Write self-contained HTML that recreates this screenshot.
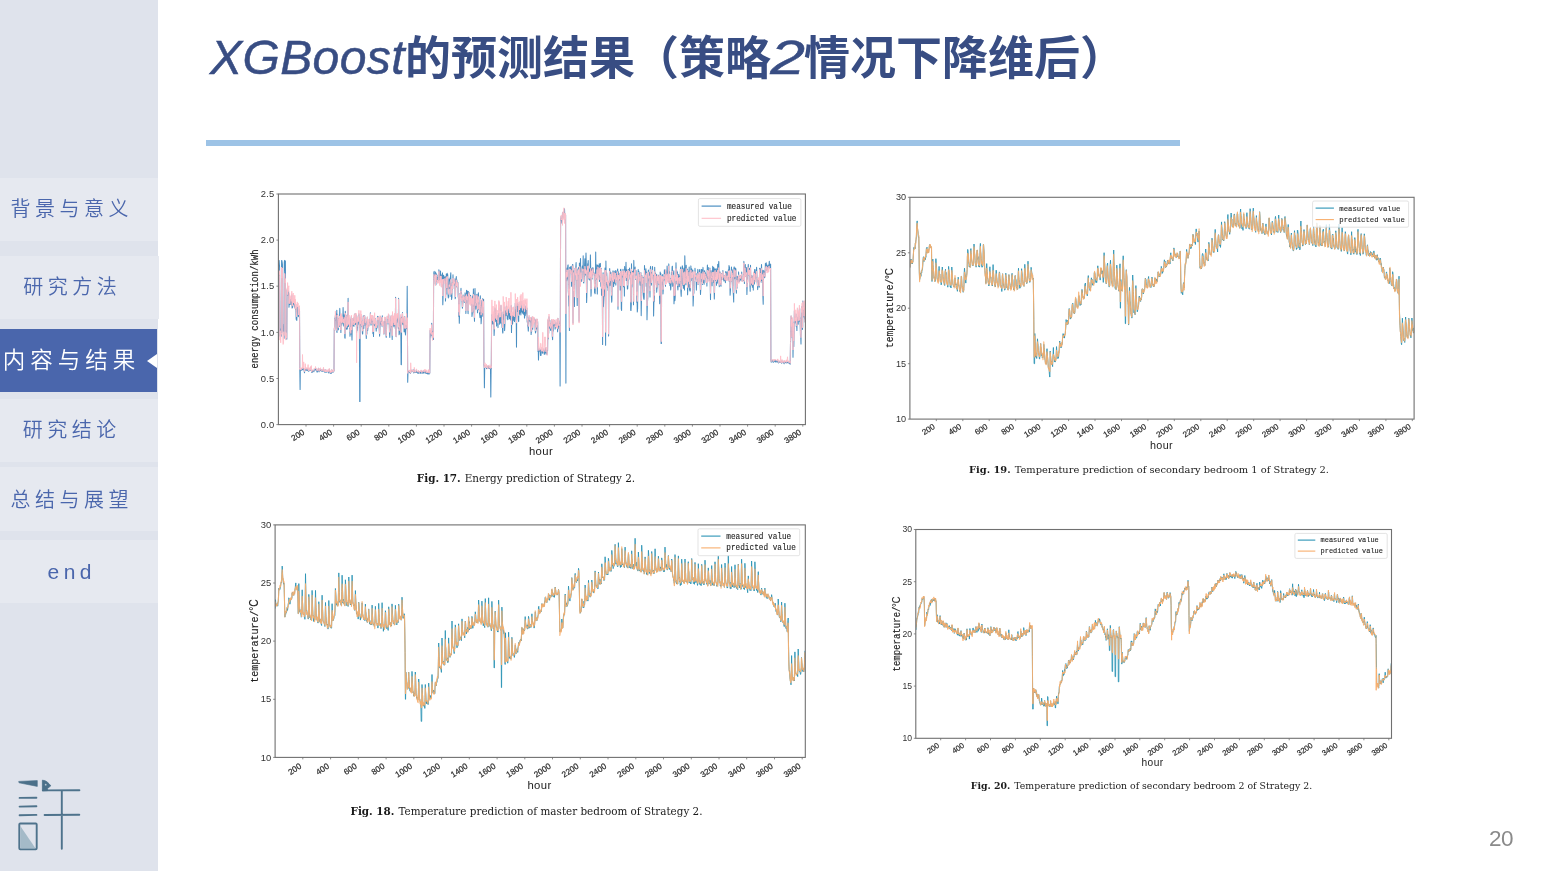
<!DOCTYPE html>
<html lang="zh-CN">
<head>
<meta charset="utf-8">
<title>XGBoost的预测结果（策略2情况下降维后）</title>
<style>
html,body{margin:0;padding:0;}
body{width:1562px;height:882px;background:#fff;position:relative;overflow:hidden;
 font-family:"Liberation Sans","Noto Sans CJK SC",sans-serif;}
#slide{position:absolute;left:0;top:0;width:1562px;height:871px;background:#fff;overflow:hidden;}
#side{position:absolute;left:0;top:0;width:158px;height:871px;background:#dfe3ec;}
.nav{position:absolute;left:0;width:158px;height:63px;background:#e6e9f0;color:#4a66ac;
 font-family:"Liberation Sans","Noto Sans CJK SC",sans-serif;font-weight:350;
 font-size:20px;letter-spacing:4.5px;line-height:63px;text-align:center;white-space:nowrap;}
.nav span{display:inline-block;margin-right:-4.5px;position:relative;left:-9.5px;}
.nav.on{background:#4a66ac;color:#fff;font-size:22.5px;letter-spacing:5px;width:157px;}
.nav.on span{margin-right:-5px;}
.nav.on:after{content:"";position:absolute;right:0;top:50%;margin-top:-7px;border-style:solid;
 border-width:7px 10px 7px 0;border-color:transparent #fff transparent transparent;}
#title{position:absolute;left:210px;top:25px;height:66px;line-height:66px;white-space:nowrap;color:#384d83;
 font-family:"Liberation Sans","Noto Sans CJK SC",sans-serif;font-weight:700;font-size:46px;}
#title .en{font-weight:400;font-style:italic;font-size:48px;letter-spacing:0.4px;-webkit-text-stroke:0.5px #384d83;}
#title .two{display:inline-block;width:33px;text-align:center;transform:scaleX(1.3);letter-spacing:0;}
#rule{position:absolute;left:206px;top:140px;width:974px;height:6px;background:#9dc3e6;}
#pg{position:absolute;right:49px;top:827px;text-align:right;font-size:22.5px;letter-spacing:-0.5px;padding-right:0;line-height:24px;color:#8a8a8a;}
.chart{position:absolute;left:0;top:0;}
</style>
</head>
<body>
<div id="slide">
 <div id="side">
  <div class="nav" style="top:178px"><span>背景与意义</span></div>
  <div class="nav" style="top:256px;width:159px"><span>研究方法</span></div>
  <div class="nav on" style="top:329px"><span>内容与结果</span></div>
  <div class="nav" style="top:399px"><span>研究结论</span></div>
  <div class="nav" style="top:467px;height:64px;line-height:66px"><span>总结与展望</span></div>
  <div class="nav" style="top:540px;font-size:21px"><span>end</span></div>
  <svg id="logo" style="position:absolute;left:0;top:770px" width="100" height="95" viewBox="0 770 100 95">
   <g fill="none" stroke="#4e738c" stroke-width="1.9" stroke-linecap="round" stroke-linejoin="round">
    <path d="M19.6 797.9 L36.4 797.7 M19.6 806.6 L36.4 806.3 M19.6 815.2 L36.4 814.9"/>
    <rect x="19.3" y="823.5" width="17.4" height="25.8" rx="1"/>
    <path d="M43 790.4 L79.4 790.2 M44.6 815 L79.3 814.7 M61.8 790.5 L61.8 848.8"/>
   </g>
   <path d="M18.7 781.4 L37.3 780.6 L37.3 786.4 L19 782.8 Z" fill="#4b7089" stroke="#4b7089" stroke-width="0.6" stroke-linejoin="round"/>
   <path d="M20.3 826 L20.3 848.4 L35.6 848.4 Z" fill="#a4bac8"/>
   <path d="M42.4 780.2 C46 780.2 48.5 783 50.8 785.8 L47.4 788.6 L47.6 790.6 L42.4 790.9 Z" fill="#4b7089" stroke="#4b7089" stroke-width="0.8" stroke-linejoin="round"/>
   <circle cx="45.7" cy="784.7" r="0.9" fill="#b9c9d4"/>
  </svg>
 </div>
 <div id="title"><span class="en">XGBoost</span>的预测结果<span style="margin-left:-2px">（</span>策略<span class="en two">2</span>情况下降维后）</div>
 <div id="rule"></div>
<svg class="chart" width="1562" height="871" viewBox="0 0 1562 871">
<g>
<clipPath id="c1"><rect x="278.4" y="194" width="527" height="230.6"/></clipPath>
<g clip-path="url(#c1)">
<polyline fill="none" stroke="#3c85bd" stroke-width="1.05" stroke-linejoin="round" opacity="0.92" points="278.5,265.9 278.8,260.4 279.1,260.4 279.4,264.7 279.6,267.5 279.9,336 280.2,330.7 280.5,329 280.7,330.8 281,335.1 281.3,336.2 281.6,260.4 281.8,260.4 282.1,262 282.4,264.5 282.7,330.1 283,332.4 283.2,332 283.5,334.7 283.8,324.4 284.1,338.3 284.3,262.3 284.6,260.4 284.9,264 285.2,270.7 285.4,260.9 285.7,331.2 286,330.5 286.3,336.4 286.5,337.1 286.8,339.2 287.1,289.7 287.4,295.2 287.6,290.5 287.9,295.5 288.2,291.9 288.5,291 288.8,295.8 289,307.2 289.3,301.9 289.6,296.2 289.9,304.4 290.1,298.5 290.4,300.5 290.7,301.3 291,302.7 291.2,304.8 291.5,298.7 291.8,294.7 292.1,308 292.3,302.3 292.6,307.5 292.9,304.3 293.2,302.6 293.4,304.5 293.7,300.3 294,299.8 294.3,300.8 294.5,307.1 294.8,304.3 295.1,307.9 295.4,304 295.6,309.2 295.9,308.5 296.2,319.2 296.5,319.2 296.8,320.5 297,308.6 297.3,304.4 297.6,310.5 297.9,307.2 298.1,313.4 298.4,316.8 298.7,310 299,310.9 299.2,310.8 299.5,308.9 299.8,369.1 300.1,389.5 300.3,370.4 300.6,369.2 300.9,370.5 301.2,370.4 301.4,369.4 301.7,368.9 302,369.1 302.3,369.6 302.5,367.9 302.8,369.8 303.1,368.5 303.4,368.1 303.7,368.8 303.9,368.9 304.2,370.9 304.5,372.8 304.8,369.9 305,370.5 305.3,369.9 305.6,369.3 305.9,368.8 306.1,369 306.4,369 306.7,370.5 307,368.2 307.2,370.4 307.5,370.2 307.8,368.6 308.1,370.5 308.3,371.2 308.6,371.2 308.9,369 309.2,370.4 309.4,369.1 309.7,370.8 310,368.7 310.3,368.8 310.6,370 310.8,367.4 311.1,370.3 311.4,370.5 311.7,372.4 311.9,370 312.2,370.9 312.5,372.1 312.8,370.6 313,370.7 313.3,371.3 313.6,371.2 313.9,371.7 314.1,370.4 314.4,369.3 314.7,370 315,369.3 315.2,369.7 315.5,368.7 315.8,368.5 316.1,370.3 316.3,370 316.6,370 316.9,371.7 317.2,372.1 317.5,371 317.7,370.3 318,370.1 318.3,369.1 318.6,368.3 318.8,371.5 319.1,371.8 319.4,369.9 319.7,370.7 319.9,370.2 320.2,370.6 320.5,369.6 320.8,369.8 321,370.3 321.3,370.9 321.6,371.1 321.9,370 322.1,371 322.4,371.3 322.7,371.1 323,370.8 323.2,370.1 323.5,368.7 323.8,371.2 324.1,371.5 324.4,370.2 324.6,371.3 324.9,372.4 325.2,370.3 325.5,372.1 325.7,369.9 326,371.2 326.3,372.2 326.6,372.1 326.8,371.7 327.1,372 327.4,370.9 327.7,371.3 327.9,371.4 328.2,371.8 328.5,372.2 328.8,370.7 329,373.1 329.3,369.3 329.6,371.2 329.9,371.4 330.1,372.6 330.4,372 330.7,373.5 331,372 331.3,371.3 331.5,373.3 331.8,369.9 332.1,370.7 332.4,372 332.6,371.6 332.9,372.1 333.2,372.1 333.5,371 333.7,370.8 334,371 334.3,328.6 334.6,330.8 334.8,318.1 335.1,319.3 335.4,315.5 335.7,320.8 335.9,313.8 336.2,328.8 336.5,331 336.8,310.2 337,332.4 337.3,315.7 337.6,314.4 337.9,320.8 338.2,321.2 338.4,329.7 338.7,318.8 339,320.5 339.3,326.4 339.5,318.6 339.8,308.4 340.1,323.9 340.4,324 340.6,314.5 340.9,332.4 341.2,315.5 341.5,322.9 341.7,325.2 342,322.6 342.3,317.6 342.6,318.7 342.8,322.9 343.1,307.5 343.4,320.1 343.7,325.3 343.9,326.1 344.2,314.7 344.5,322.5 344.8,337.8 345.1,338.1 345.3,311.3 345.6,318.1 345.9,324.9 346.2,325.2 346.4,329.3 346.7,318.4 347,315 347.3,328.9 347.5,319.7 347.8,318.8 348.1,298.2 348.4,320.9 348.6,326.5 348.9,318.6 349.2,318.2 349.5,328.2 349.7,319 350,336.2 350.3,328.8 350.6,328.7 350.8,334 351.1,319 351.4,316.4 351.7,331.9 352,339.9 352.2,327.5 352.5,323.6 352.8,318.5 353.1,325.4 353.3,323.3 353.6,322.7 353.9,326.5 354.2,317 354.4,324.5 354.7,323.3 355,313.9 355.3,313.7 355.5,324.5 355.8,324.6 356.1,314.9 356.4,326.1 356.6,332.4 356.9,327.3 357.2,330.5 357.5,326.5 357.8,319.8 358,324.5 358.3,315.7 358.6,323.1 358.9,313.7 359.1,318.3 359.4,329.5 359.7,401.5 360,401.5 360.2,324.6 360.5,325.5 360.8,317.3 361.1,322.7 361.3,316.2 361.6,320.4 361.9,326.6 362.2,323.8 362.4,333.2 362.7,334.1 363,324.4 363.3,315.7 363.5,323.8 363.8,328.4 364.1,320 364.4,317.6 364.6,315.6 364.9,318.1 365.2,325.2 365.5,320.9 365.8,322.2 366,330.8 366.3,338.5 366.6,326.5 366.9,333.9 367.1,320.3 367.4,317.4 367.7,330.5 368,326.6 368.2,325.2 368.5,325.3 368.8,323.7 369.1,325.4 369.3,320.3 369.6,319.3 369.9,321 370.2,323.2 370.4,312.8 370.7,320.9 371,325.2 371.3,323.3 371.5,318.3 371.8,317.2 372.1,321.7 372.4,321.9 372.7,316.1 372.9,333.6 373.2,324.2 373.5,336.4 373.8,323.8 374,326.3 374.3,323.8 374.6,322.3 374.9,322.3 375.1,325.5 375.4,318.7 375.7,325.9 376,327.6 376.2,331.1 376.5,326.6 376.8,325.3 377.1,327.9 377.3,320.7 377.6,316.3 377.9,317.6 378.2,318.3 378.4,320.5 378.7,316.9 379,325.3 379.3,330.4 379.6,336.2 379.8,331.9 380.1,324.8 380.4,316.6 380.7,324.1 380.9,317.8 381.2,323.9 381.5,324.3 381.8,324.4 382,326.2 382.3,315.8 382.6,323.2 382.9,325 383.1,322 383.4,326.2 383.7,333.8 384,334 384.2,324.4 384.5,319.7 384.8,322 385.1,319.5 385.3,317.8 385.6,322.7 385.9,334.2 386.2,337.4 386.5,330.9 386.7,322.3 387,324.2 387.3,316.6 387.6,317 387.8,318.6 388.1,319 388.4,316.7 388.7,314.7 388.9,324 389.2,321.7 389.5,332.7 389.8,337.5 390,332.2 390.3,329.7 390.6,321.4 390.9,318.1 391.1,316.1 391.4,326.8 391.7,320.2 392,333.2 392.2,339.5 392.5,313.6 392.8,325.8 393.1,320.9 393.4,320.4 393.6,317.2 393.9,326.8 394.2,316.9 394.5,325.2 394.7,315.1 395,315.8 395.3,328.5 395.6,297.3 395.8,333.7 396.1,336.8 396.4,323.1 396.7,322.6 396.9,321.8 397.2,318.6 397.5,315.5 397.8,319.1 398,319.8 398.3,328.3 398.6,298.2 398.9,324.1 399.1,334.7 399.4,333.5 399.7,326.1 400,326 400.3,320.1 400.5,317.2 400.8,321.4 401.1,364.6 401.4,364.6 401.6,317.2 401.9,323.8 402.2,316.5 402.5,312.6 402.7,322.6 403,324.8 403.3,320.9 403.6,318.1 403.8,319 404.1,331.8 404.4,319.3 404.7,316.5 404.9,331.7 405.2,331.6 405.5,334.9 405.8,324.7 406,328.1 406.3,323.5 406.6,316.3 406.9,328.7 407.2,286.2 407.4,322.8 407.7,382.2 408,371.8 408.3,372 408.5,371.6 408.8,371.7 409.1,370.9 409.4,371.2 409.6,372.8 409.9,371.2 410.2,371.9 410.5,373.5 410.7,372 411,370 411.3,370.6 411.6,370.5 411.8,371.8 412.1,371.2 412.4,370.9 412.7,371.2 412.9,371.5 413.2,369.7 413.5,371.6 413.8,372.9 414.1,371.8 414.3,372 414.6,369.8 414.9,372.3 415.2,372.4 415.4,372.5 415.7,371.9 416,371.8 416.3,372.2 416.5,370.8 416.8,371.5 417.1,372.5 417.4,372.9 417.6,372.9 417.9,371.8 418.2,373.4 418.5,371.2 418.7,371.6 419,372.2 419.3,373 419.6,371.7 419.9,371.6 420.1,371.4 420.4,373.3 420.7,372.4 421,371.8 421.2,370.9 421.5,371.8 421.8,373 422.1,373.4 422.3,372.1 422.6,372.1 422.9,371.4 423.2,371.4 423.4,373.1 423.7,371.6 424,370.7 424.3,371 424.5,371.6 424.8,373 425.1,371.8 425.4,373.1 425.6,370.8 425.9,371.5 426.2,373.1 426.5,373.4 426.8,372.3 427,372.3 427.3,372.6 427.6,373.9 427.9,372.9 428.1,372.5 428.4,373.8 428.7,370.6 429,374.2 429.2,372.5 429.5,372.9 429.8,372.9 430.1,330.4 430.3,337.6 430.6,330.5 430.9,335.3 431.2,333.3 431.4,335.1 431.7,323.3 432,335.3 432.3,336.9 432.5,338.5 432.8,333.8 433.1,331.1 433.4,339.4 433.6,279 433.9,272.1 434.2,271.4 434.5,276.9 434.8,275.4 435,277 435.3,284.1 435.6,272.1 435.9,284.7 436.1,274.7 436.4,273.8 436.7,276.7 437,274.9 437.2,281.4 437.5,278 437.8,282.6 438.1,277.3 438.3,279.2 438.6,280.8 438.9,269.7 439.2,272 439.4,277.4 439.7,280.4 440,274.8 440.3,279.1 440.5,271.1 440.8,280 441.1,274.9 441.4,286.6 441.7,276.6 441.9,274.7 442.2,283.5 442.5,272.9 442.8,304.7 443,299.4 443.3,276.1 443.6,275.3 443.9,276.7 444.1,277.4 444.4,278.6 444.7,281.1 445,276.7 445.2,276.8 445.5,301 445.8,291 446.1,294.3 446.3,274 446.6,280.3 446.9,288.6 447.2,273.2 447.4,276.7 447.7,274.6 448,294.6 448.3,298 448.6,292.8 448.8,296.9 449.1,278.9 449.4,284.8 449.7,288.4 449.9,286 450.2,277.8 450.5,276.5 450.8,272.8 451,296.4 451.3,289 451.6,299.4 451.9,297.1 452.1,283.1 452.4,288.4 452.7,288.7 453,274.7 453.2,283.7 453.5,280.6 453.8,279.8 454.1,279.1 454.4,285.3 454.6,282 454.9,282.5 455.2,298.8 455.5,296.6 455.7,278.7 456,280.7 456.3,276.6 456.6,286.8 456.8,279.8 457.1,283.1 457.4,284.3 457.7,283.7 457.9,282.4 458.2,296.5 458.5,298.5 458.8,316.6 459,307.4 459.3,323.3 459.6,310.7 459.9,297 460.1,293.2 460.4,296 460.7,293.3 461,288.3 461.2,297.7 461.5,292.3 461.8,299.7 462.1,302.6 462.4,308.3 462.6,306.8 462.9,301.7 463.2,295 463.5,299.5 463.7,295.6 464,296.8 464.3,302.5 464.6,298.5 464.8,300.5 465.1,292.9 465.4,299.6 465.7,308.9 465.9,313.4 466.2,300.6 466.5,290.3 466.8,297 467,302.8 467.3,295.4 467.6,291 467.9,310 468.1,313.7 468.4,291.5 468.7,293.8 469,292.5 469.3,301.1 469.5,295.1 469.8,296.8 470.1,296.4 470.4,303.1 470.6,295.2 470.9,301.3 471.2,300 471.5,299.7 471.7,305.3 472,316.4 472.3,313.5 472.6,296 472.8,303.1 473.1,306.4 473.4,288.9 473.7,304 473.9,312.6 474.2,313.3 474.5,321.3 474.8,295 475,288.5 475.3,301.3 475.6,303.5 475.9,309.2 476.2,305.2 476.4,295.3 476.7,303.5 477,294.2 477.3,303.9 477.5,312.7 477.8,298.5 478.1,298.3 478.4,292.7 478.6,299.1 478.9,309.8 479.2,305.9 479.5,313.4 479.7,314.6 480,317.7 480.3,295.7 480.6,302.9 480.8,304.1 481.1,323.8 481.4,318.9 481.7,305.8 481.9,300.6 482.2,304.1 482.5,298.7 482.8,316.3 483.1,299.4 483.3,300.6 483.6,299.2 483.9,365 484.2,367.5 484.4,387.7 484.7,368 485,365.4 485.3,366.8 485.5,366.6 485.8,366.8 486.1,366.9 486.4,365.5 486.6,368.7 486.9,366.6 487.2,366.1 487.5,367.7 487.7,368.3 488,368.5 488.3,366.7 488.6,366 488.9,368.2 489.1,368.2 489.4,368 489.7,368.4 490,366.5 490.2,369 490.5,368.3 490.8,396.9 491.1,366.7 491.3,369 491.6,319.7 491.9,314.3 492.2,324.2 492.4,323.6 492.7,320.5 493,316.5 493.3,318 493.5,324 493.8,314.2 494.1,335.4 494.4,329 494.6,311.2 494.9,308 495.2,313.3 495.5,319.7 495.8,321.8 496,320 496.3,310 496.6,326 496.9,316.5 497.1,320.9 497.4,315.4 497.7,319.8 498,327.6 498.2,317.6 498.5,317.1 498.8,313.3 499.1,316.6 499.3,308.3 499.6,324.2 499.9,318.9 500.2,313.4 500.4,313.6 500.7,323.1 501,305.6 501.3,314.6 501.5,316.7 501.8,317.9 502.1,327.6 502.4,323.3 502.6,332 502.9,333.1 503.2,311.9 503.5,313.8 503.8,311.8 504,319.3 504.3,307 504.6,330.6 504.9,325.3 505.1,311.9 505.4,311.1 505.7,312.7 506,315.8 506.2,307.2 506.5,305.9 506.8,314.2 507.1,309.7 507.3,318.9 507.6,308.7 507.9,319.8 508.2,315.3 508.4,312.4 508.7,311.9 509,308.9 509.3,315.3 509.5,318.7 509.8,310.7 510.1,318.9 510.4,307 510.7,320 510.9,308.4 511.2,305.6 511.5,332.4 511.8,314.4 512,320.7 512.3,318 512.6,324.1 512.9,313.1 513.1,316.1 513.4,311.9 513.7,320.3 514,317 514.2,318.9 514.5,321.6 514.8,319.2 515.1,315.8 515.3,303.2 515.6,309.2 515.9,311.1 516.2,312 516.5,347.1 516.7,304.7 517,309 517.3,303.1 517.6,311.5 517.8,306.1 518.1,304.2 518.4,319.9 518.7,321.6 518.9,307.2 519.2,306.9 519.5,314.2 519.8,311.5 520,309.3 520.3,301.4 520.6,311 520.9,314.9 521.1,301.3 521.4,311.9 521.7,309.3 522,310.1 522.2,308.7 522.5,313.1 522.8,307.8 523.1,307.9 523.4,314.2 523.6,307.3 523.9,304.3 524.2,306.7 524.5,318.1 524.7,315.4 525,308.8 525.3,315.6 525.6,307.2 525.8,306.1 526.1,313 526.4,309.6 526.7,314.2 526.9,308 527.2,321.9 527.5,318.9 527.8,325.9 528,326.7 528.3,331.1 528.6,325.4 528.9,318.9 529.1,316.7 529.4,319.7 529.7,318 530,321.5 530.2,318.5 530.5,322.2 530.8,318.1 531.1,334.6 531.4,331.2 531.6,331.9 531.9,319.7 532.2,317 532.5,318.6 532.7,329.3 533,318.5 533.3,317.8 533.6,323.1 533.8,321.9 534.1,318.6 534.4,320.9 534.7,322.1 534.9,320.3 535.2,329.3 535.5,333 535.8,331.7 536,319.4 536.3,321.5 536.6,328.9 536.9,324.3 537.1,324.8 537.4,319.3 537.7,323.3 538,351.6 538.3,350.2 538.5,360 538.8,348.9 539.1,348.8 539.4,351.1 539.6,350.7 539.9,350.3 540.2,349.3 540.5,355.4 540.7,355.4 541,355.4 541.3,350.5 541.6,349.6 541.8,349.8 542.1,350.2 542.4,352.1 542.7,353.3 542.9,351.8 543.2,352.6 543.5,351.1 543.8,350 544,348.9 544.3,354.5 544.6,352.7 544.9,352.7 545.2,352.7 545.4,352.7 545.7,347.8 546,354 546.3,349.5 546.5,350.8 546.8,353 547.1,354.4 547.4,352 547.6,350.1 547.9,320.4 548.2,339.1 548.5,331.6 548.7,333.2 549,316.7 549.3,322.8 549.6,328.1 549.8,320.3 550.1,325.9 550.4,328.6 550.7,330.5 551,323.9 551.2,326 551.5,326.5 551.8,319.9 552.1,325.7 552.3,336.1 552.6,339.7 552.9,321.5 553.2,330.9 553.4,320.6 553.7,320.9 554,325.7 554.3,321.1 554.5,325.9 554.8,320.7 555.1,329.1 555.4,327.1 555.6,326.6 555.9,326.7 556.2,322.5 556.5,325.7 556.7,326.2 557,327.8 557.3,323.4 557.6,331.8 557.9,318.2 558.1,328.9 558.4,327.6 558.7,320.7 559,322.4 559.2,326.5 559.5,323.5 559.8,327.7 560.1,385.9 560.3,328.5 560.6,219.2 560.9,218.5 561.2,216.3 561.4,218.6 561.7,220.4 562,223.3 562.3,220 562.5,212.4 562.8,213.7 563.1,216.9 563.4,215.9 563.6,217.6 563.9,211.8 564.2,218.8 564.5,208.8 564.8,216.2 565,220 565.3,214.1 565.6,214.9 565.9,383.1 566.1,271 566.4,273.8 566.7,280.8 567,268.1 567.2,279.1 567.5,275 567.8,265.6 568.1,264.9 568.3,290.6 568.6,295.5 568.9,305.9 569.2,295.6 569.4,330.5 569.7,267.3 570,270.5 570.3,267.1 570.5,267.6 570.8,273 571.1,266.2 571.4,276.8 571.6,286.3 571.9,272.6 572.2,272.1 572.5,264.7 572.8,264.5 573,323.1 573.3,270.5 573.6,273.7 573.9,301.9 574.1,298.2 574.4,306.5 574.7,291.8 575,268.4 575.2,275.4 575.5,273.3 575.8,267.8 576.1,262.6 576.3,279.9 576.6,274.4 576.9,289.5 577.2,305.4 577.4,281.9 577.7,272.2 578,268.7 578.3,275 578.5,267.6 578.8,274.9 579.1,321.3 579.4,263 579.7,265.7 579.9,265.8 580.2,273.8 580.5,258.6 580.8,281.4 581,273.8 581.3,280.4 581.6,281.2 581.9,278.2 582.1,268 582.4,266.1 582.7,265.7 583,269.8 583.2,255.8 583.5,282.5 583.8,283 584.1,277.2 584.3,277 584.6,264.7 584.9,258.7 585.2,266.4 585.5,274.9 585.7,263.8 586,253 586.3,267.4 586.6,302.5 586.8,297 587.1,279.6 587.4,269.1 587.7,263.6 587.9,271.4 588.2,260.5 588.5,274.1 588.8,271.3 589,279.2 589.3,268.9 589.6,277.9 589.9,280.1 590.1,272.2 590.4,254.9 590.7,270.1 591,296.2 591.2,292.2 591.5,273.5 591.8,268.6 592.1,278.9 592.4,268.1 592.6,275.4 592.9,267.7 593.2,268.6 593.5,271 593.7,273.7 594,272.9 594.3,273.1 594.6,292.8 594.8,286.8 595.1,293.8 595.4,283.5 595.7,252.1 595.9,274 596.2,275.5 596.5,277.9 596.8,279.3 597,264.8 597.3,293.9 597.6,277.7 597.9,265.4 598.1,265.8 598.4,271.6 598.7,275.2 599,277.2 599.2,263.8 599.5,281.4 599.8,274.1 600.1,266.2 600.4,263.4 600.6,276.3 600.9,286.2 601.2,268.4 601.5,295.3 601.7,287.3 602,288.8 602.3,287.6 602.6,344.4 602.8,281.8 603.1,272.7 603.4,306.8 603.7,300.6 603.9,295 604.2,296.3 604.5,283.2 604.8,280.1 605,268 605.3,276.9 605.6,345.3 605.9,261.1 606.1,271.9 606.4,284.7 606.7,272.8 607,278.8 607.3,287 607.5,285.8 607.8,283.6 608.1,290.4 608.4,281.6 608.6,336 608.9,284.2 609.2,284.5 609.5,271.1 609.7,268.6 610,285.6 610.3,278 610.6,272.1 610.8,280.2 611.1,278.4 611.4,296.2 611.7,302.1 611.9,299.9 612.2,272.5 612.5,280.9 612.8,274.1 613,270.7 613.3,277.7 613.6,286.6 613.9,280.6 614.2,271.7 614.4,283.6 614.7,275.6 615,273.2 615.3,270.6 615.5,272.2 615.8,285.1 616.1,275.3 616.4,274.4 616.6,279.9 616.9,271.1 617.2,275.9 617.5,269.8 617.7,269 618,309.3 618.3,271.8 618.6,280.3 618.8,274.9 619.1,275.5 619.4,280.1 619.7,274.3 620,273.2 620.2,289.9 620.5,269.6 620.8,269.2 621.1,273.3 621.3,309 621.6,310.5 621.9,274.9 622.2,272 622.4,274.9 622.7,276.9 623,269.3 623.3,272.3 623.5,286.8 623.8,284.1 624.1,275.1 624.4,296.1 624.6,266.6 624.9,277.8 625.2,272.6 625.5,269.4 625.7,272.4 626,262.3 626.3,280.5 626.6,269.6 626.9,271.8 627.1,274 627.4,289 627.7,288.8 628,282.5 628.2,269.5 628.5,280 628.8,274.7 629.1,269.4 629.3,270.4 629.6,268.1 629.9,271.5 630.2,279.2 630.4,272 630.7,310.3 631,310.5 631.3,304.6 631.5,263.8 631.8,286.9 632.1,277.5 632.4,271.6 632.6,275.4 632.9,274.2 633.2,270.8 633.5,304.7 633.8,260.4 634,270.9 634.3,268.8 634.6,268.6 634.9,271.4 635.1,267.1 635.4,278 635.7,279.3 636,270.5 636.2,279.5 636.5,277.4 636.8,302.6 637.1,301.4 637.3,312 637.6,308.4 637.9,277.2 638.2,269.5 638.4,282.3 638.7,270.9 639,272.3 639.3,274.4 639.5,279.1 639.8,280.7 640.1,285.2 640.4,277.1 640.7,273.6 640.9,272.7 641.2,315.6 641.5,298.8 641.8,291 642,275.7 642.3,281.6 642.6,280.5 642.9,281.9 643.1,277.2 643.4,294.8 643.7,298.6 644,299.4 644.2,297.4 644.5,265.5 644.8,274.3 645.1,271.3 645.3,272.6 645.6,273.9 645.9,268.8 646.2,286.3 646.4,271.8 646.7,274.4 647,319.7 647.3,306.4 647.5,301.5 647.8,297.3 648.1,275.2 648.4,270.1 648.7,279.1 648.9,280.8 649.2,272.4 649.5,287.9 649.8,286.9 650,297 650.3,268.8 650.6,266.4 650.9,277.3 651.1,279.6 651.4,285.1 651.7,272.8 652,275.1 652.2,276.1 652.5,266.6 652.8,278.8 653.1,276.5 653.3,275.3 653.6,316 653.9,301.6 654.2,301.8 654.5,296.4 654.7,267.2 655,282.7 655.3,272.8 655.6,275.4 655.8,274.1 656.1,275.5 656.4,274.4 656.7,292.2 656.9,288.1 657.2,288.1 657.5,276.1 657.8,278.7 658,275 658.3,277.7 658.6,275.4 658.9,284.8 659.1,276.9 659.4,291.5 659.7,303.7 660,300.9 660.2,272.1 660.5,275.2 660.8,273.6 661.1,343.4 661.4,343.4 661.6,276.4 661.9,285 662.2,275.7 662.5,278.3 662.7,274.5 663,294 663.3,288.5 663.6,284.7 663.8,277.8 664.1,280.3 664.4,269.7 664.7,277.1 664.9,278.8 665.2,272.7 665.5,286.3 665.8,270 666,271.5 666.3,279.8 666.6,277.5 666.9,276.9 667.1,266 667.4,274.2 667.7,276.9 668,279.2 668.2,281.7 668.5,272 668.8,263.9 669.1,282.9 669.4,271.4 669.6,272.4 669.9,285.4 670.2,278.3 670.5,287.2 670.7,290 671,285.8 671.3,282.6 671.6,272.2 671.8,280.7 672.1,266.8 672.4,266.3 672.7,286.2 672.9,272.8 673.2,285.4 673.5,276.9 673.8,270.7 674,303.8 674.3,292.5 674.6,286.4 674.9,300.8 675.2,296.9 675.4,278.9 675.7,284.7 676,262.8 676.3,280.2 676.5,282.1 676.8,270.7 677.1,283.6 677.4,271.9 677.6,286.6 677.9,290 678.2,282.2 678.5,277.8 678.7,274.3 679,284 679.3,286.8 679.6,276.1 679.8,280.6 680.1,280.9 680.4,269.4 680.7,267.1 680.9,291.8 681.2,296.4 681.5,285.7 681.8,285.5 682,278.9 682.3,265.8 682.6,267.1 682.9,276.6 683.2,284.7 683.4,288.4 683.7,272.4 684,268.3 684.3,280 684.5,290 684.8,255.8 685.1,268.8 685.4,276.4 685.6,275.8 685.9,284.7 686.2,265.2 686.5,278 686.7,268.8 687,278.5 687.3,269.2 687.6,294.7 687.8,287.7 688.1,271.2 688.4,287 688.7,276 689,271.2 689.2,267.1 689.5,289.9 689.8,288.1 690.1,291.1 690.3,290.1 690.6,283.6 690.9,265.9 691.2,280.4 691.4,271.6 691.7,268.8 692,276 692.3,271.4 692.5,278.7 692.8,270 693.1,305.9 693.4,298.6 693.6,292.3 693.9,293.2 694.2,274.8 694.5,275.9 694.7,279.5 695,268.3 695.3,273.7 695.6,276 695.9,276.3 696.1,279.1 696.4,290.1 696.7,279.4 697,273.3 697.2,276.5 697.5,276.9 697.8,269.4 698.1,284.5 698.3,277 698.6,275.6 698.9,274.3 699.2,281.6 699.4,269.5 699.7,274.2 700,276 700.3,286.7 700.5,294.5 700.8,288.5 701.1,269.5 701.4,277.7 701.6,281.3 701.9,269.6 702.2,271 702.5,284.5 702.8,277.7 703,267.4 703.3,275.1 703.6,282.4 703.9,272.5 704.1,284.3 704.4,270.9 704.7,270.7 705,275.4 705.2,272.3 705.5,277.4 705.8,273.7 706.1,282.1 706.3,282.5 706.6,276 706.9,286.1 707.2,270.6 707.4,265 707.7,270.9 708,278.6 708.3,267.5 708.5,278.2 708.8,278.5 709.1,280.6 709.4,271.7 709.7,272.4 709.9,268 710.2,280.7 710.5,299.6 710.8,278.7 711,270.5 711.3,273.2 711.6,281.1 711.9,277.6 712.1,285.8 712.4,274.3 712.7,266.2 713,271.9 713.2,275.5 713.5,282.6 713.8,267.4 714.1,282.7 714.3,299 714.6,290 714.9,268.8 715.2,268.9 715.4,280.4 715.7,273.1 716,280 716.3,268.8 716.5,285.2 716.8,274 717.1,270.4 717.4,283.1 717.7,264.4 717.9,278.2 718.2,277.6 718.5,264.7 718.8,261.4 719,277.9 719.3,286.8 719.6,274.6 719.9,279.9 720.1,271.9 720.4,284.9 720.7,278.9 721,286.2 721.2,275.9 721.5,273.5 721.8,279.6 722.1,276.7 722.3,274.2 722.6,277.6 722.9,270.6 723.2,279.4 723.5,276.8 723.7,279.8 724,281 724.3,275.3 724.6,278.6 724.8,280.1 725.1,277.5 725.4,282.7 725.7,271.5 725.9,273.4 726.2,277.7 726.5,280.3 726.8,276.8 727,271.8 727.3,275.5 727.6,278.6 727.9,279.7 728.1,273.8 728.4,269.8 728.7,279.7 729,265.5 729.2,281.2 729.5,266.7 729.8,275.3 730.1,295.2 730.4,290.8 730.6,285.4 730.9,277.5 731.2,281.7 731.5,267 731.7,277.5 732,269.4 732.3,270.5 732.6,277.9 732.8,279.4 733.1,290.8 733.4,295.1 733.7,301.9 733.9,268.1 734.2,266.9 734.5,268.6 734.8,278.7 735,274.4 735.3,270.7 735.6,268.1 735.9,269.5 736.1,288.1 736.4,293.3 736.7,282.3 737,288.3 737.2,276.2 737.5,283.8 737.8,280 738.1,278.3 738.4,277.8 738.6,271.9 738.9,282 739.2,279 739.5,279.1 739.7,281.3 740,278.4 740.3,275.5 740.6,280 740.8,276.7 741.1,275.4 741.4,277.9 741.7,272.1 741.9,280.4 742.2,281 742.5,280.4 742.8,278.9 743,280.7 743.3,278.5 743.6,272.7 743.9,261.4 744.2,269.8 744.4,283.5 744.7,270.8 745,266.5 745.3,264.6 745.5,276.5 745.8,273.8 746.1,273.9 746.4,267.5 746.6,275.9 746.9,294.5 747.2,285.7 747.5,277.1 747.7,281.3 748,268 748.3,264.4 748.6,274.9 748.8,273.9 749.1,270.9 749.4,268.3 749.7,276.1 749.9,284.4 750.2,291.2 750.5,265.3 750.8,279.7 751,277.3 751.3,285 751.6,275.7 751.9,276.9 752.2,283.1 752.4,287.2 752.7,284.4 753,275.7 753.3,290.1 753.5,272.9 753.8,278.3 754.1,276 754.4,284 754.6,269.6 754.9,280.3 755.2,281 755.5,274.9 755.7,277.9 756,269.5 756.3,275.3 756.6,267.2 756.8,272.3 757.1,281.8 757.4,284.8 757.7,289.6 758,279.5 758.2,281.7 758.5,279.1 758.8,281.3 759.1,287.2 759.3,286.7 759.6,268.3 759.9,280.2 760.2,268.4 760.4,281.8 760.7,280.2 761,280.7 761.3,273.5 761.5,264.6 761.8,273.7 762.1,282.4 762.4,270.4 762.6,276.7 762.9,296.6 763.2,304.2 763.5,275.7 763.7,270.4 764,271.3 764.3,274.2 764.6,277.8 764.9,276.7 765.1,275.5 765.4,263.6 765.7,265.4 766,266.6 766.2,262.7 766.5,265.2 766.8,270.4 767.1,269.8 767.3,268.8 767.6,266.4 767.9,265 768.2,267.8 768.4,267.5 768.7,266.9 769,265.2 769.3,261.2 769.5,265.3 769.8,268.2 770.1,265 770.4,266.8 770.6,264.1 770.9,359.9 771.2,362.2 771.5,361.8 771.8,361.1 772,360 772.3,360.8 772.6,360.8 772.9,361.2 773.1,362.2 773.4,362.3 773.7,360.9 774,360.2 774.2,361.3 774.5,361.1 774.8,360.6 775.1,362 775.3,361 775.6,360.2 775.9,361.9 776.2,361.9 776.4,361.9 776.7,361.1 777,361.2 777.3,360.2 777.5,362 777.8,360.6 778.1,361.9 778.4,362.9 778.7,362.7 778.9,361.8 779.2,361.8 779.5,362.2 779.8,361.7 780,361.8 780.3,362.2 780.6,362.5 780.9,361.6 781.1,361.3 781.4,362.9 781.7,363.2 782,360.7 782.2,362.1 782.5,362.1 782.8,361.8 783.1,362.4 783.3,362.7 783.6,361.2 783.9,363 784.2,363.7 784.4,361.3 784.7,361.8 785,362.4 785.3,362.1 785.5,362.4 785.8,362.7 786.1,363 786.4,361.1 786.7,362.5 786.9,362.8 787.2,362.7 787.5,362.5 787.8,361.9 788,362.2 788.3,362.2 788.6,362 788.9,362 789.1,363.7 789.4,362.5 789.7,362.4 790,361.7 790.2,364.2 790.5,343.3 790.8,336.1 791.1,316 791.3,329.9 791.6,317.7 791.9,337 792.2,331.4 792.5,330.9 792.7,321.7 793,357.2 793.3,337.5 793.6,327.1 793.8,346.4 794.1,331.1 794.4,310.7 794.7,317.5 794.9,323.1 795.2,321.6 795.5,319.8 795.8,320.9 796,313.9 796.3,326.6 796.6,319.7 796.9,330.5 797.1,317.5 797.4,317.1 797.7,318.4 798,323.1 798.2,324.3 798.5,316 798.8,312.8 799.1,318.1 799.4,308.7 799.6,321.5 799.9,317.7 800.2,324.9 800.5,336.6 800.7,334.8 801,343.9 801.3,309.4 801.6,307.1 801.8,316 802.1,306.6 802.4,329.4 802.7,327 802.9,301.1 803.2,310.1 803.5,312.1 803.8,310.3 804,316.9 804.3,308.7 804.6,319 804.9,312.2 805.1,322 805.4,312.1"/>
<polyline fill="none" stroke="#ffc0c9" stroke-width="0.95" stroke-linejoin="round" opacity="0.95" points="278.5,281.2 278.8,273.4 279.1,274.3 279.4,270.7 279.6,275.7 279.9,340.1 280.2,330.7 280.5,337.2 280.7,342.8 281,333.1 281.3,334.3 281.6,267.1 281.8,278.2 282.1,276.6 282.4,268 282.7,333 283,344.4 283.2,344.3 283.5,343.3 283.8,331.7 284.1,335.6 284.3,279.3 284.6,273.5 284.9,273.5 285.2,283.1 285.4,278.6 285.7,340.1 286,332.7 286.3,337 286.5,338.2 286.8,337.4 287.1,288.4 287.4,294.6 287.6,282.6 287.9,292 288.2,290.9 288.5,287.6 288.8,285.8 289,303.6 289.3,295.4 289.6,293.5 289.9,303.7 290.1,295.6 290.4,298.9 290.7,297.7 291,299.6 291.2,301.4 291.5,296.8 291.8,291.2 292.1,306.1 292.3,298.7 292.6,305.2 292.9,295.2 293.2,293 293.4,303 293.7,295.2 294,296.3 294.3,297.2 294.5,304.2 294.8,295.4 295.1,309.1 295.4,299.2 295.6,307.8 295.9,304.2 296.2,311.4 296.5,316.7 296.8,313.2 297,304.6 297.3,301.9 297.6,306.9 297.9,305.1 298.1,303.2 298.4,315 298.7,306.8 299,306.2 299.2,306.7 299.5,305.7 299.8,369.4 300.1,368 300.3,369.5 300.6,367.7 300.9,370.1 301.2,369.8 301.4,369 301.7,368.5 302,367.5 302.3,368.5 302.5,354.5 302.8,368.6 303.1,367.1 303.4,368.1 303.7,361.9 303.9,367.2 304.2,369.9 304.5,371.6 304.8,368 305,369.6 305.3,363.7 305.6,368.6 305.9,367.6 306.1,368.6 306.4,369.2 306.7,369.1 307,367.5 307.2,369.5 307.5,368.8 307.8,367.9 308.1,364.6 308.3,370.4 308.6,371 308.9,367.6 309.2,369 309.4,368 309.7,370.6 310,367.7 310.3,368.6 310.6,369.6 310.8,366.4 311.1,370.1 311.4,365.6 311.7,372.1 311.9,369.6 312.2,370.4 312.5,370.8 312.8,370.7 313,370.8 313.3,371 313.6,370.9 313.9,370.5 314.1,368.6 314.4,369.1 314.7,369 315,369.2 315.2,369 315.5,366.5 315.8,368.6 316.1,368.5 316.3,368.8 316.6,369.8 316.9,370.8 317.2,370.3 317.5,370.7 317.7,369.1 318,369.4 318.3,368.1 318.6,368.7 318.8,370.8 319.1,371.3 319.4,369.6 319.7,370.3 319.9,368.2 320.2,369.4 320.5,367.7 320.8,369.3 321,370.3 321.3,371.1 321.6,370.5 321.9,369.7 322.1,369.4 322.4,370.6 322.7,369.7 323,370.1 323.2,369.7 323.5,367.2 323.8,371.4 324.1,369.9 324.4,369.8 324.6,369.3 324.9,371.8 325.2,369.7 325.5,371.9 325.7,370.5 326,371.3 326.3,370.9 326.6,371.7 326.8,369.7 327.1,371.3 327.4,369.8 327.7,371.7 327.9,370.4 328.2,371.8 328.5,370.5 328.8,369.3 329,371.2 329.3,368.3 329.6,369.6 329.9,372.1 330.1,373 330.4,370.8 330.7,372.3 331,372 331.3,370.2 331.5,372.4 331.8,369.5 332.1,370.1 332.4,371.6 332.6,371.1 332.9,371.8 333.2,372.1 333.5,369.5 333.7,371.4 334,370.3 334.3,327.6 334.6,329.9 334.8,319 335.1,319.2 335.4,311.2 335.7,317.1 335.9,315.1 336.2,328.9 336.5,330.6 336.8,328.3 337,327.3 337.3,317.3 337.6,314.6 337.9,318.8 338.2,320.5 338.4,327.7 338.7,318.6 339,319 339.3,325.6 339.5,315.9 339.8,322.1 340.1,321.1 340.4,321 340.6,314.3 340.9,330 341.2,313.5 341.5,322.8 341.7,316.6 342,322.5 342.3,316.7 342.6,319.2 342.8,322.4 343.1,322.5 343.4,319.2 343.7,323.2 343.9,322 344.2,317.3 344.5,321.9 344.8,334.1 345.1,332.5 345.3,313.1 345.6,317.6 345.9,322.5 346.2,325 346.4,327.5 346.7,317.7 347,315.5 347.3,325.8 347.5,317.5 347.8,318.6 348.1,301.9 348.4,319.1 348.6,324.5 348.9,318.8 349.2,315.2 349.5,327.5 349.7,317.8 350,331.6 350.3,330 350.6,327.3 350.8,333.5 351.1,318.4 351.4,315.1 351.7,330.1 352,328.4 352.2,324.4 352.5,323.1 352.8,318.1 353.1,325 353.3,321.1 353.6,321.7 353.9,322.5 354.2,314.7 354.4,324.6 354.7,321.5 355,313.5 355.3,313.4 355.5,322.3 355.8,323.1 356.1,313.3 356.4,323.3 356.6,362.8 356.9,325.9 357.2,326.3 357.5,318.3 357.8,317.4 358,322 358.3,316.5 358.6,321 358.9,310.3 359.1,317.5 359.4,327.9 359.7,338.8 360,338.8 360.2,320.4 360.5,323.9 360.8,310.6 361.1,320.9 361.3,314 361.6,318.7 361.9,325.9 362.2,321.2 362.4,328.6 362.7,331.2 363,325.6 363.3,316.6 363.5,322.2 363.8,325.2 364.1,319.7 364.4,315.5 364.6,315.9 364.9,319.3 365.2,322.8 365.5,320.7 365.8,319 366,326.6 366.3,335.3 366.6,325.3 366.9,330.5 367.1,317.6 367.4,316.6 367.7,328.1 368,323.1 368.2,319.2 368.5,324.4 368.8,323 369.1,326.6 369.3,319.6 369.6,318.9 369.9,319.2 370.2,322.6 370.4,313.5 370.7,320.3 371,324.1 371.3,315.2 371.5,318.4 371.8,315 372.1,320.7 372.4,320.1 372.7,315.2 372.9,332 373.2,325.4 373.5,331.7 373.8,322.8 374,317.4 374.3,324.2 374.6,312.7 374.9,321.5 375.1,322.7 375.4,319.2 375.7,328 376,324.8 376.2,327.9 376.5,321.6 376.8,323.4 377.1,325.4 377.3,317.3 377.6,319.7 377.9,319.1 378.2,320.4 378.4,319.1 378.7,316.8 379,322.9 379.3,330.1 379.6,333.9 379.8,329.3 380.1,315.6 380.4,316.7 380.7,321.2 380.9,318.3 381.2,323.2 381.5,323.5 381.8,322.1 382,325.9 382.3,317.1 382.6,323.3 382.9,325.8 383.1,321.3 383.4,325.4 383.7,333.8 384,331.9 384.2,323 384.5,316.9 384.8,321.1 385.1,317 385.3,317.1 385.6,319.7 385.9,333.1 386.2,336 386.5,328.9 386.7,321.7 387,322.8 387.3,315.8 387.6,318.4 387.8,317.8 388.1,319.2 388.4,313.7 388.7,315 388.9,323.3 389.2,318.2 389.5,332.3 389.8,331.9 390,329.1 390.3,328 390.6,320.9 390.9,317.6 391.1,315.5 391.4,326 391.7,316 392,329.4 392.2,335.7 392.5,311.6 392.8,325.4 393.1,319.8 393.4,318.2 393.6,316.2 393.9,322.9 394.2,315.2 394.5,325.1 394.7,313.1 395,316.4 395.3,324.8 395.6,298.2 395.8,329.2 396.1,336.7 396.4,320.8 396.7,313.9 396.9,318.5 397.2,315.7 397.5,313.3 397.8,318.5 398,318.8 398.3,327.3 398.6,299.2 398.9,322.3 399.1,330.8 399.4,328.6 399.7,325.4 400,323.9 400.3,318.3 400.5,316.9 400.8,314.4 401.1,332.4 401.4,332.4 401.6,318.3 401.9,322 402.2,316.6 402.5,313.1 402.7,321.2 403,323.3 403.3,319.2 403.6,316.7 403.8,318 404.1,328.6 404.4,317.5 404.7,316.6 404.9,327.6 405.2,327.2 405.5,328.5 405.8,321.3 406,325.2 406.3,321.4 406.6,313.5 406.9,328.2 407.2,317.6 407.4,322.3 407.7,373.4 408,370.7 408.3,371.1 408.5,371 408.8,371 409.1,370.6 409.4,369.9 409.6,372.1 409.9,370.2 410.2,372 410.5,373.3 410.7,362.8 411,369.4 411.3,370.1 411.6,370 411.8,371.9 412.1,370.9 412.4,369.9 412.7,370.6 412.9,371.5 413.2,370 413.5,372.2 413.8,372.1 414.1,370.5 414.3,367.4 414.6,369.7 414.9,372.3 415.2,372.4 415.4,370.8 415.7,371.8 416,371 416.3,370.6 416.5,368.9 416.8,370.4 417.1,371.7 417.4,371.9 417.6,371.3 417.9,371.1 418.2,372.2 418.5,370.1 418.7,370.8 419,371.1 419.3,372.7 419.6,371.3 419.9,371.2 420.1,371.5 420.4,371.9 420.7,371 421,370.8 421.2,369.9 421.5,370.9 421.8,372.8 422.1,372.2 422.3,370.8 422.6,370.9 422.9,370.9 423.2,370.8 423.4,371.8 423.7,371.3 424,370.2 424.3,369.5 424.5,369.6 424.8,372.3 425.1,369.8 425.4,371.1 425.6,369.6 425.9,371.2 426.2,372.4 426.5,372.8 426.8,369.9 427,371.3 427.3,371.5 427.6,372.6 427.9,372.6 428.1,373 428.4,372.4 428.7,369.5 429,373.2 429.2,370.2 429.5,371.6 429.8,372.7 430.1,328.1 430.3,332.9 430.6,331.4 430.9,329.9 431.2,334.1 431.4,332.5 431.7,324.6 432,335.2 432.3,332.7 432.5,340.4 432.8,335.8 433.1,332.2 433.4,337.6 433.6,279.7 433.9,274.4 434.2,275.3 434.5,276 434.8,280.2 435,279.8 435.3,285.8 435.6,274.5 435.9,281.5 436.1,276.9 436.4,274.8 436.7,276.9 437,279.5 437.2,282.9 437.5,280.1 437.8,283.6 438.1,281.7 438.3,282.7 438.6,278 438.9,271.4 439.2,275.9 439.4,279.2 439.7,285.6 440,280.3 440.3,283 440.5,276.1 440.8,280.9 441.1,275.8 441.4,287.2 441.7,279.6 441.9,280.3 442.2,284.3 442.5,279.4 442.8,296 443,293.7 443.3,279.2 443.6,279.4 443.9,279.1 444.1,280 444.4,282.3 444.7,283.6 445,278.3 445.2,280.4 445.5,298.2 445.8,288 446.1,288.2 446.3,277.2 446.6,283.5 446.9,288.2 447.2,276.2 447.4,278.4 447.7,277.6 448,291.1 448.3,292.7 448.6,289.5 448.8,294.5 449.1,284.8 449.4,284.9 449.7,286.7 449.9,283.6 450.2,281.7 450.5,280.5 450.8,279.4 451,294.5 451.3,286.3 451.6,290.5 451.9,293.1 452.1,283.1 452.4,285.8 452.7,289 453,278 453.2,282.2 453.5,284.9 453.8,280.1 454.1,278.9 454.4,283.3 454.6,281.7 454.9,284.9 455.2,293.2 455.5,297 455.7,283.4 456,282 456.3,279.8 456.6,286.4 456.8,282.1 457.1,283.9 457.4,287.2 457.7,282.5 457.9,284 458.2,294.2 458.5,295.1 458.8,312.2 459,304.4 459.3,315.5 459.6,303.1 459.9,294.2 460.1,296.3 460.4,299.1 460.7,294.1 461,290.8 461.2,296 461.5,294.5 461.8,301.1 462.1,297.6 462.4,306.9 462.6,306 462.9,303.1 463.2,295.3 463.5,299.7 463.7,299.5 464,296.9 464.3,301.4 464.6,301.7 464.8,301.1 465.1,295.7 465.4,299.7 465.7,303.8 465.9,310.9 466.2,303 466.5,294.5 466.8,299.4 467,300.1 467.3,296.4 467.6,298.1 467.9,307 468.1,310.8 468.4,294.2 468.7,295.2 469,292.4 469.3,304.4 469.5,294.9 469.8,301.2 470.1,301.1 470.4,305.5 470.6,296.4 470.9,300.7 471.2,303.7 471.5,298 471.7,306 472,312.3 472.3,309.9 472.6,298.4 472.8,301.7 473.1,304.5 473.4,294.2 473.7,308.7 473.9,310.6 474.2,311.6 474.5,317.6 474.8,296.1 475,295.3 475.3,302.5 475.6,305.6 475.9,306.1 476.2,305.6 476.4,295.5 476.7,303.2 477,295.4 477.3,302 477.5,309.5 477.8,299.6 478.1,302.1 478.4,296.6 478.6,299.6 478.9,308.9 479.2,304.5 479.5,310 479.7,312.3 480,310.5 480.3,298.9 480.6,305.6 480.8,307.5 481.1,315.2 481.4,312.7 481.7,308 481.9,305.1 482.2,299.7 482.5,299.5 482.8,313.3 483.1,302.6 483.3,307.1 483.6,301.3 483.9,364.5 484.2,367.3 484.4,366.9 484.7,367.8 485,362.8 485.3,367 485.5,365.2 485.8,366.3 486.1,365.7 486.4,364.1 486.6,367.9 486.9,365.8 487.2,365.7 487.5,366.6 487.7,369.1 488,368.5 488.3,365.4 488.6,365.6 488.9,366.1 489.1,367.5 489.4,367.3 489.7,367.9 490,364.7 490.2,368.6 490.5,367.8 490.8,365.8 491.1,366.3 491.3,368.1 491.6,315.3 491.9,299.9 492.2,311.3 492.4,320.8 492.7,315 493,306.1 493.3,312.3 493.5,322.2 493.8,311.6 494.1,329.4 494.4,326.5 494.6,306.6 494.9,300.9 495.2,309.7 495.5,313.2 495.8,318.5 496,314.5 496.3,304.6 496.6,319.8 496.9,311.6 497.1,310.3 497.4,310.4 497.7,312.3 498,323.3 498.2,312.7 498.5,312.5 498.8,300.5 499.1,313.2 499.3,301.7 499.6,317.3 499.9,313.5 500.2,310.7 500.4,311.2 500.7,317.1 501,304.8 501.3,310.8 501.5,312.4 501.8,313.1 502.1,322.6 502.4,316.3 502.6,327.9 502.9,323.9 503.2,296.4 503.5,302.8 503.8,309.5 504,314.2 504.3,301.9 504.6,324 504.9,314.2 505.1,308.5 505.4,309 505.7,309.5 506,309.5 506.2,297.1 506.5,299.8 506.8,312.6 507.1,307.3 507.3,315.3 507.6,306.5 507.9,309.2 508.2,301.2 508.4,307.7 508.7,308.1 509,298 509.3,310.4 509.5,313.1 509.8,308.8 510.1,311.1 510.4,306.3 510.7,315.7 510.9,292.3 511.2,303.8 511.5,325 511.8,312.1 512,316.5 512.3,313.4 512.6,315 512.9,307.4 513.1,309.7 513.4,306.8 513.7,316.2 514,311 514.2,312.4 514.5,316.9 514.8,309.5 515.1,309.3 515.3,293.6 515.6,306.8 515.9,307.3 516.2,312 516.5,323.1 516.7,299 517,305.9 517.3,302.3 517.6,297.2 517.8,299.7 518.1,301.5 518.4,315.6 518.7,306.4 518.9,302.1 519.2,304.3 519.5,310 519.8,305.8 520,304.5 520.3,295.7 520.6,308 520.9,307.8 521.1,294.3 521.4,304.6 521.7,305.3 522,304.3 522.2,301 522.5,310.4 522.8,292.6 523.1,304.8 523.4,308.4 523.6,302.9 523.9,300.1 524.2,302 524.5,311.7 524.7,309.9 525,298.6 525.3,303.9 525.6,300.1 525.8,302.2 526.1,308.8 526.4,302.7 526.7,310 526.9,298.7 527.2,320.3 527.5,318.4 527.8,324.4 528,324.2 528.3,326.4 528.6,326.4 528.9,320.4 529.1,315.1 529.4,316.5 529.7,317.4 530,320 530.2,317 530.5,320.3 530.8,318.3 531.1,331.7 531.4,326.7 531.6,329.9 531.9,318.8 532.2,316.5 532.5,316.5 532.7,327.7 533,318.1 533.3,316.8 533.6,324.4 533.8,320.1 534.1,317.2 534.4,322.5 534.7,320.4 534.9,320.6 535.2,327.1 535.5,330.8 535.8,326.3 536,319 536.3,318.7 536.6,327.4 536.9,323.6 537.1,325.1 537.4,319.2 537.7,322.8 538,350.7 538.3,349.2 538.5,337 538.8,346.1 539.1,347 539.4,350.4 539.6,349.9 539.9,349.4 540.2,349.7 540.5,343.4 540.7,343.4 541,343.4 541.3,351.4 541.6,350.2 541.8,347.3 542.1,350.1 542.4,351.2 542.7,332.4 542.9,332.4 543.2,350.9 543.5,352.4 543.8,350.9 544,349 544.3,350.3 544.6,337 544.9,337 545.2,337 545.4,337 545.7,346.7 546,351.9 546.3,347.2 546.5,350.1 546.8,350.8 547.1,355.4 547.4,350.6 547.6,349.1 547.9,318.8 548.2,337.7 548.5,328.9 548.7,329.9 549,314 549.3,321.8 549.6,326.4 549.8,321.5 550.1,325.5 550.4,325.7 550.7,328.4 551,323.6 551.2,326.7 551.5,324.8 551.8,319.1 552.1,323.8 552.3,333.4 552.6,336.6 552.9,319.7 553.2,324.4 553.4,323.7 553.7,319 554,321.1 554.3,321.2 554.5,323.8 554.8,320.5 555.1,327.1 555.4,326.2 555.6,327.1 555.9,324.7 556.2,319.3 556.5,327.9 556.7,326 557,327.1 557.3,324.6 557.6,328.7 557.9,318 558.1,325.5 558.4,324.1 558.7,320.1 559,322 559.2,325.7 559.5,324.4 559.8,324.7 560.1,332.4 560.3,325.7 560.6,220.5 560.9,216.3 561.2,215.1 561.4,215 561.7,220 562,218.9 562.3,221.3 562.5,225.4 562.8,211.9 563.1,219.4 563.4,216.9 563.6,216.8 563.9,207.8 564.2,219.5 564.5,223.5 564.8,213 565,219.4 565.3,213.7 565.6,214.1 565.9,313.9 566.1,273.6 566.4,272.1 566.7,277.5 567,269.9 567.2,276.8 567.5,274.1 567.8,271.5 568.1,269.7 568.3,284.3 568.6,291.7 568.9,295.5 569.2,288.8 569.4,327.7 569.7,268.9 570,270.2 570.3,269.5 570.5,270.3 570.8,273.5 571.1,270.2 571.4,274.7 571.6,281.7 571.9,273.3 572.2,271.8 572.5,270.2 572.8,265.6 573,325 573.3,272.5 573.6,273.6 573.9,291 574.1,289 574.4,297.1 574.7,284.7 575,268.3 575.2,273.9 575.5,275.4 575.8,270.2 576.1,267.6 576.3,279.9 576.6,273.6 576.9,286.1 577.2,298 577.4,280.2 577.7,272.9 578,270.5 578.3,274.6 578.5,269.5 578.8,273.6 579.1,323.1 579.4,266.8 579.7,266.6 579.9,266.6 580.2,273.1 580.5,286.5 580.8,277.4 581,272.6 581.3,277.5 581.6,279.2 581.9,274.9 582.1,268.6 582.4,269.8 582.7,270.9 583,269.6 583.2,269.2 583.5,281.9 583.8,278.8 584.1,276.1 584.3,274.3 584.6,268.8 584.9,266.2 585.2,267.2 585.5,273.3 585.7,269.3 586,274.2 586.3,270.5 586.6,293 586.8,288.1 587.1,276.6 587.4,270.9 587.7,266.3 587.9,271.9 588.2,265.7 588.5,271.4 588.8,272.7 589,278.1 589.3,271.8 589.6,277.1 589.9,278.7 590.1,272.8 590.4,276.7 590.7,268.3 591,289.2 591.2,287.7 591.5,272.9 591.8,270.8 592.1,278 592.4,270.2 592.6,273.5 592.9,268.6 593.2,272.7 593.5,273.2 593.7,274.5 594,273.2 594.3,275.4 594.6,286.5 594.8,284 595.1,288.6 595.4,280.4 595.7,273.9 595.9,274 596.2,273.8 596.5,278.2 596.8,278.5 597,269.5 597.3,287.3 597.6,277.5 597.9,266.8 598.1,268.1 598.4,272.9 598.7,274.1 599,279.8 599.2,268.1 599.5,275.3 599.8,274.8 600.1,270.1 600.4,267 600.6,277.5 600.9,282.3 601.2,269 601.5,288.5 601.7,280.2 602,283.7 602.3,283.8 602.6,337 602.8,282.8 603.1,274.1 603.4,296.1 603.7,285.8 603.9,286.5 604.2,289.4 604.5,283.2 604.8,280.9 605,270.4 605.3,276.5 605.6,332.4 605.9,270.1 606.1,274.6 606.4,282.1 606.7,276.3 607,279.2 607.3,284.4 607.5,283.1 607.8,280.5 608.1,286.6 608.4,282.7 608.6,334.2 608.9,280.8 609.2,282.6 609.5,273.2 609.7,270.9 610,281 610.3,280.9 610.6,274.1 610.8,277.1 611.1,276.2 611.4,291.6 611.7,295.5 611.9,290.5 612.2,273.3 612.5,280.4 612.8,272.1 613,274.2 613.3,276.3 613.6,281.8 613.9,278.8 614.2,272.4 614.4,279.2 614.7,278.4 615,276.2 615.3,273.2 615.5,273.2 615.8,282.6 616.1,277.7 616.4,277.6 616.6,280.2 616.9,275.5 617.2,276.4 617.5,271.6 617.7,274.1 618,306.5 618.3,275 618.6,280.3 618.8,275.3 619.1,276.4 619.4,279 619.7,278.4 620,273.4 620.2,285.8 620.5,272.4 620.8,271 621.1,274.7 621.3,297.7 621.6,301.7 621.9,272 622.2,275.6 622.4,271 622.7,274.3 623,270.7 623.3,272.9 623.5,285.8 623.8,281.8 624.1,274.9 624.4,286.3 624.6,270.7 624.9,279.7 625.2,273.9 625.5,272.6 625.7,276.2 626,275.2 626.3,277.9 626.6,271 626.9,274.4 627.1,275.1 627.4,285.3 627.7,285.2 628,279 628.2,269.8 628.5,279.5 628.8,272.8 629.1,274.5 629.3,271.2 629.6,274.2 629.9,272.8 630.2,277.6 630.4,274.6 630.7,301.6 631,302.4 631.3,296.1 631.5,268.9 631.8,284.4 632.1,280 632.4,272.4 632.6,275.2 632.9,274.8 633.2,272.6 633.5,294.6 633.8,301.6 634,272.9 634.3,273 634.6,270.1 634.9,273.8 635.1,268.9 635.4,277.9 635.7,278.6 636,276.1 636.2,279.1 636.5,275.7 636.8,295.5 637.1,291.7 637.3,301.5 637.6,296.2 637.9,278.2 638.2,272.1 638.4,283.1 638.7,277 639,274.3 639.3,277.9 639.5,277.5 639.8,280.4 640.1,281.4 640.4,276.1 640.7,272.8 640.9,276 641.2,301 641.5,292.6 641.8,285.8 642,275.9 642.3,283.8 642.6,278.5 642.9,279.7 643.1,278.3 643.4,286 643.7,292.5 644,291.5 644.2,292.7 644.5,270.4 644.8,275.7 645.1,275.1 645.3,275.3 645.6,277.3 645.9,275.8 646.2,283 646.4,273.2 646.7,272.9 647,305.9 647.3,298.2 647.5,293.9 647.8,292.1 648.1,273.9 648.4,271.8 648.7,278.3 648.9,277.8 649.2,275.8 649.5,285.7 649.8,283.8 650,291.1 650.3,270.4 650.6,269.4 650.9,276.2 651.1,278.4 651.4,283 651.7,273.6 652,277 652.2,280.5 652.5,269.9 652.8,276.7 653.1,276.3 653.3,277.1 653.6,301.3 653.9,293.6 654.2,295.5 654.5,290.7 654.7,271.4 655,285 655.3,274 655.6,277.1 655.8,278.4 656.1,275.9 656.4,277.7 656.7,286 656.9,287.5 657.2,283.7 657.5,274.9 657.8,281 658,276.3 658.3,279 658.6,276.9 658.9,283.6 659.1,275.2 659.4,284.8 659.7,295.6 660,292.1 660.2,275.1 660.5,276.8 660.8,277 661.1,341.6 661.4,341.6 661.6,276.1 661.9,281.5 662.2,277 662.5,278.5 662.7,276.3 663,289.7 663.3,286.1 663.6,280.7 663.8,277.1 664.1,279.2 664.4,274.4 664.7,275.6 664.9,276.1 665.2,276.6 665.5,284.9 665.8,269.7 666,274.5 666.3,284 666.6,275 666.9,277.4 667.1,273.7 667.4,275.9 667.7,280.5 668,279.4 668.2,283 668.5,270.1 668.8,265.9 669.1,280.5 669.4,274.8 669.6,273.9 669.9,282.9 670.2,279.1 670.5,282.9 670.7,283.4 671,283 671.3,278.6 671.6,275.3 671.8,280.2 672.1,270.9 672.4,271.1 672.7,281.7 672.9,276.4 673.2,283.2 673.5,279.5 673.8,274.8 674,295.9 674.3,287.2 674.6,283.5 674.9,295.6 675.2,289.5 675.4,277.1 675.7,281 676,268.5 676.3,280.7 676.5,278.7 676.8,273.6 677.1,283.2 677.4,275 677.6,284.3 677.9,285.8 678.2,281.2 678.5,279.4 678.7,277.7 679,282.2 679.3,283.6 679.6,278 679.8,277.2 680.1,281 680.4,273.1 680.7,269 680.9,288.6 681.2,289.5 681.5,283.7 681.8,283.1 682,276.8 682.3,269.3 682.6,270.3 682.9,278.4 683.2,282.2 683.4,285 683.7,272.7 684,272.4 684.3,279.7 684.5,284.4 684.8,271.7 685.1,273.2 685.4,277.4 685.6,277.6 685.9,283.3 686.2,268.3 686.5,275.9 686.7,270.7 687,280.5 687.3,270.1 687.6,287.6 687.8,283.2 688.1,275.7 688.4,281.7 688.7,275.5 689,271.7 689.2,272.7 689.5,284 689.8,282.8 690.1,285.3 690.3,288.2 690.6,281.3 690.9,270.1 691.2,278.3 691.4,272.9 691.7,272.9 692,274.3 692.3,274.1 692.5,277.7 692.8,271.7 693.1,295.9 693.4,293.9 693.6,289.4 693.9,285.7 694.2,271.6 694.5,280.8 694.7,278.1 695,271.6 695.3,274.4 695.6,276.8 695.9,276.5 696.1,275.1 696.4,281.8 696.7,279.5 697,276.1 697.2,278.5 697.5,277.7 697.8,273.3 698.1,284.3 698.3,278.4 698.6,274.4 698.9,274.9 699.2,282.1 699.4,272.1 699.7,274.3 700,276.6 700.3,281.8 700.5,289.7 700.8,284.7 701.1,273.4 701.4,278.9 701.6,278.4 701.9,273.7 702.2,277.5 702.5,283.8 702.8,278.6 703,271.6 703.3,276.8 703.6,279.3 703.9,273.7 704.1,280.2 704.4,272.3 704.7,273.2 705,274.7 705.2,274.1 705.5,277.7 705.8,275.9 706.1,277.9 706.3,282.9 706.6,277.8 706.9,282.6 707.2,274.6 707.4,270.2 707.7,271.4 708,276.3 708.3,270.7 708.5,278.3 708.8,280.2 709.1,282.2 709.4,273.4 709.7,272.7 709.9,268.8 710.2,280.9 710.5,293.4 710.8,277.3 711,272.5 711.3,275.1 711.6,277.9 711.9,277 712.1,282.2 712.4,276.3 712.7,272.1 713,276.1 713.2,275.8 713.5,280.1 713.8,271.9 714.1,280 714.3,292.8 714.6,285.8 714.9,271 715.2,270.3 715.4,280.1 715.7,276.8 716,279 716.3,271.9 716.5,281.5 716.8,274.1 717.1,274.2 717.4,279.5 717.7,270.2 717.9,278.5 718.2,275.5 718.5,269.7 718.8,267.6 719,277.6 719.3,285.3 719.6,273.6 719.9,280.5 720.1,272.6 720.4,283.1 720.7,280.6 721,285.1 721.2,275.9 721.5,273.7 721.8,276.6 722.1,276.9 722.3,274.6 722.6,279.7 722.9,271.7 723.2,276.9 723.5,277.3 723.7,277.4 724,277.1 724.3,275.4 724.6,279.5 724.8,279.7 725.1,279.5 725.4,280.3 725.7,273.2 725.9,275 726.2,277 726.5,281 726.8,277.6 727,275.9 727.3,275.8 727.6,277.9 727.9,280.8 728.1,274.1 728.4,271 728.7,277 729,270.7 729.2,280.7 729.5,270.7 729.8,277.1 730.1,288.4 730.4,287 730.6,284 730.9,278.1 731.2,281.4 731.5,270.7 731.7,278.5 732,272.8 732.3,275.4 732.6,276.8 732.8,275.2 733.1,287.1 733.4,286.7 733.7,292.8 733.9,273.2 734.2,269.4 734.5,272 734.8,277 735,276.9 735.3,271 735.6,271.3 735.9,270.3 736.1,280.4 736.4,290.1 736.7,280.2 737,287.3 737.2,282.3 737.5,284.1 737.8,279.8 738.1,277.8 738.4,278.5 738.6,274.8 738.9,283.5 739.2,278.3 739.5,277 739.7,278.3 740,277.4 740.3,275.3 740.6,278.6 740.8,276.1 741.1,276.1 741.4,274.6 741.7,273.8 741.9,278.9 742.2,281.9 742.5,278.8 742.8,279.4 743,276.8 743.3,279.9 743.6,274.6 743.9,262.9 744.2,272.6 744.4,281.5 744.7,274 745,267.8 745.3,270.3 745.5,276.6 745.8,274.3 746.1,274 746.4,272.5 746.6,275.1 746.9,287.2 747.2,283.4 747.5,279.8 747.7,282.8 748,269.8 748.3,267.4 748.6,275 748.8,271.7 749.1,274.5 749.4,269.9 749.7,276.3 749.9,282.2 750.2,285.5 750.5,267.6 750.8,276.8 751,275.5 751.3,283.5 751.6,277.8 751.9,278.3 752.2,283.1 752.4,284.9 752.7,282 753,276.3 753.3,284.6 753.5,271.8 753.8,275 754.1,273.9 754.4,280 754.6,273 754.9,279 755.2,282.2 755.5,279.2 755.7,278.8 756,274.1 756.3,276.6 756.6,271.2 756.8,272.5 757.1,281.7 757.4,282.9 757.7,286.2 758,278.2 758.2,279.6 758.5,280 758.8,277.3 759.1,284.1 759.3,285.9 759.6,269.5 759.9,281.7 760.2,273 760.4,281.8 760.7,278.4 761,279.3 761.3,275.3 761.5,268.4 761.8,273.5 762.1,279.7 762.4,274.5 762.6,277.3 762.9,288 763.2,296.1 763.5,279.6 763.7,274.9 764,272.6 764.3,276 764.6,275.8 764.9,275.4 765.1,276.8 765.4,267.8 765.7,267.8 766,268.3 766.2,266.1 766.5,268 766.8,271.1 767.1,273.1 767.3,271.1 767.6,271.6 767.9,267.1 768.2,272.4 768.4,268.6 768.7,271.7 769,265.9 769.3,267.5 769.5,267.9 769.8,269 770.1,269.1 770.4,269.8 770.6,268.1 770.9,359.3 771.2,361.7 771.5,361.1 771.8,360.2 772,359.2 772.3,359.9 772.6,360.2 772.9,360.6 773.1,360.6 773.4,361.5 773.7,359.8 774,359 774.2,360.4 774.5,360.7 774.8,359.7 775.1,359.1 775.3,360.3 775.6,360.1 775.9,360.4 776.2,360.7 776.4,361.1 776.7,360.9 777,360.4 777.3,359.4 777.5,360.6 777.8,358.9 778.1,361.5 778.4,362.6 778.7,362.2 778.9,361 779.2,360.4 779.5,360.9 779.8,361.3 780,361.6 780.3,362.6 780.6,355.9 780.9,360.5 781.1,360.4 781.4,362.8 781.7,362 782,359.5 782.2,360.9 782.5,362.6 782.8,361.3 783.1,361.5 783.3,361.9 783.6,360.9 783.9,362.2 784.2,363.2 784.4,360.3 784.7,360.9 785,361.8 785.3,360.7 785.5,361.5 785.8,362.2 786.1,362.3 786.4,359.8 786.7,362.3 786.9,362.3 787.2,361.3 787.5,356.8 787.8,361.3 788,361.7 788.3,361.7 788.6,360.7 788.9,361.5 789.1,362.9 789.4,361.7 789.7,361.8 790,361.2 790.2,363.4 790.5,341.4 790.8,331.8 791.1,315.7 791.3,326.6 791.6,319.4 791.9,337.2 792.2,331.3 792.5,317.6 792.7,323.4 793,350 793.3,331.4 793.6,323.2 793.8,340.9 794.1,328.3 794.4,303.4 794.7,316.1 794.9,321.3 795.2,318 795.5,320.7 795.8,309.8 796,312.6 796.3,323.4 796.6,317.3 796.9,326.2 797.1,314.9 797.4,307.8 797.7,317 798,319.8 798.2,320.8 798.5,314 798.8,310.6 799.1,320.5 799.4,305.2 799.6,316.4 799.9,319.5 800.2,318.8 800.5,330.8 800.7,334.1 801,337.6 801.3,309.2 801.6,307.5 801.8,312.5 802.1,303.2 802.4,327.8 802.7,325.9 802.9,301.7 803.2,309.6 803.5,307.3 803.8,310.8 804,316.2 804.3,300.7 804.6,316 804.9,310.4 805.1,321.9 805.4,311.2"/>
</g>
<rect x="278.4" y="194" width="527" height="230.6" fill="none" stroke="#707070" stroke-width="1.1"/>
<line x1="276.4" x2="278.4" y1="424.6" y2="424.6" stroke="#707070" stroke-width="0.8"/>
<text x="274.6" y="427.7" text-anchor="end" font-family="'Liberation Sans','DejaVu Sans',sans-serif" font-size="9.4" letter-spacing="0.25" fill="#333">0.0</text>
<line x1="276.4" x2="278.4" y1="378.5" y2="378.5" stroke="#707070" stroke-width="0.8"/>
<text x="274.6" y="381.6" text-anchor="end" font-family="'Liberation Sans','DejaVu Sans',sans-serif" font-size="9.4" letter-spacing="0.25" fill="#333">0.5</text>
<line x1="276.4" x2="278.4" y1="332.4" y2="332.4" stroke="#707070" stroke-width="0.8"/>
<text x="274.6" y="335.5" text-anchor="end" font-family="'Liberation Sans','DejaVu Sans',sans-serif" font-size="9.4" letter-spacing="0.25" fill="#333">1.0</text>
<line x1="276.4" x2="278.4" y1="286.2" y2="286.2" stroke="#707070" stroke-width="0.8"/>
<text x="274.6" y="289.3" text-anchor="end" font-family="'Liberation Sans','DejaVu Sans',sans-serif" font-size="9.4" letter-spacing="0.25" fill="#333">1.5</text>
<line x1="276.4" x2="278.4" y1="240.1" y2="240.1" stroke="#707070" stroke-width="0.8"/>
<text x="274.6" y="243.2" text-anchor="end" font-family="'Liberation Sans','DejaVu Sans',sans-serif" font-size="9.4" letter-spacing="0.25" fill="#333">2.0</text>
<line x1="276.4" x2="278.4" y1="194" y2="194" stroke="#707070" stroke-width="0.8"/>
<text x="274.6" y="197.1" text-anchor="end" font-family="'Liberation Sans','DejaVu Sans',sans-serif" font-size="9.4" letter-spacing="0.25" fill="#333">2.5</text>
<line x1="306" x2="306" y1="424.6" y2="426.6" stroke="#707070" stroke-width="0.8"/>
<text transform="translate(305.2 433.7) rotate(-33)" text-anchor="end" font-family="'Liberation Sans','DejaVu Sans',sans-serif" font-size="8.3" fill="#2a2a2a" stroke="#2a2a2a" stroke-width="0.2">200</text>
<line x1="333.6" x2="333.6" y1="424.6" y2="426.6" stroke="#707070" stroke-width="0.8"/>
<text transform="translate(332.8 433.7) rotate(-33)" text-anchor="end" font-family="'Liberation Sans','DejaVu Sans',sans-serif" font-size="8.3" fill="#2a2a2a" stroke="#2a2a2a" stroke-width="0.2">400</text>
<line x1="361.2" x2="361.2" y1="424.6" y2="426.6" stroke="#707070" stroke-width="0.8"/>
<text transform="translate(360.4 433.7) rotate(-33)" text-anchor="end" font-family="'Liberation Sans','DejaVu Sans',sans-serif" font-size="8.3" fill="#2a2a2a" stroke="#2a2a2a" stroke-width="0.2">600</text>
<line x1="388.8" x2="388.8" y1="424.6" y2="426.6" stroke="#707070" stroke-width="0.8"/>
<text transform="translate(388 433.7) rotate(-33)" text-anchor="end" font-family="'Liberation Sans','DejaVu Sans',sans-serif" font-size="8.3" fill="#2a2a2a" stroke="#2a2a2a" stroke-width="0.2">800</text>
<line x1="416.4" x2="416.4" y1="424.6" y2="426.6" stroke="#707070" stroke-width="0.8"/>
<text transform="translate(415.6 433.7) rotate(-33)" text-anchor="end" font-family="'Liberation Sans','DejaVu Sans',sans-serif" font-size="8.3" fill="#2a2a2a" stroke="#2a2a2a" stroke-width="0.2">1000</text>
<line x1="444" x2="444" y1="424.6" y2="426.6" stroke="#707070" stroke-width="0.8"/>
<text transform="translate(443.2 433.7) rotate(-33)" text-anchor="end" font-family="'Liberation Sans','DejaVu Sans',sans-serif" font-size="8.3" fill="#2a2a2a" stroke="#2a2a2a" stroke-width="0.2">1200</text>
<line x1="471.6" x2="471.6" y1="424.6" y2="426.6" stroke="#707070" stroke-width="0.8"/>
<text transform="translate(470.8 433.7) rotate(-33)" text-anchor="end" font-family="'Liberation Sans','DejaVu Sans',sans-serif" font-size="8.3" fill="#2a2a2a" stroke="#2a2a2a" stroke-width="0.2">1400</text>
<line x1="499.2" x2="499.2" y1="424.6" y2="426.6" stroke="#707070" stroke-width="0.8"/>
<text transform="translate(498.4 433.7) rotate(-33)" text-anchor="end" font-family="'Liberation Sans','DejaVu Sans',sans-serif" font-size="8.3" fill="#2a2a2a" stroke="#2a2a2a" stroke-width="0.2">1600</text>
<line x1="526.8" x2="526.8" y1="424.6" y2="426.6" stroke="#707070" stroke-width="0.8"/>
<text transform="translate(526 433.7) rotate(-33)" text-anchor="end" font-family="'Liberation Sans','DejaVu Sans',sans-serif" font-size="8.3" fill="#2a2a2a" stroke="#2a2a2a" stroke-width="0.2">1800</text>
<line x1="554.4" x2="554.4" y1="424.6" y2="426.6" stroke="#707070" stroke-width="0.8"/>
<text transform="translate(553.6 433.7) rotate(-33)" text-anchor="end" font-family="'Liberation Sans','DejaVu Sans',sans-serif" font-size="8.3" fill="#2a2a2a" stroke="#2a2a2a" stroke-width="0.2">2000</text>
<line x1="582" x2="582" y1="424.6" y2="426.6" stroke="#707070" stroke-width="0.8"/>
<text transform="translate(581.2 433.7) rotate(-33)" text-anchor="end" font-family="'Liberation Sans','DejaVu Sans',sans-serif" font-size="8.3" fill="#2a2a2a" stroke="#2a2a2a" stroke-width="0.2">2200</text>
<line x1="609.6" x2="609.6" y1="424.6" y2="426.6" stroke="#707070" stroke-width="0.8"/>
<text transform="translate(608.8 433.7) rotate(-33)" text-anchor="end" font-family="'Liberation Sans','DejaVu Sans',sans-serif" font-size="8.3" fill="#2a2a2a" stroke="#2a2a2a" stroke-width="0.2">2400</text>
<line x1="637.2" x2="637.2" y1="424.6" y2="426.6" stroke="#707070" stroke-width="0.8"/>
<text transform="translate(636.4 433.7) rotate(-33)" text-anchor="end" font-family="'Liberation Sans','DejaVu Sans',sans-serif" font-size="8.3" fill="#2a2a2a" stroke="#2a2a2a" stroke-width="0.2">2600</text>
<line x1="664.8" x2="664.8" y1="424.6" y2="426.6" stroke="#707070" stroke-width="0.8"/>
<text transform="translate(664 433.7) rotate(-33)" text-anchor="end" font-family="'Liberation Sans','DejaVu Sans',sans-serif" font-size="8.3" fill="#2a2a2a" stroke="#2a2a2a" stroke-width="0.2">2800</text>
<line x1="692.4" x2="692.4" y1="424.6" y2="426.6" stroke="#707070" stroke-width="0.8"/>
<text transform="translate(691.6 433.7) rotate(-33)" text-anchor="end" font-family="'Liberation Sans','DejaVu Sans',sans-serif" font-size="8.3" fill="#2a2a2a" stroke="#2a2a2a" stroke-width="0.2">3000</text>
<line x1="720" x2="720" y1="424.6" y2="426.6" stroke="#707070" stroke-width="0.8"/>
<text transform="translate(719.2 433.7) rotate(-33)" text-anchor="end" font-family="'Liberation Sans','DejaVu Sans',sans-serif" font-size="8.3" fill="#2a2a2a" stroke="#2a2a2a" stroke-width="0.2">3200</text>
<line x1="747.6" x2="747.6" y1="424.6" y2="426.6" stroke="#707070" stroke-width="0.8"/>
<text transform="translate(746.8 433.7) rotate(-33)" text-anchor="end" font-family="'Liberation Sans','DejaVu Sans',sans-serif" font-size="8.3" fill="#2a2a2a" stroke="#2a2a2a" stroke-width="0.2">3400</text>
<line x1="775.2" x2="775.2" y1="424.6" y2="426.6" stroke="#707070" stroke-width="0.8"/>
<text transform="translate(774.4 433.7) rotate(-33)" text-anchor="end" font-family="'Liberation Sans','DejaVu Sans',sans-serif" font-size="8.3" fill="#2a2a2a" stroke="#2a2a2a" stroke-width="0.2">3600</text>
<line x1="802.8" x2="802.8" y1="424.6" y2="426.6" stroke="#707070" stroke-width="0.8"/>
<text transform="translate(802 433.7) rotate(-33)" text-anchor="end" font-family="'Liberation Sans','DejaVu Sans',sans-serif" font-size="8.3" fill="#2a2a2a" stroke="#2a2a2a" stroke-width="0.2">3800</text>
<text x="541" y="455.2" text-anchor="middle" font-family="'Liberation Sans','DejaVu Sans',sans-serif" font-size="11.3" letter-spacing="0.4" fill="#222">hour</text>
<text transform="translate(257.5 309) rotate(-90) scale(0.86,1)" text-anchor="middle" font-family="'Liberation Mono','DejaVu Sans Mono',monospace" font-size="10.5" letter-spacing="0" fill="#1e1e1e" stroke="#1e1e1e" stroke-width="0.15">energy consumption/kWh</text>
<rect x="698.4" y="198.6" width="102.5" height="27.7" rx="1.5" fill="#fff" fill-opacity="0.8" stroke="#dcdcdc" stroke-width="0.8"/>
<line x1="701.6" x2="721.1" y1="206.1" y2="206.1" stroke="#3c85bd" stroke-width="1.1"/>
<text transform="translate(726.9 208.6) scale(0.9,1)" font-family="'Liberation Mono','DejaVu Sans Mono',monospace" font-size="8.6" letter-spacing="0" fill="#1e1e1e" stroke="#1e1e1e" stroke-width="0.12">measured value</text>
<line x1="701.6" x2="721.1" y1="218.3" y2="218.3" stroke="#ffc0c9" stroke-width="1.1"/>
<text transform="translate(726.9 220.8) scale(0.9,1)" font-family="'Liberation Mono','DejaVu Sans Mono',monospace" font-size="8.6" letter-spacing="0" fill="#1e1e1e" stroke="#1e1e1e" stroke-width="0.12">predicted value</text>
<text x="526" y="482.3" text-anchor="middle" font-family="'DejaVu Serif','Liberation Serif',serif" font-size="10.4px" fill="#1a1a1a" letter-spacing="0"><tspan font-weight="bold">Fig. 17.</tspan><tspan dx="4">Energy prediction of Strategy 2.</tspan></text>
</g>
<g>
<clipPath id="c2"><rect x="909.9" y="197.3" width="504.2" height="221.8"/></clipPath>
<g clip-path="url(#c2)">
<polyline fill="none" stroke="#2a93b5" stroke-width="0.95" stroke-linejoin="round" opacity="0.92" points="910,267.5 910.3,261.9 910.6,260.6 910.8,259.6 911.1,259 911.4,260.3 911.6,261.2 911.9,263.8 912.1,262.3 912.4,263.8 912.7,261.3 912.9,261.7 913.2,258.3 913.5,252.7 913.7,247.5 914,247.7 914.3,247.6 914.5,249.1 914.8,247.2 915.1,248.7 915.3,243.1 915.6,243.3 915.8,241 916.1,239.4 916.4,236.9 916.6,229.5 916.9,223.5 917.2,220.9 917.4,227.6 917.7,230 918,231.8 918.2,236 918.5,237.3 918.8,236.9 919,248.5 919.3,271.8 919.6,279.5 919.8,279.4 920.1,276.9 920.3,274.2 920.6,273.1 920.9,276.4 921.1,273.9 921.4,270.7 921.7,272.8 921.9,270.9 922.2,270.2 922.5,269 922.7,266.2 923,260.6 923.3,257 923.5,256.7 923.8,258.8 924,261.6 924.3,259.2 924.6,259.4 924.8,257.9 925.1,258 925.4,259.7 925.6,256.2 925.9,257.3 926.2,251.7 926.4,248.3 926.7,248.5 927,247.2 927.2,253 927.5,250.3 927.7,250.3 928,251.7 928.3,250.4 928.5,252.7 928.8,250.3 929.1,248.6 929.3,246.8 929.6,244.6 929.9,245 930.1,246.6 930.4,245.3 930.7,247.6 930.9,246.7 931.2,246.8 931.5,248.3 931.7,269.5 932,281.5 932.2,276 932.5,264.7 932.8,259 933,264.7 933.3,267.4 933.6,271.2 933.8,276.1 934.1,278.3 934.4,276.9 934.6,277.5 934.9,281.4 935.2,281.4 935.4,276.5 935.7,265.3 935.9,258.7 936.2,263.8 936.5,267 936.7,270.2 937,277.1 937.3,279.3 937.5,279.8 937.8,279.3 938.1,281.5 938.3,281.3 938.6,276.8 938.9,268.5 939.1,266.4 939.4,271 939.6,275 939.9,274.4 940.2,278.3 940.4,282.1 940.7,282.1 941,282.6 941.2,284.9 941.5,282.9 941.8,280.4 942,271.4 942.3,267 942.6,271.1 942.8,273.2 943.1,276.4 943.4,279.8 943.6,281.8 943.9,280 944.1,283.3 944.4,281.5 944.7,285.5 944.9,279.2 945.2,271.3 945.5,269.3 945.7,275 946,272.4 946.3,279.2 946.5,282 946.8,282.6 947.1,283.3 947.3,283.6 947.6,284.9 947.8,287.2 948.1,279.3 948.4,271.6 948.6,266.4 948.9,269.6 949.2,272.3 949.4,277.8 949.7,281.4 950,283.7 950.2,286.7 950.5,286 950.8,287 951,288 951.3,281.9 951.5,273.1 951.8,267 952.1,270.7 952.3,278.6 952.6,279.3 952.9,284.2 953.1,284.4 953.4,285.7 953.7,285.4 953.9,286.9 954.2,287 954.5,285.5 954.7,281.9 955,277.8 955.3,279.8 955.5,281.8 955.8,284.9 956,283.8 956.3,287.8 956.6,286.4 956.8,289.1 957.1,287 957.4,291.3 957.6,285.9 957.9,282 958.2,277.2 958.4,278.2 958.7,284.9 959,286.3 959.2,287.2 959.5,289.4 959.7,291.5 960,288.7 960.3,290.7 960.5,289.6 960.8,286.9 961.1,280.3 961.3,276.3 961.6,276.9 961.9,283.8 962.1,285.7 962.4,287.4 962.7,288.9 962.9,289.4 963.2,292.3 963.4,287.4 963.7,290.3 964,284.4 964.2,273 964.5,268.2 964.8,272 965,274 965.3,274.8 965.6,281 965.8,283.1 966.1,278 966.4,277.1 966.6,275.4 966.9,273 967.2,269.6 967.4,256 967.7,249.4 967.9,250 968.2,252.9 968.5,259.1 968.7,263.5 969,264.5 969.3,267 969.5,264 969.8,266.7 970.1,267.3 970.3,263.5 970.6,250.6 970.9,248.6 971.1,252.8 971.4,254.8 971.6,259.1 971.9,261.5 972.2,262.7 972.4,265.4 972.7,265 973,265.6 973.2,265.4 973.5,260 973.8,248 974,244 974.3,247.1 974.6,253.3 974.8,255.4 975.1,260.6 975.3,262.9 975.6,265.1 975.9,266.2 976.1,267.2 976.4,265.3 976.7,262.3 976.9,252 977.2,250.1 977.5,251.4 977.7,259.4 978,256.6 978.3,262.3 978.5,264.2 978.8,266.8 979.1,267 979.3,265.4 979.6,267.1 979.8,260.5 980.1,247.3 980.4,243.4 980.6,251 980.9,254 981.2,258.4 981.4,262.2 981.7,266.5 982,267.3 982.2,266.3 982.5,266.8 982.8,266.1 983,260.8 983.3,244.9 983.5,244.1 983.8,248.2 984.1,251.9 984.3,259.7 984.6,267.5 984.9,270.4 985.1,273 985.4,275.7 985.7,281 985.9,283.5 986.2,278.5 986.5,268.6 986.7,263.6 987,269.2 987.2,271.6 987.5,278.6 987.8,278.3 988,279.5 988.3,282.4 988.6,281.7 988.8,286 989.1,285 989.4,282.3 989.6,270.6 989.9,266.8 990.2,272.7 990.4,275.3 990.7,278.2 991,277.5 991.2,283.1 991.5,283.5 991.7,283.8 992,284.6 992.3,286 992.5,282.6 992.8,271.5 993.1,264.6 993.3,270.1 993.6,274.5 993.9,279.5 994.1,281.4 994.4,283.7 994.7,285.4 994.9,284 995.2,286.7 995.4,286.9 995.7,281.8 996,274.4 996.2,270.2 996.5,274.9 996.8,278.1 997,279.9 997.3,283.1 997.6,283.8 997.8,285.5 998.1,286.6 998.4,286.6 998.6,286.9 998.9,285.2 999.1,275 999.4,271.9 999.7,273 999.9,278.4 1000.2,279.5 1000.5,285.8 1000.7,286.3 1001,285.5 1001.3,287.9 1001.5,286.7 1001.8,291.5 1002.1,285 1002.3,276.5 1002.6,273.7 1002.9,278.5 1003.1,278.5 1003.4,285.4 1003.6,283.9 1003.9,286.7 1004.2,286.4 1004.4,288.5 1004.7,290.2 1005,290 1005.2,285.7 1005.5,275.4 1005.8,273.2 1006,275.3 1006.3,278.4 1006.6,280.2 1006.8,287.8 1007.1,287.8 1007.3,286.9 1007.6,287.5 1007.9,289.7 1008.1,289.9 1008.4,285.7 1008.7,276.9 1008.9,274.6 1009.2,277.6 1009.5,281.2 1009.7,283.2 1010,283.8 1010.3,288.9 1010.5,286.9 1010.8,286.1 1011,289 1011.3,286.7 1011.6,285.8 1011.8,274.4 1012.1,273.3 1012.4,278 1012.6,279 1012.9,280.1 1013.2,286.5 1013.4,287.1 1013.7,289.6 1014,290 1014.2,288.8 1014.5,290.3 1014.8,285.2 1015,275.6 1015.3,275.6 1015.5,278 1015.8,279.9 1016.1,279.7 1016.3,286.1 1016.6,288.1 1016.9,287.2 1017.1,285.4 1017.4,289.3 1017.7,289.4 1017.9,284.3 1018.2,273.8 1018.5,268.2 1018.7,275.8 1019,279.5 1019.2,280.1 1019.5,282.7 1019.8,288.3 1020,286.6 1020.3,284.9 1020.6,287.3 1020.8,286.4 1021.1,282.3 1021.4,272.2 1021.6,268.7 1021.9,272 1022.2,273.8 1022.4,279.2 1022.7,281.4 1022.9,282 1023.2,284.7 1023.5,284.8 1023.7,285.8 1024,286.4 1024.3,277.8 1024.5,270 1024.8,264.3 1025.1,269 1025.3,273.1 1025.6,276.7 1025.9,279.2 1026.1,281.6 1026.4,280.8 1026.7,283.6 1026.9,282.7 1027.2,282.7 1027.4,278.1 1027.7,266.7 1028,261.2 1028.2,264.9 1028.5,269.5 1028.8,273.1 1029,277.6 1029.3,278.5 1029.6,280 1029.8,282.4 1030.1,281.3 1030.4,280.6 1030.6,277.8 1030.9,272.3 1031.1,267.3 1031.4,269.7 1031.7,271.9 1031.9,273 1032.2,277.7 1032.5,277.9 1032.7,279.3 1033,278 1033.3,278.2 1033.5,294.8 1033.8,319.3 1034.1,363.7 1034.3,363.7 1034.6,363.7 1034.8,333.5 1035.1,341.5 1035.4,351.7 1035.6,357.2 1035.9,352.7 1036.2,356.4 1036.4,355.3 1036.7,358.5 1037,352.4 1037.2,344 1037.5,338.8 1037.8,343.3 1038,344.2 1038.3,350.4 1038.6,351 1038.8,354.9 1039.1,354.8 1039.3,358.3 1039.6,359.1 1039.9,356 1040.1,355.5 1040.4,346.5 1040.7,343.5 1040.9,347 1041.2,348.3 1041.5,353.2 1041.7,355.6 1042,354.6 1042.3,357.7 1042.5,356.6 1042.8,357.7 1043,357.6 1043.3,355 1043.6,349 1043.8,344.3 1044.1,347.8 1044.4,349.4 1044.6,354.3 1044.9,359.2 1045.2,360.6 1045.4,362.7 1045.7,362.6 1046,364.2 1046.2,364.1 1046.5,360.9 1046.7,350.6 1047,348.7 1047.3,351.6 1047.5,356.7 1047.8,359.5 1048.1,363.9 1048.3,367 1048.6,368.5 1048.9,369.3 1049.1,369.4 1049.4,374.2 1049.7,377 1049.9,377 1050.2,351 1050.4,354.6 1050.7,356.4 1051,360.1 1051.2,363.4 1051.5,364.7 1051.8,363.4 1052,361.3 1052.3,363.6 1052.6,366.6 1052.8,361 1053.1,353.6 1053.4,347.5 1053.6,355 1053.9,356.3 1054.2,356.9 1054.4,358.8 1054.7,361.9 1054.9,359 1055.2,362.1 1055.5,360.7 1055.7,358.6 1056,359.1 1056.3,351.8 1056.5,346.6 1056.8,350.9 1057.1,353.6 1057.3,354.7 1057.6,354.5 1057.9,358.7 1058.1,357.3 1058.4,357.9 1058.6,357 1058.9,353.3 1059.2,351.5 1059.4,345.3 1059.7,341 1060,343.7 1060.2,345.5 1060.5,343.6 1060.8,345.2 1061,348 1061.3,345.5 1061.6,344 1061.8,344.8 1062.1,344.4 1062.3,343.8 1062.6,337.1 1062.9,336.9 1063.1,333.6 1063.4,335.9 1063.7,334.4 1063.9,337.7 1064.2,335.5 1064.5,338.1 1064.7,335.8 1065,333.8 1065.3,333.4 1065.5,330.5 1065.8,326.5 1066.1,319.6 1066.3,321.2 1066.6,321.3 1066.8,322.1 1067.1,324.9 1067.4,324 1067.6,320.3 1067.9,324.3 1068.2,322 1068.4,322.6 1068.7,315.4 1069,310 1069.2,308.5 1069.5,310 1069.8,313.1 1070,316.4 1070.3,319.1 1070.5,317.7 1070.8,318.3 1071.1,316.6 1071.3,318 1071.6,316.7 1071.9,310.8 1072.1,307 1072.4,303.9 1072.7,303.1 1072.9,303.4 1073.2,309.9 1073.5,313.1 1073.7,312.5 1074,312.7 1074.2,311.3 1074.5,313.8 1074.8,312.8 1075,308.8 1075.3,302.3 1075.6,299 1075.8,298.6 1076.1,300.7 1076.4,304.8 1076.6,304 1076.9,306.2 1077.2,306.9 1077.4,306.8 1077.7,307.3 1078,306.9 1078.2,303 1078.5,296.4 1078.7,296.1 1079,295.7 1079.3,298.7 1079.5,301.3 1079.8,301 1080.1,305.5 1080.3,302 1080.6,304.1 1080.9,305 1081.1,304.6 1081.4,296.5 1081.7,290.1 1081.9,289.4 1082.2,289.6 1082.4,290.7 1082.7,296.4 1083,297.6 1083.2,297.2 1083.5,298 1083.8,299.1 1084,296.4 1084.3,298 1084.6,293.9 1084.8,284.4 1085.1,284 1085.4,283 1085.6,288.2 1085.9,290.8 1086.1,292.4 1086.4,292.5 1086.7,292.9 1086.9,293.3 1087.2,295.9 1087.5,295.3 1087.7,290 1088,280.1 1088.3,275.6 1088.5,283.2 1088.8,282.5 1089.1,285.4 1089.3,287.3 1089.6,288.3 1089.9,289.9 1090.1,290.6 1090.4,287.6 1090.6,288 1090.9,286.5 1091.2,279.7 1091.4,277.8 1091.7,280.4 1092,279.3 1092.2,282.7 1092.5,285 1092.8,285.3 1093,282.2 1093.3,283.8 1093.6,284 1093.8,284.2 1094.1,279.6 1094.3,272.5 1094.6,272.3 1094.9,272.8 1095.1,275.4 1095.4,276.2 1095.7,278.7 1095.9,282.5 1096.2,278.4 1096.5,279.8 1096.7,282.6 1097,278.8 1097.3,276.5 1097.5,268.3 1097.8,265.8 1098,267.8 1098.3,271 1098.6,274.9 1098.8,275.7 1099.1,276 1099.4,276.4 1099.6,275.8 1099.9,277 1100.2,280.1 1100.4,273.3 1100.7,269.9 1101,268.3 1101.2,268.5 1101.5,271.4 1101.8,270.6 1102,273.9 1102.3,270.9 1102.5,275.2 1102.8,277.1 1103.1,278.8 1103.3,282.4 1103.6,275 1103.9,260.1 1104.1,252.7 1104.4,260.7 1104.7,263.6 1104.9,267.9 1105.2,276.3 1105.5,279.8 1105.7,280.4 1106,283.2 1106.2,284 1106.5,283.3 1106.8,278.8 1107,268.2 1107.3,264.3 1107.6,263.2 1107.8,270.2 1108.1,277.4 1108.4,279.5 1108.6,281.8 1108.9,283.5 1109.2,287.1 1109.4,283.1 1109.7,285.7 1109.9,280 1110.2,264.4 1110.5,260.2 1110.7,265.5 1111,268.9 1111.3,278 1111.5,279.1 1111.8,283.4 1112.1,283.9 1112.3,284.8 1112.6,285 1112.9,286.2 1113.1,277.5 1113.4,259.1 1113.7,250 1113.9,258.7 1114.2,266.4 1114.4,271.6 1114.7,278.8 1115,282.4 1115.2,288.4 1115.5,286.1 1115.8,287.4 1116,289.6 1116.3,281.8 1116.6,271.8 1116.8,265.1 1117.1,270.7 1117.4,274.9 1117.6,280.8 1117.9,284.4 1118.1,286.4 1118.4,288 1118.7,288.6 1118.9,291.1 1119.2,288.8 1119.5,285.2 1119.7,270 1120,263.8 1120.3,308.2 1120.5,308.2 1120.8,279.4 1121.1,282.3 1121.3,287.2 1121.6,288.4 1121.8,291 1122.1,290.3 1122.4,290.5 1122.6,281.9 1122.9,263.9 1123.2,255.8 1123.4,262.3 1123.7,268.9 1124,277.7 1124.2,280.3 1124.5,287.5 1124.8,288.6 1125,290.7 1125.3,323.7 1125.6,323.7 1125.8,288 1126.1,274.1 1126.3,269.7 1126.6,273.7 1126.9,276.8 1127.1,286.8 1127.4,293.7 1127.7,301.2 1127.9,302.6 1128.2,305.3 1128.5,324.8 1128.7,324.8 1129,306.1 1129.3,292.1 1129.5,287.4 1129.8,293.7 1130,300.2 1130.3,301.6 1130.6,311.7 1130.8,312.5 1131.1,314.5 1131.4,316.2 1131.6,315 1131.9,318.1 1132.2,305 1132.4,285.9 1132.7,275 1133,281.1 1133.2,291.3 1133.5,294.6 1133.7,303.8 1134,312.9 1134.3,309.3 1134.5,309.8 1134.8,313.9 1135.1,314.7 1135.3,304.8 1135.6,291.6 1135.9,285.6 1136.1,292 1136.4,300.2 1136.7,302.7 1136.9,304.7 1137.2,311.9 1137.5,311.5 1137.7,309.6 1138,307.3 1138.2,307.2 1138.5,306.2 1138.8,301.4 1139,298.5 1139.3,296 1139.6,300.2 1139.8,300.5 1140.1,299.1 1140.4,301 1140.6,301.5 1140.9,297.8 1141.2,298.8 1141.4,299.7 1141.7,296.5 1141.9,289.7 1142.2,289 1142.5,288.9 1142.7,288.8 1143,289.4 1143.3,294 1143.5,292.4 1143.8,291.7 1144.1,290.7 1144.3,289.3 1144.6,288.3 1144.9,287.3 1145.1,282.2 1145.4,278 1145.6,280.8 1145.9,279.4 1146.2,283 1146.4,285.1 1146.7,285 1147,287.5 1147.2,287.3 1147.5,287.4 1147.8,286.5 1148,283.2 1148.3,278.5 1148.6,276.5 1148.8,279.5 1149.1,280.4 1149.4,283 1149.6,282.9 1149.9,286.4 1150.1,285.9 1150.4,285.8 1150.7,285.3 1150.9,287.6 1151.2,284.5 1151.5,280 1151.7,278.7 1152,277.1 1152.3,279.7 1152.5,284 1152.8,285 1153.1,284.1 1153.3,285.9 1153.6,286.8 1153.8,283.9 1154.1,286.5 1154.4,284.3 1154.6,278.4 1154.9,278 1155.2,278.1 1155.4,279 1155.7,279.2 1156,282.2 1156.2,280.2 1156.5,281 1156.8,278.9 1157,280.8 1157.3,281.6 1157.5,279.2 1157.8,275.4 1158.1,271.9 1158.3,272.9 1158.6,272.6 1158.9,274.6 1159.1,276.8 1159.4,274.7 1159.7,276.4 1159.9,275.3 1160.2,273.5 1160.5,273.5 1160.7,274.3 1161,270 1161.3,266.4 1161.5,267.5 1161.8,268.6 1162,268.7 1162.3,273.4 1162.6,271.1 1162.8,272.3 1163.1,271 1163.4,270.3 1163.6,268.9 1163.9,265.4 1164.2,261.1 1164.4,259.8 1164.7,261.9 1165,261 1165.2,263.6 1165.5,267.6 1165.7,266 1166,265.2 1166.3,267.1 1166.5,265.5 1166.8,263.8 1167.1,264.6 1167.3,261.3 1167.6,260 1167.9,261.9 1168.1,261.9 1168.4,263.2 1168.7,262.9 1168.9,263.9 1169.2,261.4 1169.4,262.7 1169.7,261.2 1170,263.9 1170.2,260 1170.5,254.8 1170.8,252.8 1171,255.7 1171.3,256.2 1171.6,257 1171.8,258.6 1172.1,259.3 1172.4,258 1172.6,260.3 1172.9,261 1173.2,259.2 1173.4,255.8 1173.7,254.7 1173.9,247.9 1174.2,250.8 1174.5,251.5 1174.7,254.8 1175,255.3 1175.3,253.8 1175.5,254 1175.8,256 1176.1,257.5 1176.3,257.6 1176.6,254.5 1176.9,254.3 1177.1,253.5 1177.4,253.5 1177.6,253.1 1177.9,256.8 1178.2,256 1178.4,256.7 1178.7,257.2 1179,257.9 1179.2,256.7 1179.5,257.4 1179.8,258.6 1180,251.1 1180.3,251.3 1180.6,266 1180.8,281.3 1181.1,289.1 1181.3,293.3 1181.6,291 1181.9,290.1 1182.1,290.3 1182.4,292.3 1182.7,294.8 1182.9,291.3 1183.2,286.4 1183.5,282.7 1183.7,287.9 1184,287 1184.3,287.6 1184.5,278.7 1184.8,270.3 1185,268.7 1185.3,263.6 1185.6,263.8 1185.8,262.7 1186.1,261.5 1186.4,254.9 1186.6,249.4 1186.9,252.6 1187.2,253.4 1187.4,255.4 1187.7,253.8 1188,258.2 1188.2,256.3 1188.5,254.6 1188.8,254.8 1189,253.1 1189.3,251 1189.5,244.5 1189.8,244.2 1190.1,244.8 1190.3,245 1190.6,248.5 1190.9,245 1191.1,248.4 1191.4,245.1 1191.7,244.4 1191.9,244.9 1192.2,246 1192.5,244.2 1192.7,240.4 1193,234.3 1193.2,236.8 1193.5,235.7 1193.8,239.9 1194,240.2 1194.3,242.5 1194.6,241.3 1194.8,242.4 1195.1,242.1 1195.4,244.5 1195.6,240 1195.9,233.3 1196.2,228.9 1196.4,231.7 1196.7,235.3 1196.9,233 1197.2,236.3 1197.5,236.1 1197.7,238.9 1198,242.1 1198.3,238.9 1198.5,239.6 1198.8,234.9 1199.1,231.1 1199.3,236.8 1199.6,257.4 1199.9,265.6 1200.1,268.2 1200.4,266.3 1200.7,267.8 1200.9,267.6 1201.2,269 1201.4,268.3 1201.7,267.4 1202,265.9 1202.2,255.2 1202.5,253.5 1202.8,253.6 1203,254.4 1203.3,257.5 1203.6,263.4 1203.8,261.7 1204.1,263.9 1204.4,264.1 1204.6,264 1204.9,265.5 1205.1,260.2 1205.4,254.6 1205.7,249 1205.9,251.8 1206.2,257.6 1206.5,257.2 1206.7,259.3 1207,260 1207.3,260 1207.5,259 1207.8,259.6 1208.1,261 1208.3,254.5 1208.6,244.7 1208.8,242.3 1209.1,243.4 1209.4,247.1 1209.6,251.2 1209.9,253.7 1210.2,254.8 1210.4,254.3 1210.7,255 1211,254.2 1211.2,254.2 1211.5,252.5 1211.8,243.4 1212,238.2 1212.3,240.2 1212.6,242.4 1212.8,245.6 1213.1,248.4 1213.3,252.3 1213.6,250.7 1213.9,252.4 1214.1,251.2 1214.4,250.8 1214.7,247.9 1214.9,237.2 1215.2,229.4 1215.5,236.9 1215.7,239.6 1216,243.5 1216.3,247.1 1216.5,245.7 1216.8,248.3 1217,248.5 1217.3,249 1217.6,252 1217.8,243.8 1218.1,238.3 1218.4,234.7 1218.6,234.8 1218.9,238.9 1219.2,240.6 1219.4,242.7 1219.7,242.4 1220,246.1 1220.2,245.1 1220.5,247.4 1220.7,244.6 1221,238.5 1221.3,229.4 1221.5,221.9 1221.8,226.5 1222.1,228.4 1222.3,234 1222.6,235 1222.9,240.1 1223.1,239.2 1223.4,239.9 1223.7,241 1223.9,238.5 1224.2,234.3 1224.5,227.4 1224.7,221.7 1225,225.4 1225.2,228.2 1225.5,230.4 1225.8,234.8 1226,235.7 1226.3,235.8 1226.6,237.3 1226.8,237.4 1227.1,235.8 1227.4,231.9 1227.6,218.4 1227.9,214.5 1228.2,221.3 1228.4,222.9 1228.7,229 1228.9,230.2 1229.2,232.3 1229.5,232.3 1229.7,234.3 1230,231.3 1230.3,231.6 1230.5,228.4 1230.8,218.1 1231.1,213 1231.3,214.4 1231.6,220.6 1231.9,219.2 1232.1,226.3 1232.4,226.8 1232.6,226.6 1232.9,224.5 1233.2,226.4 1233.4,227 1233.7,222.1 1234,216.2 1234.2,214.1 1234.5,214.1 1234.8,218.9 1235,222.9 1235.3,226.1 1235.6,225.2 1235.8,223.3 1236.1,225.2 1236.4,226.5 1236.6,225.4 1236.9,225 1237.1,214.4 1237.4,213.4 1237.7,214.2 1237.9,220.1 1238.2,220.4 1238.5,223.8 1238.7,225.8 1239,225.4 1239.3,227.1 1239.5,225.5 1239.8,228.2 1240.1,226.5 1240.3,212.4 1240.6,209 1240.8,213.4 1241.1,215.4 1241.4,219.6 1241.6,224.9 1241.9,228.7 1242.2,228 1242.4,227.6 1242.7,227.2 1243,230.4 1243.2,225.8 1243.5,214.2 1243.8,214 1244,217 1244.3,220.2 1244.5,219.7 1244.8,223.8 1245.1,225.6 1245.3,225.1 1245.6,226.6 1245.9,226.7 1246.1,228.6 1246.4,224 1246.7,216 1246.9,212.7 1247.2,218.1 1247.5,219.8 1247.7,222.9 1248,226.2 1248.3,227.4 1248.5,225.4 1248.8,227.2 1249,228.9 1249.3,229.1 1249.6,222.5 1249.8,215 1250.1,208.7 1250.4,210.8 1250.6,214.5 1250.9,219.5 1251.2,223.8 1251.4,229.5 1251.7,228.8 1252,228.6 1252.2,228.8 1252.5,229.5 1252.7,227.7 1253,213.6 1253.3,208.1 1253.5,213.5 1253.8,216.9 1254.1,220.1 1254.3,224.5 1254.6,227.4 1254.9,227.5 1255.1,227.8 1255.4,230.5 1255.7,232.3 1255.9,228 1256.2,219.3 1256.4,215.6 1256.7,220.6 1257,222.6 1257.2,224.9 1257.5,225.8 1257.8,228.9 1258,230.4 1258.3,229.7 1258.6,231.2 1258.8,231.7 1259.1,225.5 1259.4,215.5 1259.6,211.7 1259.9,214.8 1260.2,220.4 1260.4,223.5 1260.7,230.2 1260.9,230.5 1261.2,228.7 1261.5,232 1261.7,232.3 1262,233.6 1262.3,232 1262.5,224.5 1262.8,223.1 1263.1,223.7 1263.3,228.3 1263.6,229.1 1263.9,231.6 1264.1,233.3 1264.4,231.5 1264.6,234.4 1264.9,234.8 1265.2,230.9 1265.4,231.9 1265.7,226.7 1266,223.9 1266.2,227.8 1266.5,228 1266.8,231.9 1267,232.9 1267.3,234.2 1267.6,231.9 1267.8,233.1 1268.1,231.8 1268.3,232.3 1268.6,231 1268.9,220.3 1269.1,218.1 1269.4,221.4 1269.7,222 1269.9,224.8 1270.2,229.5 1270.5,231.2 1270.7,231.8 1271,232.2 1271.3,232.7 1271.5,235 1271.8,229.3 1272.1,223.5 1272.3,221.3 1272.6,222.4 1272.8,224.4 1273.1,226.1 1273.4,229.2 1273.6,230.9 1273.9,232.6 1274.2,231.6 1274.4,232.2 1274.7,232.5 1275,229.9 1275.2,218.3 1275.5,216.4 1275.8,219.3 1276,222.8 1276.3,226.1 1276.5,227.3 1276.8,232.1 1277.1,231.4 1277.3,231.6 1277.6,230.9 1277.9,232.5 1278.1,226.4 1278.4,222.5 1278.7,215 1278.9,219.4 1279.2,221.3 1279.5,225.9 1279.7,226.5 1280,230.1 1280.2,229.7 1280.5,232.5 1280.8,230.2 1281,231.2 1281.3,230.5 1281.6,220.9 1281.8,218.4 1282.1,219.3 1282.4,223.7 1282.6,225 1282.9,225.9 1283.2,230.3 1283.4,227 1283.7,229.6 1284,230.6 1284.2,232.5 1284.5,229.2 1284.7,217.7 1285,216.5 1285.3,219.4 1285.5,220.2 1285.8,224.4 1286.1,229 1286.3,234 1286.6,236.3 1286.9,234 1287.1,237 1287.4,239 1287.7,233 1287.9,228.2 1288.2,224.5 1288.4,226 1288.7,232.2 1289,238 1289.2,242.8 1289.5,242.9 1289.8,247 1290,245.1 1290.3,244.9 1290.6,248 1290.8,243.6 1291.1,237.4 1291.4,233 1291.6,237.3 1291.9,241.4 1292.1,242.7 1292.4,245.8 1292.7,248.7 1292.9,248.9 1293.2,250.9 1293.5,250.9 1293.7,249.2 1294,247.6 1294.3,234.4 1294.5,230.7 1294.8,234.9 1295.1,235.6 1295.3,239.9 1295.6,245 1295.9,246.1 1296.1,245.7 1296.4,249.5 1296.6,247.6 1296.9,248.7 1297.2,243 1297.4,230.4 1297.7,230 1298,233 1298.2,237.5 1298.5,239 1298.8,241.8 1299,248.1 1299.3,243.3 1299.6,243.7 1299.8,249.9 1300.1,248.8 1300.3,239.9 1300.6,227.5 1300.9,221 1301.1,227.2 1301.4,229.4 1301.7,237.2 1301.9,239.1 1302.2,243 1302.5,243.7 1302.7,246.1 1303,245 1303.3,243.3 1303.5,242.2 1303.8,233.3 1304,229.6 1304.3,233.7 1304.6,234.7 1304.8,237 1305.1,240.7 1305.4,244.6 1305.6,240.5 1305.9,242.8 1306.2,243.3 1306.4,243.9 1306.7,239.6 1307,231.1 1307.2,225.1 1307.5,228.3 1307.7,230.7 1308,233.3 1308.3,240 1308.5,239.2 1308.8,241.9 1309.1,241.9 1309.3,244.7 1309.6,243.5 1309.9,240.9 1310.1,229.5 1310.4,228.5 1310.7,230 1310.9,233.9 1311.2,236.1 1311.5,239.5 1311.7,241.8 1312,243.3 1312.2,242.1 1312.5,243.2 1312.8,245.6 1313,238.9 1313.3,231 1313.6,226.3 1313.8,230 1314.1,233.4 1314.4,235.6 1314.6,242.6 1314.9,240.7 1315.2,245.4 1315.4,242.1 1315.7,243.6 1315.9,247 1316.2,238.5 1316.5,226.6 1316.7,222.9 1317,224.2 1317.3,228.7 1317.5,234.2 1317.8,236.9 1318.1,241.9 1318.3,243.3 1318.6,242 1318.9,245.6 1319.1,244.4 1319.4,239 1319.6,229.5 1319.9,225.5 1320.2,228.8 1320.4,232.8 1320.7,237.9 1321,245.5 1321.2,243.8 1321.5,245.8 1321.8,243.3 1322,245.9 1322.3,245.7 1322.6,240.7 1322.8,230.9 1323.1,230 1323.4,229.1 1323.6,234 1323.9,237.7 1324.1,243.1 1324.4,241.3 1324.7,243.8 1324.9,243.8 1325.2,246.3 1325.5,244 1325.7,239.7 1326,231.4 1326.3,224.6 1326.5,232.3 1326.8,233.4 1327.1,237.3 1327.3,241 1327.6,245.3 1327.8,245.5 1328.1,244.4 1328.4,245 1328.6,247.2 1328.9,242.1 1329.2,230.9 1329.4,224.1 1329.7,230.1 1330,234.7 1330.2,240.5 1330.5,244.4 1330.8,246.2 1331,248.2 1331.3,246.7 1331.5,247.4 1331.8,249.1 1332.1,244.4 1332.3,235.3 1332.6,234.3 1332.9,234 1333.1,241.7 1333.4,238.4 1333.7,246.1 1333.9,246.1 1334.2,247.3 1334.5,246.9 1334.7,249.1 1335,248 1335.3,246.2 1335.5,233.1 1335.8,230.8 1336,233.4 1336.3,236.1 1336.6,242.6 1336.8,245.3 1337.1,247.9 1337.4,247.7 1337.6,248.1 1337.9,248 1338.2,249.4 1338.4,243.7 1338.7,229.7 1339,224 1339.2,228.7 1339.5,231.8 1339.7,240.1 1340,243.6 1340.3,248.8 1340.5,248.9 1340.8,248 1341.1,248.1 1341.3,251.4 1341.6,244.5 1341.9,232.8 1342.1,227.6 1342.4,232.3 1342.7,237.5 1342.9,244.2 1343.2,247.5 1343.4,247.8 1343.7,249.3 1344,247.3 1344.2,250.9 1344.5,250.6 1344.8,248.4 1345,238 1345.3,231.7 1345.6,233.6 1345.8,239.1 1346.1,243.9 1346.4,246.7 1346.6,248.9 1346.9,249.8 1347.2,251.1 1347.4,253.3 1347.7,254.1 1347.9,248.5 1348.2,237.8 1348.5,235.5 1348.7,235.1 1349,240 1349.3,245.1 1349.5,246.9 1349.8,247 1350.1,250.6 1350.3,251.3 1350.6,250.9 1350.9,254.8 1351.1,248.6 1351.4,237.9 1351.6,231.7 1351.9,238.7 1352.2,239.8 1352.4,244.7 1352.7,248.3 1353,251.2 1353.2,249.2 1353.5,253 1353.8,254.2 1354,252.9 1354.3,250.1 1354.6,240.1 1354.8,237.6 1355.1,240.5 1355.3,243.4 1355.6,248.8 1355.9,252.2 1356.1,248.8 1356.4,253.6 1356.7,251.9 1356.9,254.6 1357.2,253.8 1357.5,247.7 1357.7,232.2 1358,229.3 1358.3,235.7 1358.5,240.1 1358.8,242.4 1359.1,246.3 1359.3,247.8 1359.6,248.5 1359.8,254.1 1360.1,253.2 1360.4,255.5 1360.6,247.8 1360.9,234.8 1361.2,233.6 1361.4,234.3 1361.7,238.7 1362,244.3 1362.2,249.1 1362.5,248.9 1362.8,252.1 1363,254.2 1363.3,253.3 1363.5,252.9 1363.8,247.7 1364.1,239.2 1364.3,233.8 1364.6,236.7 1364.9,240.1 1365.1,244.3 1365.4,250.4 1365.7,250.3 1365.9,251.7 1366.2,255.3 1366.5,255.3 1366.7,255 1367,253.8 1367.2,245.9 1367.5,244.8 1367.8,248.7 1368,249.9 1368.3,250.3 1368.6,255.2 1368.8,254.4 1369.1,255.8 1369.4,253.4 1369.6,254 1369.9,255.8 1370.2,255.6 1370.4,251.5 1370.7,251.8 1371,254.2 1371.2,254.8 1371.5,254.5 1371.7,252.3 1372,254.3 1372.3,254.1 1372.5,254.9 1372.8,254.5 1373.1,254.6 1373.3,256.8 1373.6,251.9 1373.9,250.9 1374.1,252.1 1374.4,253.2 1374.7,258.1 1374.9,255.5 1375.2,258.2 1375.4,255.5 1375.7,258 1376,258.1 1376.2,258.3 1376.5,260.2 1376.8,255.6 1377,256.5 1377.3,254.7 1377.6,257.9 1377.8,259.8 1378.1,257.8 1378.4,260.8 1378.6,262.1 1378.9,261.5 1379.1,262.1 1379.4,262 1379.7,263 1379.9,258.5 1380.2,259.1 1380.5,258.4 1380.7,261.1 1381,264.7 1381.3,263.6 1381.5,266.7 1381.8,267.2 1382.1,271.6 1382.3,271.1 1382.6,268.6 1382.9,268.5 1383.1,270.2 1383.4,267.1 1383.6,268.9 1383.9,269.6 1384.2,274.6 1384.4,277.4 1384.7,276 1385,277.8 1385.2,278.3 1385.5,279.3 1385.8,277 1386,278.4 1386.3,272.5 1386.6,271.9 1386.8,275.3 1387.1,274.7 1387.3,276 1387.6,278.8 1387.9,280.8 1388.1,280.1 1388.4,282.7 1388.7,281.6 1388.9,280.8 1389.2,283.7 1389.5,278 1389.7,268.2 1390,269.6 1390.3,271.5 1390.5,275 1390.8,280.4 1391,282.4 1391.3,284.9 1391.6,285.4 1391.8,285.8 1392.1,286 1392.4,282 1392.6,271.7 1392.9,273.2 1393.2,280.9 1393.4,285.3 1393.7,284.8 1394,288.9 1394.2,287.5 1394.5,288.1 1394.8,288.7 1395,291.1 1395.3,289.6 1395.5,289.3 1395.8,288.9 1396.1,282.1 1396.3,281.5 1396.6,279.2 1396.9,280.7 1397.1,285.9 1397.4,291.5 1397.7,292.6 1397.9,292.6 1398.2,293.6 1398.5,293.5 1398.7,289.5 1399,276.2 1399.2,292.1 1399.5,311.9 1399.8,321 1400,325.4 1400.3,330.3 1400.6,333.5 1400.8,336.4 1401.1,340.8 1401.4,343.9 1401.6,344.7 1401.9,338.6 1402.2,324.3 1402.4,318.2 1402.7,324.6 1402.9,326.9 1403.2,330.8 1403.5,337.8 1403.7,340.6 1404,338.4 1404.3,339.2 1404.5,342.2 1404.8,342.5 1405.1,337.6 1405.3,321.7 1405.6,317 1405.9,321.4 1406.1,322.5 1406.4,329.8 1406.7,333.7 1406.9,335.6 1407.2,336.7 1407.4,335.5 1407.7,337.8 1408,337.9 1408.2,329.5 1408.5,321.8 1408.8,318.2 1409,320.2 1409.3,324.9 1409.6,328.6 1409.8,331.1 1410.1,332.5 1410.4,336.1 1410.6,334.8 1410.9,337.8 1411.1,334.2 1411.4,332.9 1411.7,322.6 1411.9,318 1412.2,321.1 1412.5,324.9 1412.7,330.6 1413,327.9 1413.3,332.5 1413.5,331.1 1413.8,333.1 1414.1,333 1414.3,330.8 1414.6,331.5 1414.8,323.4"/>
<polyline fill="none" stroke="#f8ae6d" stroke-width="1.1" stroke-linejoin="round" opacity="0.93" points="910,267.4 910.3,261.6 910.6,263.5 910.8,259.9 911.1,262.4 911.4,261.9 911.6,260.5 911.9,263.2 912.1,262.2 912.4,261.6 912.7,262.6 912.9,260.7 913.2,257.8 913.5,252.2 913.7,249.7 914,249.4 914.3,248.9 914.5,247 914.8,248.9 915.1,246.4 915.3,243.3 915.6,244.4 915.8,242.8 916.1,238.1 916.4,235.7 916.6,229.2 916.9,223.8 917.2,223.3 917.4,227.3 917.7,229.6 918,233.3 918.2,234.2 918.5,235 918.8,235.5 919,247.6 919.3,269.2 919.6,281.6 919.8,278.2 920.1,277.3 920.3,277.5 920.6,275 920.9,273.9 921.1,272.5 921.4,271.6 921.7,270.7 921.9,270.5 922.2,268.6 922.5,266.7 922.7,263.9 923,260.3 923.3,258.9 923.5,258.5 923.8,257.5 924,258.9 924.3,259.7 924.6,260.4 924.8,258.2 925.1,257 925.4,257.5 925.6,254.8 925.9,255.5 926.2,251.7 926.4,249.5 926.7,250.9 927,248.5 927.2,250.9 927.5,252 927.7,253.2 928,250 928.3,249.6 928.5,252.1 928.8,252.5 929.1,249.8 929.3,246 929.6,245.2 929.9,244.8 930.1,247.3 930.4,244.6 930.7,247.4 930.9,247.2 931.2,248.5 931.5,246.9 931.7,266.8 932,280.2 932.2,274.8 932.5,264.4 932.8,261.5 933,266.3 933.3,269.3 933.6,271.5 933.8,275.1 934.1,278.4 934.4,278 934.6,281.5 934.9,279.6 935.2,279.3 935.4,275 935.7,267.2 935.9,263 936.2,266.4 936.5,270.1 936.7,274.2 937,278.2 937.3,279.5 937.5,280.8 937.8,282.5 938.1,279.5 938.3,283.2 938.6,279.1 938.9,272.2 939.1,270.8 939.4,271.1 939.6,275.9 939.9,274.6 940.2,280.6 940.4,281.6 940.7,281.4 941,281.9 941.2,282.3 941.5,281.5 941.8,278 942,269.8 942.3,271.1 942.6,271 942.8,274 943.1,277.6 943.4,281.2 943.6,278.7 943.9,280.5 944.1,284.4 944.4,281.2 944.7,282.9 944.9,279.8 945.2,271.9 945.5,270.8 945.7,272.9 946,274.3 946.3,279.3 946.5,282.1 946.8,284.2 947.1,282 947.3,284.6 947.6,284.3 947.8,285 948.1,279.8 948.4,271.7 948.6,269.9 948.9,270.4 949.2,274.6 949.4,277.7 949.7,281.6 950,283.5 950.2,284.1 950.5,284.4 950.8,284.6 951,285.3 951.3,282.4 951.5,274.3 951.8,270.5 952.1,272.9 952.3,275.8 952.6,280.1 952.9,284.4 953.1,284.7 953.4,285.3 953.7,286 953.9,286.2 954.2,287.9 954.5,284.8 954.7,282.1 955,275.5 955.3,279.5 955.5,282 955.8,283.1 956,286.1 956.3,288 956.6,286.7 956.8,288.1 957.1,289.4 957.4,288.3 957.6,286.1 957.9,280.7 958.2,279.5 958.4,280 958.7,284.3 959,284.4 959.2,285.7 959.5,289.8 959.7,289 960,291.8 960.3,290.2 960.5,292.6 960.8,288.9 961.1,280 961.3,276.4 961.6,279.7 961.9,283.2 962.1,286.5 962.4,288.2 962.7,287.3 962.9,288.6 963.2,291.4 963.4,290.5 963.7,291 964,284 964.2,275.2 964.5,272.2 964.8,272.9 965,275.5 965.3,278.6 965.6,279.8 965.8,278.7 966.1,279.4 966.4,277.4 966.6,277.3 966.9,275 967.2,267.1 967.4,257.3 967.7,253.2 967.9,254 968.2,254 968.5,258.7 968.7,262.3 969,262.4 969.3,264.7 969.5,265.7 969.8,264.9 970.1,267.4 970.3,262.7 970.6,254.9 970.9,250.8 971.1,253.8 971.4,254.5 971.6,258.5 971.9,262.1 972.2,263.3 972.4,264.7 972.7,264.6 973,264.8 973.2,265.4 973.5,259.2 973.8,249.5 974,246.8 974.3,249.4 974.6,254.6 974.8,254.8 975.1,262.8 975.3,263.3 975.6,263.3 975.9,265.6 976.1,265.7 976.4,264.7 976.7,263.2 976.9,252.2 977.2,250.1 977.5,253.3 977.7,253.6 978,258 978.3,261.4 978.5,264.1 978.8,264.1 979.1,265 979.3,263.4 979.6,265.7 979.8,261.9 980.1,251.5 980.4,246.6 980.6,251.8 980.9,254.9 981.2,259.3 981.4,263.6 981.7,260.8 982,264.2 982.2,262.6 982.5,264.6 982.8,265.5 983,261.7 983.3,249.1 983.5,244.5 983.8,249.7 984.1,253 984.3,258.8 984.6,265.8 984.9,270.8 985.1,275.9 985.4,273.8 985.7,278.9 985.9,284 986.2,280 986.5,271.1 986.7,268.2 987,270.1 987.2,274.2 987.5,276.1 987.8,279.8 988,281.6 988.3,283.2 988.6,282.3 988.8,282.8 989.1,284.7 989.4,282 989.6,272.4 989.9,271.5 990.2,273.2 990.4,274.6 990.7,276.5 991,281 991.2,282.2 991.5,281.7 991.7,284.9 992,284.8 992.3,284.5 992.5,279.4 992.8,273.6 993.1,270.4 993.3,271.1 993.6,273.9 993.9,279 994.1,281.3 994.4,282.3 994.7,284.3 994.9,286.8 995.2,285.1 995.4,284.9 995.7,284.2 996,274.5 996.2,273.7 996.5,277.9 996.8,278.1 997,282.5 997.3,281.8 997.6,284.4 997.8,283.5 998.1,287.9 998.4,286.4 998.6,285.4 998.9,282.3 999.1,275.4 999.4,272.9 999.7,275.3 999.9,277.6 1000.2,279.4 1000.5,286.1 1000.7,287 1001,287.1 1001.3,286.8 1001.5,287.1 1001.8,288.5 1002.1,285 1002.3,277.1 1002.6,274 1002.9,278.7 1003.1,280.5 1003.4,282.6 1003.6,282.3 1003.9,287.5 1004.2,286.8 1004.4,287.6 1004.7,288.6 1005,287.5 1005.2,285.2 1005.5,278.1 1005.8,274.7 1006,277 1006.3,280.7 1006.6,283.4 1006.8,283.9 1007.1,287.5 1007.3,286.4 1007.6,288.1 1007.9,289.3 1008.1,290.1 1008.4,287.5 1008.7,277.7 1008.9,275 1009.2,278.7 1009.5,281.9 1009.7,283.8 1010,285.5 1010.3,285.9 1010.5,288.5 1010.8,290.2 1011,288.5 1011.3,289.6 1011.6,286.6 1011.8,280.3 1012.1,274.7 1012.4,276.4 1012.6,281.7 1012.9,284.9 1013.2,286.4 1013.4,287.9 1013.7,287.5 1014,288.4 1014.2,291 1014.5,289.2 1014.8,285.8 1015,279.5 1015.3,275.8 1015.5,280.2 1015.8,281.5 1016.1,285 1016.3,285.8 1016.6,286.5 1016.9,289.8 1017.1,287.9 1017.4,287.4 1017.7,288.2 1017.9,282.8 1018.2,276.7 1018.5,271 1018.7,275.9 1019,279.9 1019.2,281.3 1019.5,284.4 1019.8,283.9 1020,283.8 1020.3,284 1020.6,285.4 1020.8,286.7 1021.1,283.4 1021.4,276 1021.6,270.8 1021.9,275.5 1022.2,277 1022.4,279 1022.7,281.3 1022.9,284.9 1023.2,285.1 1023.5,285.4 1023.7,283.4 1024,286 1024.3,281.8 1024.5,271.8 1024.8,268.2 1025.1,269.7 1025.3,274.5 1025.6,276.1 1025.9,281.7 1026.1,280.7 1026.4,280.8 1026.7,281 1026.9,283 1027.2,281.2 1027.4,276.3 1027.7,268.5 1028,264.6 1028.2,268.2 1028.5,271.3 1028.8,274 1029,278.6 1029.3,280.7 1029.6,279.9 1029.8,280.6 1030.1,279.4 1030.4,281.2 1030.6,279.2 1030.9,274.1 1031.1,270.1 1031.4,272.8 1031.7,275.5 1031.9,273.2 1032.2,279.3 1032.5,276.5 1032.7,275.1 1033,278.7 1033.3,279.6 1033.5,294 1033.8,321.5 1034.1,357 1034.3,357 1034.6,357 1034.8,336.1 1035.1,343.8 1035.4,349.5 1035.6,351.9 1035.9,355.7 1036.2,356.2 1036.4,355.1 1036.7,355.6 1037,352.7 1037.2,344.7 1037.5,341.9 1037.8,345.5 1038,348.6 1038.3,350.8 1038.6,352.6 1038.8,354 1039.1,356.5 1039.3,353.7 1039.6,353.5 1039.9,356.5 1040.1,354.6 1040.4,347.3 1040.7,343.8 1040.9,347.1 1041.2,347.2 1041.5,351.9 1041.7,352.8 1042,354.9 1042.3,353.6 1042.5,356.6 1042.8,357.4 1043,359.8 1043.3,355.8 1043.6,349.5 1043.8,341.9 1044.1,348.7 1044.4,352.2 1044.6,355.2 1044.9,358 1045.2,360.2 1045.4,363.8 1045.7,361.4 1046,363.7 1046.2,364.8 1046.5,359.3 1046.7,353.2 1047,351.7 1047.3,355.2 1047.5,356.7 1047.8,360.8 1048.1,364 1048.3,367.9 1048.6,367.3 1048.9,369.2 1049.1,370.3 1049.4,368.9 1049.7,371.4 1049.9,371.4 1050.2,352.2 1050.4,354 1050.7,360.4 1051,360.1 1051.2,363.1 1051.5,364.6 1051.8,362.7 1052,363 1052.3,364.1 1052.6,361.8 1052.8,360.5 1053.1,355 1053.4,354.6 1053.6,354.7 1053.9,355.6 1054.2,358.1 1054.4,359.1 1054.7,358.5 1054.9,360.1 1055.2,360.7 1055.5,358 1055.7,360.7 1056,360 1056.3,353.7 1056.5,350.4 1056.8,352.8 1057.1,354.1 1057.3,354.8 1057.6,355.8 1057.9,356.7 1058.1,356.2 1058.4,354.4 1058.6,351.4 1058.9,353.2 1059.2,350.7 1059.4,346.4 1059.7,342.8 1060,344.9 1060.2,344.6 1060.5,346.7 1060.8,345.1 1061,344.3 1061.3,345 1061.6,342.6 1061.8,346.3 1062.1,343.6 1062.3,342.1 1062.6,337.3 1062.9,336.4 1063.1,335.7 1063.4,336.1 1063.7,337 1063.9,335.3 1064.2,335.5 1064.5,334.3 1064.7,335.4 1065,334.8 1065.3,334.6 1065.5,329.4 1065.8,323.9 1066.1,322.4 1066.3,323.6 1066.6,323.2 1066.8,323.2 1067.1,323.7 1067.4,324.5 1067.6,322.2 1067.9,321.3 1068.2,323 1068.4,321 1068.7,317.7 1069,312.8 1069.2,309.3 1069.5,310.1 1069.8,310.7 1070,314.5 1070.3,315.9 1070.5,316.7 1070.8,316.9 1071.1,318 1071.3,315.5 1071.6,316.7 1071.9,312.7 1072.1,305.9 1072.4,304.4 1072.7,306.7 1072.9,308.2 1073.2,309.7 1073.5,311.8 1073.7,312.2 1074,313.5 1074.2,312.4 1074.5,312.6 1074.8,311.6 1075,307.9 1075.3,299.5 1075.6,297.3 1075.8,299.7 1076.1,302.3 1076.4,304.1 1076.6,305.7 1076.9,307.4 1077.2,307.2 1077.4,308.2 1077.7,306.9 1078,308.3 1078.2,304.6 1078.5,298.2 1078.7,292.1 1079,296.5 1079.3,297.2 1079.5,301.4 1079.8,301.1 1080.1,303.1 1080.3,301.7 1080.6,303.2 1080.9,304.1 1081.1,301.9 1081.4,299.5 1081.7,294.7 1081.9,290.6 1082.2,293.2 1082.4,293.1 1082.7,295.4 1083,296.8 1083.2,299.2 1083.5,296.6 1083.8,298.7 1084,297.7 1084.3,298.3 1084.6,294.8 1084.8,290.1 1085.1,286 1085.4,287.2 1085.6,290.7 1085.9,289.7 1086.1,293.6 1086.4,294 1086.7,294.1 1086.9,292 1087.2,293.9 1087.5,293.7 1087.7,289.2 1088,282.2 1088.3,278 1088.5,281.8 1088.8,283.9 1089.1,286.1 1089.3,288 1089.6,287.5 1089.9,287.8 1090.1,288.8 1090.4,288.6 1090.6,290.9 1090.9,284.8 1091.2,279.8 1091.4,280.4 1091.7,280 1092,280.8 1092.2,280.4 1092.5,283 1092.8,282.7 1093,282.2 1093.3,283.1 1093.6,284.8 1093.8,285.2 1094.1,280.9 1094.3,273.6 1094.6,271.4 1094.9,274.9 1095.1,274.3 1095.4,277.8 1095.7,278.9 1095.9,278.3 1096.2,279.4 1096.5,280.2 1096.7,280.5 1097,279.7 1097.3,276.2 1097.5,270.2 1097.8,268.2 1098,268.7 1098.3,270.1 1098.6,274.2 1098.8,274.1 1099.1,276.6 1099.4,276.3 1099.6,275 1099.9,277.6 1100.2,276.5 1100.4,272.1 1100.7,267.7 1101,268 1101.2,269.8 1101.5,268.4 1101.8,270.8 1102,272 1102.3,274.7 1102.5,274.2 1102.8,277.3 1103.1,277.3 1103.3,276.4 1103.6,272.4 1103.9,259.7 1104.1,255.8 1104.4,260.1 1104.7,266 1104.9,268.4 1105.2,276.3 1105.5,280.7 1105.7,280.7 1106,280.1 1106.2,282.9 1106.5,283.1 1106.8,280.3 1107,269 1107.3,265.8 1107.6,269.4 1107.8,272.2 1108.1,275 1108.4,277.3 1108.6,281.4 1108.9,284 1109.2,284.9 1109.4,286.1 1109.7,285.4 1109.9,280.7 1110.2,267.8 1110.5,264.3 1110.7,265.6 1111,272 1111.3,275.2 1111.5,280.7 1111.8,280.8 1112.1,285.8 1112.3,284.5 1112.6,284.5 1112.9,286.9 1113.1,277.9 1113.4,262.2 1113.7,254.4 1113.9,261.7 1114.2,265.6 1114.4,275.3 1114.7,278.7 1115,284.1 1115.2,285.3 1115.5,285.4 1115.8,287.9 1116,289.2 1116.3,282.9 1116.6,273.7 1116.8,268.5 1117.1,270.9 1117.4,276.9 1117.6,278.6 1117.9,285.1 1118.1,286.2 1118.4,287.2 1118.7,289.7 1118.9,288 1119.2,291.3 1119.5,282.5 1119.7,270.4 1120,268.3 1120.3,301.5 1120.5,301.5 1120.8,281.9 1121.1,285.4 1121.3,287.4 1121.6,288.1 1121.8,287.6 1122.1,290.3 1122.4,291.3 1122.6,282 1122.9,265.2 1123.2,260 1123.4,265.3 1123.7,272 1124,277.4 1124.2,285.4 1124.5,288.9 1124.8,287.1 1125,289.9 1125.3,316 1125.6,316 1125.8,284.1 1126.1,274 1126.3,270.5 1126.6,274.9 1126.9,277.9 1127.1,284.4 1127.4,292.5 1127.7,298.3 1127.9,301 1128.2,303.8 1128.5,323.7 1128.7,323.7 1129,307.5 1129.3,296.9 1129.5,291.1 1129.8,295 1130,301.4 1130.3,305.6 1130.6,308.3 1130.8,313.5 1131.1,312.8 1131.4,315.2 1131.6,317 1131.9,315.1 1132.2,306.1 1132.4,287.9 1132.7,280.7 1133,285 1133.2,293 1133.5,299.7 1133.7,304.8 1134,308 1134.3,309.8 1134.5,310.1 1134.8,310.5 1135.1,313.9 1135.3,305.5 1135.6,292.1 1135.9,288.5 1136.1,297.3 1136.4,299.6 1136.7,306.3 1136.9,307.3 1137.2,309.5 1137.5,309.5 1137.7,307.9 1138,309.3 1138.2,306.8 1138.5,305.4 1138.8,302.2 1139,297.4 1139.3,300.4 1139.6,298.8 1139.8,300.4 1140.1,300.9 1140.4,299.1 1140.6,299.7 1140.9,299.8 1141.2,298.1 1141.4,299 1141.7,294.3 1141.9,292.4 1142.2,288.9 1142.5,290.7 1142.7,289.8 1143,292 1143.3,291.7 1143.5,290.9 1143.8,292.6 1144.1,290.9 1144.3,289.7 1144.6,290.2 1144.9,287.2 1145.1,281 1145.4,278.7 1145.6,282.8 1145.9,283.5 1146.2,286.8 1146.4,285.5 1146.7,285.7 1147,287.5 1147.2,288.1 1147.5,286.5 1147.8,287.8 1148,282.9 1148.3,279 1148.6,280.9 1148.8,279.6 1149.1,281 1149.4,282.4 1149.6,284.7 1149.9,287.2 1150.1,285.7 1150.4,286.6 1150.7,284.3 1150.9,285.8 1151.2,283 1151.5,281.2 1151.7,278.3 1152,279.9 1152.3,282.1 1152.5,283 1152.8,285.7 1153.1,284.8 1153.3,286.1 1153.6,285.2 1153.8,285.1 1154.1,286.1 1154.4,284.8 1154.6,279.2 1154.9,277.4 1155.2,279.6 1155.4,278.7 1155.7,283.6 1156,281.2 1156.2,281.2 1156.5,281.5 1156.8,283.1 1157,281 1157.3,279.7 1157.5,278.3 1157.8,276.2 1158.1,272.9 1158.3,271.7 1158.6,273 1158.9,273.4 1159.1,275.8 1159.4,275.2 1159.7,275.8 1159.9,275.6 1160.2,276.4 1160.5,274.9 1160.7,272.2 1161,270.1 1161.3,270.9 1161.5,268.6 1161.8,270.9 1162,269.5 1162.3,271.3 1162.6,268.8 1162.8,270.5 1163.1,268.8 1163.4,271.2 1163.6,269.5 1163.9,266.9 1164.2,264.5 1164.4,261.8 1164.7,262.8 1165,263.2 1165.2,264.2 1165.5,267.1 1165.7,264.5 1166,265 1166.3,266.3 1166.5,264.5 1166.8,265.8 1167.1,264.8 1167.3,263.1 1167.6,263.4 1167.9,260.6 1168.1,260.2 1168.4,261.2 1168.7,261.7 1168.9,260.4 1169.2,264 1169.4,261.4 1169.7,259.8 1170,262 1170.2,257.8 1170.5,256.5 1170.8,255.2 1171,257.6 1171.3,255.7 1171.6,256.3 1171.8,257.4 1172.1,258.3 1172.4,257.6 1172.6,258.5 1172.9,260.1 1173.2,257.8 1173.4,255.5 1173.7,249.2 1173.9,251.1 1174.2,251.4 1174.5,254.6 1174.7,255.9 1175,256.4 1175.3,254.4 1175.5,256.1 1175.8,256.5 1176.1,257.4 1176.3,256.9 1176.6,255.1 1176.9,253 1177.1,252.8 1177.4,253.4 1177.6,254 1177.9,254.6 1178.2,255.9 1178.4,257.2 1178.7,258.7 1179,257.2 1179.2,257.5 1179.5,257.9 1179.8,256.9 1180,254.9 1180.3,251.4 1180.6,267.5 1180.8,281.2 1181.1,289.3 1181.3,291.2 1181.6,289.7 1181.9,292.3 1182.1,290.8 1182.4,291.5 1182.7,291.2 1182.9,290.8 1183.2,285.3 1183.5,283.7 1183.7,285.5 1184,287.9 1184.3,289.9 1184.5,277.1 1184.8,272.1 1185,266 1185.3,263.7 1185.6,263 1185.8,264.3 1186.1,259.7 1186.4,256.6 1186.6,251.8 1186.9,252.8 1187.2,254 1187.4,253.5 1187.7,255.1 1188,258.3 1188.2,254.4 1188.5,254.5 1188.8,253.2 1189,254.1 1189.3,250.5 1189.5,247.3 1189.8,244.3 1190.1,244.2 1190.3,246.3 1190.6,246.9 1190.9,246.7 1191.1,245.9 1191.4,245.9 1191.7,245.8 1191.9,245.1 1192.2,245.3 1192.5,244.3 1192.7,236.8 1193,234.7 1193.2,236.1 1193.5,240.4 1193.8,238.3 1194,242.1 1194.3,241.6 1194.6,241.8 1194.8,239.7 1195.1,240.4 1195.4,241.4 1195.6,238.3 1195.9,234.5 1196.2,232.9 1196.4,232.2 1196.7,233.2 1196.9,235.3 1197.2,234.9 1197.5,235.3 1197.7,237.7 1198,236.9 1198.3,236.7 1198.5,239.7 1198.8,233.8 1199.1,228.7 1199.3,236.3 1199.6,256.2 1199.9,266.5 1200.1,265.5 1200.4,268.7 1200.7,268 1200.9,268.4 1201.2,266.8 1201.4,266.5 1201.7,267.8 1202,264.7 1202.2,259.3 1202.5,256.2 1202.8,256.2 1203,257.8 1203.3,260 1203.6,263.3 1203.8,264.1 1204.1,266.3 1204.4,263.3 1204.6,266 1204.9,265.5 1205.1,261.6 1205.4,253.5 1205.7,253.3 1205.9,252.7 1206.2,252.7 1206.5,255.6 1206.7,257.3 1207,260.2 1207.3,259.2 1207.5,260.7 1207.8,258.2 1208.1,258.4 1208.3,253.6 1208.6,247.4 1208.8,244 1209.1,247.5 1209.4,248.3 1209.6,249.7 1209.9,252.7 1210.2,253.7 1210.4,254.6 1210.7,254.3 1211,254.9 1211.2,256.1 1211.5,251.3 1211.8,242.5 1212,239.7 1212.3,242.5 1212.6,245.6 1212.8,246.4 1213.1,249.9 1213.3,250.9 1213.6,250.2 1213.9,249.9 1214.1,251.8 1214.4,251.8 1214.7,246.3 1214.9,238.8 1215.2,233.1 1215.5,236.5 1215.7,240 1216,243.9 1216.3,244.3 1216.5,246.6 1216.8,248.7 1217,248.2 1217.3,247.6 1217.6,246.9 1217.8,246.9 1218.1,238.7 1218.4,235.9 1218.6,235.3 1218.9,239.1 1219.2,240.9 1219.4,242.8 1219.7,243.4 1220,243.2 1220.2,244.2 1220.5,243.4 1220.7,242 1221,239.9 1221.3,230 1221.5,225 1221.8,230.5 1222.1,232.4 1222.3,235.7 1222.6,236.7 1222.9,238.1 1223.1,239 1223.4,239.8 1223.7,240 1223.9,240 1224.2,235 1224.5,227.7 1224.7,223.1 1225,225 1225.2,229.9 1225.5,230.1 1225.8,232.8 1226,235.8 1226.3,238.5 1226.6,237.2 1226.8,235.4 1227.1,238.5 1227.4,230.7 1227.6,224.3 1227.9,219.5 1228.2,222.9 1228.4,225.1 1228.7,226.8 1228.9,230.8 1229.2,231.2 1229.5,231.6 1229.7,230.3 1230,232.3 1230.3,228.9 1230.5,225.4 1230.8,220.9 1231.1,217.6 1231.3,218.7 1231.6,219.5 1231.9,221.2 1232.1,223.3 1232.4,224.5 1232.6,225.7 1232.9,227.4 1233.2,227.6 1233.4,227.5 1233.7,224.9 1234,214.9 1234.2,215.5 1234.5,215.8 1234.8,218.4 1235,222.3 1235.3,225 1235.6,225.3 1235.8,224.9 1236.1,225.9 1236.4,224.7 1236.6,227 1236.9,223.7 1237.1,216 1237.4,212.1 1237.7,216.3 1237.9,217.6 1238.2,222.3 1238.5,222.8 1238.7,224.9 1239,223.2 1239.3,226.8 1239.5,226.5 1239.8,228.2 1240.1,224.8 1240.3,215 1240.6,212.3 1240.8,216.6 1241.1,217.2 1241.4,221.1 1241.6,223.7 1241.9,223.5 1242.2,225.2 1242.4,225.3 1242.7,225.4 1243,227.2 1243.2,224.7 1243.5,215.7 1243.8,212.8 1244,218.8 1244.3,220.6 1244.5,223 1244.8,225.5 1245.1,224.8 1245.3,227 1245.6,227.4 1245.9,227.4 1246.1,227.4 1246.4,224.9 1246.7,217.4 1246.9,216.7 1247.2,217.5 1247.5,221 1247.7,222.6 1248,223.6 1248.3,226.3 1248.5,227.3 1248.8,226.3 1249,226.2 1249.3,228 1249.6,225.1 1249.8,213.5 1250.1,211.5 1250.4,215.8 1250.6,217.5 1250.9,222.1 1251.2,225.3 1251.4,228.1 1251.7,228.6 1252,227.4 1252.2,231.5 1252.5,228.7 1252.7,223.9 1253,214.2 1253.3,211.3 1253.5,216 1253.8,218.2 1254.1,221 1254.3,223.7 1254.6,227.4 1254.9,230.3 1255.1,229.7 1255.4,230.8 1255.7,229.6 1255.9,226.7 1256.2,220 1256.4,217.7 1256.7,222.1 1257,222.9 1257.2,224 1257.5,228.9 1257.8,230.4 1258,231.5 1258.3,231 1258.6,230.7 1258.8,233.6 1259.1,226.8 1259.4,219.2 1259.6,212.2 1259.9,218.4 1260.2,220.8 1260.4,226.4 1260.7,226.7 1260.9,229.8 1261.2,231 1261.5,229.6 1261.7,232 1262,233 1262.3,228.9 1262.5,226.4 1262.8,223.5 1263.1,226.6 1263.3,228.8 1263.6,227.6 1263.9,230.6 1264.1,231 1264.4,231.5 1264.6,232.8 1264.9,232.8 1265.2,234.2 1265.4,232.2 1265.7,226.7 1266,227.8 1266.2,227.3 1266.5,230 1266.8,230.5 1267,233.3 1267.3,231.6 1267.6,232.6 1267.8,234.2 1268.1,233 1268.3,236.1 1268.6,231.8 1268.9,221.9 1269.1,217.8 1269.4,222.3 1269.7,223.9 1269.9,227 1270.2,228 1270.5,232 1270.7,233.6 1271,233.1 1271.3,232.6 1271.5,232.4 1271.8,230.8 1272.1,222.6 1272.3,223.1 1272.6,223.2 1272.8,226.7 1273.1,228.1 1273.4,230.4 1273.6,229.9 1273.9,229.6 1274.2,234.2 1274.4,232.4 1274.7,232 1275,230 1275.2,222.1 1275.5,219.4 1275.8,220.8 1276,224.8 1276.3,225.4 1276.5,228.8 1276.8,230 1277.1,231.2 1277.3,231 1277.6,231.1 1277.9,228.8 1278.1,227.2 1278.4,221.1 1278.7,218.7 1278.9,222 1279.2,222.2 1279.5,227 1279.7,228.7 1280,228.4 1280.2,230.4 1280.5,231.1 1280.8,227.4 1281,231.9 1281.3,228.3 1281.6,223.3 1281.8,219.3 1282.1,220.4 1282.4,220.7 1282.6,224.1 1282.9,226.9 1283.2,228.8 1283.4,227.8 1283.7,229.5 1284,229 1284.2,231.6 1284.5,226.2 1284.7,221.6 1285,218 1285.3,221.8 1285.5,223.9 1285.8,224.1 1286.1,228.8 1286.3,232.8 1286.6,231.9 1286.9,237.1 1287.1,236.4 1287.4,239.3 1287.7,234.9 1287.9,228 1288.2,227.3 1288.4,230.9 1288.7,234.8 1289,236.6 1289.2,241.3 1289.5,241.9 1289.8,244.5 1290,245.4 1290.3,247.5 1290.6,248.2 1290.8,243.7 1291.1,238.8 1291.4,235.1 1291.6,238 1291.9,241.7 1292.1,243.8 1292.4,244.5 1292.7,246.3 1292.9,247 1293.2,249.5 1293.5,248.8 1293.7,250.1 1294,242.5 1294.3,236.7 1294.5,232.9 1294.8,236 1295.1,239.5 1295.3,240.7 1295.6,244.8 1295.9,245.9 1296.1,245.8 1296.4,246.7 1296.6,247.6 1296.9,246.8 1297.2,243.4 1297.4,236.1 1297.7,233.9 1298,235.6 1298.2,237 1298.5,238.5 1298.8,243.4 1299,244.4 1299.3,246.1 1299.6,244.4 1299.8,243.8 1300.1,247.1 1300.3,240.8 1300.6,227.6 1300.9,226.2 1301.1,230.2 1301.4,232.8 1301.7,236 1301.9,240.2 1302.2,242.3 1302.5,241.5 1302.7,244.3 1303,242.6 1303.3,245.1 1303.5,240.1 1303.8,232.8 1304,231.3 1304.3,234.2 1304.6,237.1 1304.8,239.6 1305.1,239.6 1305.4,243.7 1305.6,242.1 1305.9,242.8 1306.2,241.6 1306.4,243.5 1306.7,237.4 1307,230.7 1307.2,225 1307.5,230.7 1307.7,233.7 1308,237.3 1308.3,237.8 1308.5,241.5 1308.8,240.5 1309.1,242.6 1309.3,244.3 1309.6,241.8 1309.9,238.4 1310.1,232.3 1310.4,227.9 1310.7,233.8 1310.9,233.6 1311.2,237.5 1311.5,239.6 1311.7,242 1312,242.1 1312.2,243.1 1312.5,243.9 1312.8,244 1313,239.8 1313.3,230.8 1313.6,228.4 1313.8,232.2 1314.1,234.6 1314.4,237.7 1314.6,238.2 1314.9,243.5 1315.2,242.5 1315.4,244.5 1315.7,243.2 1315.9,245 1316.2,239.3 1316.5,229.2 1316.7,223.6 1317,226.9 1317.3,231.3 1317.5,234.8 1317.8,239.1 1318.1,245.3 1318.3,243.9 1318.6,243.1 1318.9,244.6 1319.1,246.5 1319.4,242.9 1319.6,232.5 1319.9,226.5 1320.2,232.4 1320.4,233.3 1320.7,238.6 1321,240 1321.2,242.5 1321.5,244.6 1321.8,245.1 1322,245.6 1322.3,244.8 1322.6,243.5 1322.8,234 1323.1,231.7 1323.4,231.8 1323.6,237.9 1323.9,238.9 1324.1,241.8 1324.4,242.3 1324.7,243.3 1324.9,246.7 1325.2,243.6 1325.5,246.5 1325.7,241.4 1326,235.8 1326.3,228.2 1326.5,232.8 1326.8,235.8 1327.1,239.5 1327.3,240.8 1327.6,247.3 1327.8,245 1328.1,246.4 1328.4,246.1 1328.6,244.9 1328.9,243.1 1329.2,232.6 1329.4,230.1 1329.7,231.3 1330,235.6 1330.2,237.6 1330.5,240.2 1330.8,247 1331,247.2 1331.3,246.5 1331.5,246.3 1331.8,248 1332.1,243.1 1332.3,236.6 1332.6,235.3 1332.9,236.4 1333.1,240 1333.4,242.9 1333.7,244.3 1333.9,246.2 1334.2,245.6 1334.5,248.6 1334.7,249.3 1335,247.3 1335.3,244.4 1335.5,235.9 1335.8,232.9 1336,237.4 1336.3,240 1336.6,241.2 1336.8,244.4 1337.1,246.8 1337.4,246.2 1337.6,246.1 1337.9,248.5 1338.2,248.2 1338.4,242.6 1338.7,232.8 1339,228.7 1339.2,233.7 1339.5,235.1 1339.7,239.8 1340,244 1340.3,247.5 1340.5,246.4 1340.8,250.1 1341.1,248.4 1341.3,248.7 1341.6,245.3 1341.9,236.2 1342.1,232.3 1342.4,233.9 1342.7,238.6 1342.9,241.2 1343.2,246.5 1343.4,249.4 1343.7,245.7 1344,250.6 1344.2,249.4 1344.5,249.7 1344.8,246.8 1345,237.5 1345.3,233.9 1345.6,235.6 1345.8,240.8 1346.1,243.3 1346.4,245.2 1346.6,250.3 1346.9,251.1 1347.2,250.2 1347.4,251.2 1347.7,250.5 1347.9,246.6 1348.2,239 1348.5,234.9 1348.7,238.9 1349,238.8 1349.3,243.3 1349.5,247.7 1349.8,246.7 1350.1,249.9 1350.3,249.7 1350.6,252.2 1350.9,253 1351.1,245.6 1351.4,238.8 1351.6,235.9 1351.9,238.8 1352.2,240.3 1352.4,244.9 1352.7,248.7 1353,252.6 1353.2,251.3 1353.5,250.7 1353.8,252.2 1354,252.9 1354.3,246.6 1354.6,241.1 1354.8,239.6 1355.1,240.9 1355.3,245.1 1355.6,245.8 1355.9,247.3 1356.1,250.9 1356.4,249.7 1356.7,252.1 1356.9,253.6 1357.2,253 1357.5,247.6 1357.7,235.2 1358,231.8 1358.3,236.6 1358.5,240.1 1358.8,243.6 1359.1,246.9 1359.3,251.2 1359.6,251.5 1359.8,251.6 1360.1,253.3 1360.4,251.7 1360.6,248.1 1360.9,239 1361.2,234.8 1361.4,236.2 1361.7,241.6 1362,245.7 1362.2,247.5 1362.5,249.4 1362.8,253.1 1363,251.8 1363.3,250.7 1363.5,250.9 1363.8,247.4 1364.1,237.7 1364.3,235.9 1364.6,237.3 1364.9,242.2 1365.1,245.5 1365.4,247.9 1365.7,251.8 1365.9,252.2 1366.2,250.4 1366.5,252.5 1366.7,255.9 1367,252.4 1367.2,248.1 1367.5,245.8 1367.8,250 1368,251.2 1368.3,252.8 1368.6,253.7 1368.8,254.8 1369.1,254.8 1369.4,255.3 1369.6,256.4 1369.9,254.6 1370.2,254.7 1370.4,253.7 1370.7,253.6 1371,252.8 1371.2,252.6 1371.5,254.2 1371.7,256.6 1372,256.2 1372.3,257 1372.5,256.4 1372.8,255.4 1373.1,256.3 1373.3,255.5 1373.6,253.8 1373.9,252.9 1374.1,253.2 1374.4,256.3 1374.7,255.5 1374.9,258 1375.2,255.3 1375.4,258 1375.7,256.3 1376,259.4 1376.2,256.4 1376.5,256.7 1376.8,255.6 1377,255.7 1377.3,256.8 1377.6,257.9 1377.8,257.5 1378.1,258.9 1378.4,259.3 1378.6,261.3 1378.9,261.6 1379.1,263.5 1379.4,264.3 1379.7,261.5 1379.9,261.1 1380.2,259.9 1380.5,261.2 1380.7,262.5 1381,263.7 1381.3,267.3 1381.5,266.7 1381.8,267.1 1382.1,268.4 1382.3,269 1382.6,272.7 1382.9,269.3 1383.1,267.9 1383.4,267.8 1383.6,269.8 1383.9,271.2 1384.2,272.4 1384.4,275.7 1384.7,276.5 1385,276.4 1385.2,278.9 1385.5,277.3 1385.8,279.3 1386,277.9 1386.3,275.3 1386.6,273.5 1386.8,276.5 1387.1,275.2 1387.3,278.7 1387.6,280.3 1387.9,278.9 1388.1,281.1 1388.4,283.4 1388.7,282.1 1388.9,281.8 1389.2,280.4 1389.5,275.4 1389.7,271 1390,267.4 1390.3,272.2 1390.5,277.6 1390.8,277.4 1391,280.6 1391.3,282 1391.6,281.3 1391.8,283.8 1392.1,285.7 1392.4,280.9 1392.6,274.5 1392.9,275.1 1393.2,283.1 1393.4,286.4 1393.7,288.3 1394,287.9 1394.2,288.1 1394.5,289.8 1394.8,291.6 1395,291.3 1395.3,290.9 1395.5,290.3 1395.8,288.5 1396.1,284.2 1396.3,279.3 1396.6,280.7 1396.9,282.8 1397.1,286.9 1397.4,290.9 1397.7,289.2 1397.9,292.2 1398.2,292.8 1398.5,294.2 1398.7,290.3 1399,279.3 1399.2,294.8 1399.5,315.1 1399.8,319.8 1400,323.4 1400.3,331.8 1400.6,332.5 1400.8,334.7 1401.1,339.4 1401.4,341.1 1401.6,342.5 1401.9,339.7 1402.2,324.5 1402.4,323.1 1402.7,324.8 1402.9,329.2 1403.2,334.1 1403.5,337.7 1403.7,339.2 1404,340 1404.3,340.3 1404.5,340.9 1404.8,340 1405.1,335.2 1405.3,324.3 1405.6,319.9 1405.9,323.3 1406.1,325.6 1406.4,330.3 1406.7,333.4 1406.9,336.3 1407.2,337.5 1407.4,337.3 1407.7,337.1 1408,338.7 1408.2,331.4 1408.5,324 1408.8,319.1 1409,323.1 1409.3,325.2 1409.6,327.7 1409.8,330 1410.1,334.7 1410.4,332.6 1410.6,334.8 1410.9,332.9 1411.1,336.3 1411.4,332.2 1411.7,324.7 1411.9,320.7 1412.2,324.1 1412.5,325.1 1412.7,327.9 1413,329.5 1413.3,331.7 1413.5,332.1 1413.8,331.9 1414.1,332.1 1414.3,332.7 1414.6,329.6 1414.8,324.9"/>
</g>
<rect x="909.9" y="197.3" width="504.2" height="221.8" fill="none" stroke="#707070" stroke-width="1.1"/>
<line x1="907.9" x2="909.9" y1="419.1" y2="419.1" stroke="#707070" stroke-width="0.8"/>
<text x="906.1" y="422.1" text-anchor="end" font-family="'Liberation Sans','DejaVu Sans',sans-serif" font-size="9.1" letter-spacing="0" fill="#333">10</text>
<line x1="907.9" x2="909.9" y1="363.7" y2="363.7" stroke="#707070" stroke-width="0.8"/>
<text x="906.1" y="366.7" text-anchor="end" font-family="'Liberation Sans','DejaVu Sans',sans-serif" font-size="9.1" letter-spacing="0" fill="#333">15</text>
<line x1="907.9" x2="909.9" y1="308.2" y2="308.2" stroke="#707070" stroke-width="0.8"/>
<text x="906.1" y="311.2" text-anchor="end" font-family="'Liberation Sans','DejaVu Sans',sans-serif" font-size="9.1" letter-spacing="0" fill="#333">20</text>
<line x1="907.9" x2="909.9" y1="252.8" y2="252.8" stroke="#707070" stroke-width="0.8"/>
<text x="906.1" y="255.8" text-anchor="end" font-family="'Liberation Sans','DejaVu Sans',sans-serif" font-size="9.1" letter-spacing="0" fill="#333">25</text>
<line x1="907.9" x2="909.9" y1="197.3" y2="197.3" stroke="#707070" stroke-width="0.8"/>
<text x="906.1" y="200.3" text-anchor="end" font-family="'Liberation Sans','DejaVu Sans',sans-serif" font-size="9.1" letter-spacing="0" fill="#333">30</text>
<line x1="936.3" x2="936.3" y1="419.1" y2="421.1" stroke="#707070" stroke-width="0.8"/>
<text transform="translate(935.5 428) rotate(-33)" text-anchor="end" font-family="'Liberation Sans','DejaVu Sans',sans-serif" font-size="8.1" fill="#2a2a2a" stroke="#2a2a2a" stroke-width="0.2">200</text>
<line x1="962.8" x2="962.8" y1="419.1" y2="421.1" stroke="#707070" stroke-width="0.8"/>
<text transform="translate(962 428) rotate(-33)" text-anchor="end" font-family="'Liberation Sans','DejaVu Sans',sans-serif" font-size="8.1" fill="#2a2a2a" stroke="#2a2a2a" stroke-width="0.2">400</text>
<line x1="989.2" x2="989.2" y1="419.1" y2="421.1" stroke="#707070" stroke-width="0.8"/>
<text transform="translate(988.4 428) rotate(-33)" text-anchor="end" font-family="'Liberation Sans','DejaVu Sans',sans-serif" font-size="8.1" fill="#2a2a2a" stroke="#2a2a2a" stroke-width="0.2">600</text>
<line x1="1015.7" x2="1015.7" y1="419.1" y2="421.1" stroke="#707070" stroke-width="0.8"/>
<text transform="translate(1014.9 428) rotate(-33)" text-anchor="end" font-family="'Liberation Sans','DejaVu Sans',sans-serif" font-size="8.1" fill="#2a2a2a" stroke="#2a2a2a" stroke-width="0.2">800</text>
<line x1="1042.1" x2="1042.1" y1="419.1" y2="421.1" stroke="#707070" stroke-width="0.8"/>
<text transform="translate(1041.3 428) rotate(-33)" text-anchor="end" font-family="'Liberation Sans','DejaVu Sans',sans-serif" font-size="8.1" fill="#2a2a2a" stroke="#2a2a2a" stroke-width="0.2">1000</text>
<line x1="1068.6" x2="1068.6" y1="419.1" y2="421.1" stroke="#707070" stroke-width="0.8"/>
<text transform="translate(1067.8 428) rotate(-33)" text-anchor="end" font-family="'Liberation Sans','DejaVu Sans',sans-serif" font-size="8.1" fill="#2a2a2a" stroke="#2a2a2a" stroke-width="0.2">1200</text>
<line x1="1095" x2="1095" y1="419.1" y2="421.1" stroke="#707070" stroke-width="0.8"/>
<text transform="translate(1094.2 428) rotate(-33)" text-anchor="end" font-family="'Liberation Sans','DejaVu Sans',sans-serif" font-size="8.1" fill="#2a2a2a" stroke="#2a2a2a" stroke-width="0.2">1400</text>
<line x1="1121.5" x2="1121.5" y1="419.1" y2="421.1" stroke="#707070" stroke-width="0.8"/>
<text transform="translate(1120.7 428) rotate(-33)" text-anchor="end" font-family="'Liberation Sans','DejaVu Sans',sans-serif" font-size="8.1" fill="#2a2a2a" stroke="#2a2a2a" stroke-width="0.2">1600</text>
<line x1="1147.9" x2="1147.9" y1="419.1" y2="421.1" stroke="#707070" stroke-width="0.8"/>
<text transform="translate(1147.1 428) rotate(-33)" text-anchor="end" font-family="'Liberation Sans','DejaVu Sans',sans-serif" font-size="8.1" fill="#2a2a2a" stroke="#2a2a2a" stroke-width="0.2">1800</text>
<line x1="1174.3" x2="1174.3" y1="419.1" y2="421.1" stroke="#707070" stroke-width="0.8"/>
<text transform="translate(1173.5 428) rotate(-33)" text-anchor="end" font-family="'Liberation Sans','DejaVu Sans',sans-serif" font-size="8.1" fill="#2a2a2a" stroke="#2a2a2a" stroke-width="0.2">2000</text>
<line x1="1200.8" x2="1200.8" y1="419.1" y2="421.1" stroke="#707070" stroke-width="0.8"/>
<text transform="translate(1200 428) rotate(-33)" text-anchor="end" font-family="'Liberation Sans','DejaVu Sans',sans-serif" font-size="8.1" fill="#2a2a2a" stroke="#2a2a2a" stroke-width="0.2">2200</text>
<line x1="1227.2" x2="1227.2" y1="419.1" y2="421.1" stroke="#707070" stroke-width="0.8"/>
<text transform="translate(1226.4 428) rotate(-33)" text-anchor="end" font-family="'Liberation Sans','DejaVu Sans',sans-serif" font-size="8.1" fill="#2a2a2a" stroke="#2a2a2a" stroke-width="0.2">2400</text>
<line x1="1253.7" x2="1253.7" y1="419.1" y2="421.1" stroke="#707070" stroke-width="0.8"/>
<text transform="translate(1252.9 428) rotate(-33)" text-anchor="end" font-family="'Liberation Sans','DejaVu Sans',sans-serif" font-size="8.1" fill="#2a2a2a" stroke="#2a2a2a" stroke-width="0.2">2600</text>
<line x1="1280.1" x2="1280.1" y1="419.1" y2="421.1" stroke="#707070" stroke-width="0.8"/>
<text transform="translate(1279.3 428) rotate(-33)" text-anchor="end" font-family="'Liberation Sans','DejaVu Sans',sans-serif" font-size="8.1" fill="#2a2a2a" stroke="#2a2a2a" stroke-width="0.2">2800</text>
<line x1="1306.6" x2="1306.6" y1="419.1" y2="421.1" stroke="#707070" stroke-width="0.8"/>
<text transform="translate(1305.8 428) rotate(-33)" text-anchor="end" font-family="'Liberation Sans','DejaVu Sans',sans-serif" font-size="8.1" fill="#2a2a2a" stroke="#2a2a2a" stroke-width="0.2">3000</text>
<line x1="1333" x2="1333" y1="419.1" y2="421.1" stroke="#707070" stroke-width="0.8"/>
<text transform="translate(1332.2 428) rotate(-33)" text-anchor="end" font-family="'Liberation Sans','DejaVu Sans',sans-serif" font-size="8.1" fill="#2a2a2a" stroke="#2a2a2a" stroke-width="0.2">3200</text>
<line x1="1359.4" x2="1359.4" y1="419.1" y2="421.1" stroke="#707070" stroke-width="0.8"/>
<text transform="translate(1358.6 428) rotate(-33)" text-anchor="end" font-family="'Liberation Sans','DejaVu Sans',sans-serif" font-size="8.1" fill="#2a2a2a" stroke="#2a2a2a" stroke-width="0.2">3400</text>
<line x1="1385.9" x2="1385.9" y1="419.1" y2="421.1" stroke="#707070" stroke-width="0.8"/>
<text transform="translate(1385.1 428) rotate(-33)" text-anchor="end" font-family="'Liberation Sans','DejaVu Sans',sans-serif" font-size="8.1" fill="#2a2a2a" stroke="#2a2a2a" stroke-width="0.2">3600</text>
<line x1="1412.3" x2="1412.3" y1="419.1" y2="421.1" stroke="#707070" stroke-width="0.8"/>
<text transform="translate(1411.5 428) rotate(-33)" text-anchor="end" font-family="'Liberation Sans','DejaVu Sans',sans-serif" font-size="8.1" fill="#2a2a2a" stroke="#2a2a2a" stroke-width="0.2">3800</text>
<text x="1161.5" y="448.5" text-anchor="middle" font-family="'Liberation Sans','DejaVu Sans',sans-serif" font-size="10.8" letter-spacing="0.4" fill="#222">hour</text>
<text transform="translate(893 308) rotate(-90) scale(0.86,1)" text-anchor="middle" font-family="'Liberation Mono','DejaVu Sans Mono',monospace" font-size="11.2" letter-spacing="0" fill="#1e1e1e" stroke="#1e1e1e" stroke-width="0.15">temperature/<tspan font-family="'Liberation Sans','DejaVu Sans',sans-serif" font-size="11.5" dx="-0.5">°C</tspan></text>
<rect x="1312.6" y="201" width="96" height="26.2" rx="1.5" fill="#fff" fill-opacity="0.8" stroke="#dcdcdc" stroke-width="0.8"/>
<line x1="1315.6" x2="1333.9" y1="208.1" y2="208.1" stroke="#2a93b5" stroke-width="1.1"/>
<text transform="translate(1339.3 210.5) scale(0.9,1)" font-family="'Liberation Mono','DejaVu Sans Mono',monospace" font-size="8.1" letter-spacing="0" fill="#1e1e1e" stroke="#1e1e1e" stroke-width="0.12">measured value</text>
<line x1="1315.6" x2="1333.9" y1="219.6" y2="219.6" stroke="#f8ae6d" stroke-width="1.1"/>
<text transform="translate(1339.3 222) scale(0.9,1)" font-family="'Liberation Mono','DejaVu Sans Mono',monospace" font-size="8.1" letter-spacing="0" fill="#1e1e1e" stroke="#1e1e1e" stroke-width="0.12">predicted value</text>
<text x="1149" y="472.7" text-anchor="middle" font-family="'DejaVu Serif','Liberation Serif',serif" font-size="9.87px" fill="#1a1a1a" letter-spacing="0"><tspan font-weight="bold">Fig. 19.</tspan><tspan dx="4">Temperature prediction of secondary bedroom 1 of Strategy 2.</tspan></text>
</g>
<g>
<clipPath id="c3"><rect x="275.1" y="524.9" width="530.2" height="232.5"/></clipPath>
<g clip-path="url(#c3)">
<polyline fill="none" stroke="#2a93b5" stroke-width="0.95" stroke-linejoin="round" opacity="0.92" points="275.2,608.6 275.5,599.7 275.8,604.8 276.1,605.2 276.3,603.7 276.6,604 276.9,605.4 277.2,605.5 277.5,603.5 277.7,606.2 278,602.1 278.3,601.2 278.6,594 278.8,588.3 279.1,589.9 279.4,588.6 279.7,589.8 280,589.5 280.2,588 280.5,586.8 280.8,584.3 281.1,582.2 281.3,582.3 281.6,583 281.9,574.7 282.2,566.1 282.5,570.3 282.7,577.3 283,579.2 283.3,580.9 283.6,584.2 283.8,583.7 284.1,583.4 284.4,597 284.7,610.4 284.9,617.1 285.2,613.9 285.5,613.5 285.8,614.2 286.1,611.1 286.3,612.5 286.6,609.7 286.9,611.2 287.2,607.4 287.4,610.2 287.7,609.3 288,605.9 288.3,603.6 288.6,604.4 288.8,597.8 289.1,598.4 289.4,600 289.7,602 289.9,604.2 290.2,602.8 290.5,601.2 290.8,598.9 291.1,599.3 291.3,599.4 291.6,597.9 291.9,598.2 292.2,592.9 292.4,595.1 292.7,592.3 293,594.2 293.3,595 293.5,594.3 293.8,595.4 294.1,592.5 294.4,593.8 294.7,592.1 294.9,590 295.2,588.4 295.5,585 295.8,582.9 296,586.6 296.3,586.9 296.6,588.5 296.9,589.4 297.2,587.1 297.4,588.6 297.7,590.9 298,603.8 298.3,613.7 298.5,602.8 298.8,583.6 299.1,594.1 299.4,603.1 299.7,611.7 299.9,609.5 300.2,612.5 300.5,613.3 300.8,614.1 301,615.2 301.3,617.2 301.6,616.7 301.9,605.8 302.2,589.8 302.4,600 302.7,604.6 303,613.2 303.3,614.3 303.5,614 303.8,614.4 304.1,615 304.4,615 304.6,616.2 304.9,619.3 305.2,599.6 305.5,573.7 305.8,588.2 306,603.3 306.3,611.1 306.6,610 306.9,611.7 307.1,614.3 307.4,615.1 307.7,615.5 308,617.6 308.3,619.1 308.5,605.3 308.8,594.4 309.1,599.8 309.4,610.7 309.6,616.5 309.9,617.7 310.2,616.2 310.5,618.3 310.8,619 311,620 311.3,619.2 311.6,618.7 311.9,608 312.1,590.4 312.4,599.8 312.7,609.1 313,615.7 313.2,615.1 313.5,621.4 313.8,617.5 314.1,616.8 314.4,620.2 314.6,619.6 314.9,620.1 315.2,607 315.5,590.4 315.7,598 316,607.3 316.3,617.1 316.6,617.2 316.9,620.2 317.1,620 317.4,620.4 317.7,621.4 318,623.1 318.2,621.2 318.5,613.5 318.8,601.7 319.1,610.7 319.4,615.6 319.6,621.6 319.9,621.5 320.2,619.5 320.5,618.9 320.7,622.7 321,623.1 321.3,624.5 321.6,625.5 321.8,610 322.1,595.2 322.4,605 322.7,611.5 323,621 323.2,621.1 323.5,621.9 323.8,621.8 324.1,623.1 324.3,623.5 324.6,625.7 324.9,626.5 325.2,615.3 325.5,602.5 325.7,609.2 326,616.3 326.3,620.4 326.6,624.4 326.8,624.1 327.1,625.2 327.4,624.2 327.7,627.8 328,629.1 328.2,626.4 328.5,614.8 328.8,600.5 329.1,609.9 329.3,615.2 329.6,623.9 329.9,626.1 330.2,626.7 330.4,627.7 330.7,625.1 331,627.2 331.3,628.3 331.6,627.6 331.8,615.4 332.1,603.7 332.4,610.7 332.7,616.7 332.9,620.9 333.2,619.4 333.5,619.7 333.8,618.8 334.1,616.8 334.3,616.4 334.6,616 334.9,615.3 335.2,603 335.4,588.5 335.7,591.9 336,597 336.3,603.7 336.6,601.5 336.8,605.2 337.1,602.7 337.4,606.2 337.7,605.5 337.9,604.4 338.2,604.8 338.5,592.4 338.8,572.9 339,584.1 339.3,592.3 339.6,600.3 339.9,602.4 340.2,600.3 340.4,602.4 340.7,602.8 341,605.3 341.3,605.4 341.5,605.5 341.8,591.5 342.1,575.2 342.4,585.3 342.7,594.5 342.9,603.1 343.2,599.1 343.5,601.1 343.8,601.3 344,604.2 344.3,601.8 344.6,604.6 344.9,605.6 345.2,594.1 345.4,579.8 345.7,585 346,593.9 346.3,601.7 346.5,604.2 346.8,605.7 347.1,605.1 347.4,602.9 347.7,602.1 347.9,606.3 348.2,606.4 348.5,594.6 348.8,577 349,583.9 349.3,594.1 349.6,601.2 349.9,600.3 350.1,602.9 350.4,604.9 350.7,601.6 351,603.8 351.3,605 351.5,605.5 351.8,592.9 352.1,575.1 352.4,586.6 352.6,593.3 352.9,603.4 353.2,603.1 353.5,603.4 353.8,605.8 354,604.4 354.3,608.2 354.6,610.3 354.9,610.2 355.1,601.6 355.4,590.6 355.7,597.8 356,604.6 356.3,609.4 356.5,614.1 356.8,611.8 357.1,614.5 357.4,614.5 357.6,616.2 357.9,613.8 358.2,619.1 358.5,611.5 358.7,602.2 359,605.2 359.3,612.5 359.6,614.2 359.9,613.9 360.1,617.2 360.4,620.1 360.7,616 361,617.8 361.2,618.2 361.5,617.1 361.8,610.1 362.1,602.8 362.4,606.9 362.6,613.4 362.9,616.3 363.2,617.6 363.5,617.3 363.7,619.5 364,618.8 364.3,619.2 364.6,619.5 364.9,620.7 365.1,616.5 365.4,604.1 365.7,611.4 366,613.2 366.2,619.3 366.5,619.8 366.8,621.3 367.1,618.5 367.3,622.5 367.6,620.1 367.9,620.3 368.2,618.7 368.5,614.8 368.7,608.9 369,614.5 369.3,618.6 369.6,623.9 369.8,620.4 370.1,622.3 370.4,624.8 370.7,622.8 371,624.2 371.2,623.4 371.5,624.8 371.8,617.9 372.1,605.1 372.3,610 372.6,617.1 372.9,622.7 373.2,625.1 373.5,624.7 373.7,624.3 374,623.7 374.3,626.2 374.6,626.4 374.8,623.4 375.1,618.6 375.4,606.3 375.7,613.3 375.9,618 376.2,622.5 376.5,623 376.8,624.1 377.1,623.4 377.3,625.7 377.6,625.3 377.9,628.1 378.2,625.8 378.4,618.3 378.7,603.4 379,613.1 379.3,617.7 379.6,623.8 379.8,624.4 380.1,625.5 380.4,623.7 380.7,625.9 380.9,628.6 381.2,628.3 381.5,626.4 381.8,619.2 382.1,602.7 382.3,612.5 382.6,621.2 382.9,623.7 383.2,626.8 383.4,631.3 383.7,626.6 384,629.1 384.3,627.6 384.6,627.4 384.8,627.8 385.1,620.1 385.4,610.7 385.7,612.7 385.9,620.4 386.2,626 386.5,628.5 386.8,627.6 387,626.7 387.3,627.5 387.6,627.2 387.9,629.1 388.2,630.4 388.4,618 388.7,606.8 389,611 389.3,616.5 389.5,624.1 389.8,624.7 390.1,622.6 390.4,623.4 390.7,626.2 390.9,622.7 391.2,625.2 391.5,626 391.8,617.6 392,603.9 392.3,608.8 392.6,615.2 392.9,619.6 393.2,620.5 393.4,623.5 393.7,622.8 394,623.3 394.3,624.1 394.5,624.4 394.8,625 395.1,616.8 395.4,605.3 395.6,609.8 395.9,613.6 396.2,621.2 396.5,621 396.8,624.9 397,621 397.3,620.7 397.6,621.9 397.9,621.3 398.1,622.7 398.4,614 398.7,604.2 399,609.1 399.3,615.4 399.5,616.1 399.8,616.9 400.1,618.2 400.4,618.7 400.6,616.6 400.9,618.2 401.2,620.2 401.5,619.3 401.8,609.2 402,597.2 402.3,603.2 402.6,611.9 402.9,616.3 403.1,618.3 403.4,615.4 403.7,616.6 404,618.2 404.2,613.7 404.5,615.4 404.8,632.9 405.1,652.4 405.4,699.3 405.6,699.3 405.9,672.2 406.2,680.7 406.5,681.4 406.7,682 407,684.6 407.3,688.4 407.6,686.8 407.9,687 408.1,688.5 408.4,679.4 408.7,672.1 409,679.9 409.2,680.1 409.5,689.1 409.8,688.4 410.1,691.2 410.4,688.6 410.6,691.9 410.9,691 411.2,691.9 411.5,690.6 411.7,681 412,671.4 412.3,677.3 412.6,684.7 412.8,690.7 413.1,693 413.4,691.8 413.7,696.2 414,693 414.2,695 414.5,696 414.8,695.3 415.1,687.8 415.3,672 415.6,678 415.9,687.4 416.2,693.9 416.5,696 416.7,698.3 417,697.1 417.3,698.4 417.6,699 417.8,700 418.1,698.9 418.4,692.7 418.7,679 419,683.5 419.2,694.1 419.5,699.9 419.8,699.3 420.1,701.2 420.3,702 420.6,703.6 420.9,707 421.2,721.4 421.4,721.4 421.7,721.4 422,684.5 422.3,690.4 422.6,696.2 422.8,703.8 423.1,704.3 423.4,705.5 423.7,703.6 423.9,706.3 424.2,705.6 424.5,703.3 424.8,708.4 425.1,697.7 425.3,684.5 425.6,691.7 425.9,695.1 426.2,703.5 426.4,703.4 426.7,700.7 427,704 427.3,702.8 427.6,703.4 427.8,701.2 428.1,704.6 428.4,694.4 428.7,683.1 428.9,687.4 429.2,693.8 429.5,697.2 429.8,699.2 430.1,695.6 430.3,697.6 430.6,697.1 430.9,695.6 431.2,697.6 431.4,697.9 431.7,687.1 432,674.5 432.3,684.2 432.5,690.2 432.8,692 433.1,693.2 433.4,692.9 433.7,690.1 433.9,693.3 434.2,693.1 434.5,691.2 434.8,693.6 435,687.8 435.3,682.4 435.6,682.3 435.9,682.9 436.2,685.9 436.4,683.6 436.7,682.5 437,682.4 437.3,678.7 437.5,679.1 437.8,678.6 438.1,678.1 438.4,661.5 438.7,643 438.9,648.6 439.2,656.8 439.5,667.2 439.8,668 440,667.9 440.3,666.7 440.6,669.1 440.9,667.6 441.1,669.6 441.4,672.4 441.7,653.3 442,638 442.3,647.6 442.5,655.2 442.8,662.8 443.1,661 443.4,664.1 443.6,663.5 443.9,664.6 444.2,665.3 444.5,664.1 444.8,664.4 445,651.8 445.3,630.5 445.6,646.4 445.9,648.8 446.1,660.4 446.4,660.2 446.7,658.6 447,658.5 447.3,658.2 447.5,662.4 447.8,657.8 448.1,662.4 448.4,651 448.6,637.9 448.9,645.2 449.2,650.8 449.5,654.6 449.7,655.8 450,657.4 450.3,654.2 450.6,654.1 450.9,654.8 451.1,655.1 451.4,654 451.7,639.3 452,621 452.2,630.9 452.5,642.9 452.8,647.3 453.1,647.6 453.4,647.5 453.6,646.9 453.9,651.2 454.2,653.6 454.5,648.3 454.7,648.9 455,637.8 455.3,624.9 455.6,627.8 455.9,637.8 456.1,640.8 456.4,643.4 456.7,642.4 457,647.8 457.2,643.4 457.5,645.3 457.8,646.2 458.1,644.9 458.3,630.8 458.6,623.8 458.9,631.1 459.2,632.4 459.5,640.4 459.7,639.2 460,636.7 460.3,637.6 460.6,638.1 460.8,637.4 461.1,639.1 461.4,640.7 461.7,629.8 462,618.9 462.2,623.6 462.5,629.1 462.8,633.3 463.1,632.8 463.3,635.1 463.6,634.9 463.9,634.2 464.2,633 464.5,635.3 464.7,637.8 465,626.5 465.3,621.1 465.6,624 465.8,628.2 466.1,630.4 466.4,633.9 466.7,629.5 466.9,632 467.2,629.8 467.5,631.9 467.8,627.4 468.1,631.3 468.3,624.8 468.6,616.7 468.9,623.4 469.2,621.6 469.4,629.8 469.7,627.5 470,626.7 470.3,626.9 470.6,628 470.8,629 471.1,627.1 471.4,628.1 471.7,624.3 471.9,616.4 472.2,617.5 472.5,620.4 472.8,628.3 473.1,624.4 473.3,625.1 473.6,623.5 473.9,624.6 474.2,625.1 474.4,623.3 474.7,623 475,617.1 475.3,611.8 475.6,614.4 475.8,615.9 476.1,621.5 476.4,622.4 476.7,620.7 476.9,622.6 477.2,620.2 477.5,623 477.8,622.7 478,621.1 478.3,614.7 478.6,600 478.9,604.2 479.2,611.4 479.4,621.3 479.7,618.7 480,621 480.3,621.3 480.5,621.2 480.8,621.7 481.1,623.2 481.4,623.1 481.7,612.8 481.9,601.1 482.2,608.6 482.5,615.4 482.8,622.6 483,622.4 483.3,625.8 483.6,623.2 483.9,623 484.2,623.6 484.4,625.3 484.7,627.6 485,610.3 485.3,598.6 485.5,606.6 485.8,614.2 486.1,624.4 486.4,624.9 486.6,623.7 486.9,623 487.2,625.8 487.5,625.4 487.8,626 488,627.2 488.3,616.2 488.6,597.8 488.9,607.9 489.1,617.4 489.4,625.4 489.7,623.2 490,625.2 490.3,627 490.5,625.4 490.8,626.5 491.1,628.3 491.4,630.8 491.6,617.1 491.9,601.4 492.2,611.1 492.5,614.1 492.8,625.4 493,627.4 493.3,628.8 493.6,625.6 493.9,628 494.1,667.9 494.4,667.9 494.7,628.8 495,620.4 495.2,611.2 495.5,616.2 495.8,623.3 496.1,626.4 496.4,627.6 496.6,626.7 496.9,627.7 497.2,627.9 497.5,632 497.7,631 498,632.1 498.3,618.4 498.6,600.1 498.9,606.6 499.1,616 499.4,623.7 499.7,625.8 500,626.5 500.2,628.5 500.5,629.2 500.8,630 501.1,631.4 501.4,687.6 501.6,687.6 501.9,607.1 502.2,616.9 502.5,623.6 502.7,626.5 503,628.7 503.3,631.4 503.6,629.9 503.8,633.5 504.1,632.4 504.4,638.2 504.7,644.2 505,664.4 505.2,664.4 505.5,632.8 505.8,648 506.1,658.7 506.3,661.1 506.6,659.6 506.9,659.5 507.2,659.7 507.5,659.8 507.7,663.2 508,659.2 508.3,645.7 508.6,632.2 508.8,640.3 509.1,647.5 509.4,658.4 509.7,656.7 510,656.1 510.2,656.3 510.5,656.6 510.8,659.1 511.1,656.4 511.3,656.6 511.6,647.2 511.9,637.3 512.2,644.3 512.4,649 512.7,653.2 513,655.6 513.3,654.8 513.6,653.6 513.8,653.9 514.1,655.8 514.4,657.4 514.7,655 514.9,651.4 515.2,645.1 515.5,645.6 515.8,649.2 516.1,653.7 516.3,652.4 516.6,651.8 516.9,650.4 517.2,648.8 517.4,649.2 517.7,652.4 518,648 518.3,646.1 518.6,642.5 518.8,642.8 519.1,643.7 519.4,644.5 519.7,641.8 519.9,641 520.2,639.8 520.5,639.9 520.8,639.3 521.1,639.2 521.3,640.9 521.6,632.3 521.9,627.5 522.2,629.4 522.4,633.5 522.7,634.3 523,628.7 523.3,632.9 523.5,630.7 523.8,629.7 524.1,630.1 524.4,631 524.7,629.9 524.9,622.9 525.2,616.6 525.5,621.4 525.8,624.7 526,624.6 526.3,626 526.6,626.2 526.9,626 527.2,627.1 527.4,629.1 527.7,624.8 528,628.6 528.3,622.6 528.5,616.3 528.8,617.8 529.1,623 529.4,627.9 529.7,628.1 529.9,627.5 530.2,625.1 530.5,624.6 530.8,626.9 531,627.4 531.3,626 531.6,620.5 531.9,613.8 532.1,618.1 532.4,620.3 532.7,622.8 533,622.9 533.3,623.5 533.5,625.6 533.8,623.3 534.1,628.1 534.4,625.2 534.6,624.4 534.9,619.8 535.2,612.4 535.5,611.8 535.8,617.7 536,620.5 536.3,617.8 536.6,618.7 536.9,620.7 537.1,618.5 537.4,618.4 537.7,616.5 538,615.6 538.3,614.5 538.5,607 538.8,606.3 539.1,610.8 539.4,612.8 539.6,613.4 539.9,611.3 540.2,612.4 540.5,611 540.7,610.6 541,611.1 541.3,611.6 541.6,608.5 541.9,603.6 542.1,604.7 542.4,604.3 542.7,605.7 543,605.2 543.2,606.5 543.5,605.6 543.8,605.7 544.1,606.1 544.4,606.1 544.6,601.4 544.9,601.5 545.2,597.4 545.5,599.6 545.7,602.1 546,599.8 546.3,600.8 546.6,601.4 546.9,602.6 547.1,600.8 547.4,599.5 547.7,598.8 548,599.8 548.2,597.3 548.5,593.8 548.8,594.1 549.1,597.4 549.3,597.5 549.6,600.3 549.9,595.1 550.2,595.7 550.5,597.1 550.7,597.4 551,595.5 551.3,596.4 551.6,593.7 551.8,589.5 552.1,591 552.4,593.6 552.7,592.4 553,596.5 553.2,593.9 553.5,594.4 553.8,596.7 554.1,593.7 554.3,597.4 554.6,595.7 554.9,592.3 555.2,587 555.5,589.5 555.7,589.8 556,593.6 556.3,593.9 556.6,593.9 556.8,593.6 557.1,595.1 557.4,593.4 557.7,594.3 558,594.2 558.2,592.4 558.5,589.4 558.8,590.9 559.1,593.4 559.3,602.9 559.6,620.5 559.9,631.8 560.2,630.9 560.4,629.9 560.7,631.1 561,631.2 561.3,630.5 561.6,626.4 561.8,619 562.1,623 562.4,624.3 562.7,628.1 562.9,626.5 563.2,620.8 563.5,615.4 563.8,616.2 564.1,613.9 564.3,615 564.6,612.8 564.9,603.7 565.2,594 565.4,598.9 565.7,603 566,606.5 566.3,605.6 566.6,603.9 566.8,602.8 567.1,606.4 567.4,604.4 567.7,604.7 567.9,604.2 568.2,598.2 568.5,586.1 568.8,590.2 569,595.5 569.3,597.8 569.6,598.9 569.9,601.1 570.2,598 570.4,597 570.7,597.6 571,595.6 571.3,592.6 571.5,587 571.8,577.6 572.1,583.2 572.4,585.7 572.7,589.4 572.9,587.4 573.2,589.4 573.5,589.4 573.8,588.9 574,585.5 574.3,585.5 574.6,587.5 574.9,575.8 575.2,573.4 575.4,576.4 575.7,577.4 576,581.9 576.3,582.4 576.5,582.4 576.8,580.4 577.1,580.1 577.4,579.7 577.6,581 577.9,578.2 578.2,576.3 578.5,568.3 578.8,569.9 579,577.2 579.3,587.3 579.6,603.7 579.9,611.5 580.1,612 580.4,613.2 580.7,610.7 581,611.4 581.3,609.2 581.5,605.7 581.8,599 582.1,601.8 582.4,604.3 582.6,606 582.9,605.2 583.2,607.8 583.5,605.4 583.8,607.6 584,601.1 584.3,604.9 584.6,605.1 584.9,597.4 585.1,585 585.4,588.7 585.7,595.8 586,599.6 586.2,599.6 586.5,598.8 586.8,600.6 587.1,598.8 587.4,599.7 587.6,597 587.9,601.1 588.2,591.2 588.5,580.3 588.7,584.1 589,589.6 589.3,595.3 589.6,594.7 589.9,593.7 590.1,597.2 590.4,593.8 590.7,596 591,593.8 591.2,592.6 591.5,589 591.8,580 592.1,583.2 592.4,587.8 592.6,589.4 592.9,589.5 593.2,592.7 593.5,592.8 593.7,591.3 594,592 594.3,590 594.6,589.2 594.8,581.6 595.1,570.9 595.4,575.9 595.7,580.2 596,585.9 596.2,586.4 596.5,586.9 596.8,585.2 597.1,586.6 597.3,586 597.6,584.9 597.9,588.9 598.2,579.7 598.5,572 598.7,576.1 599,578.9 599.3,584.1 599.6,584.1 599.8,579 600.1,580.3 600.4,581.4 600.7,584.2 601,583.6 601.2,584 601.5,574.8 601.8,563.8 602.1,568 602.3,575.6 602.6,576.8 602.9,578 603.2,576.9 603.5,578.5 603.7,577.4 604,580.6 604.3,577.7 604.6,579.6 604.8,569.8 605.1,556.8 605.4,562.9 605.7,571.9 605.9,571.7 606.2,574.5 606.5,574 606.8,574.2 607.1,574.9 607.3,574.5 607.6,574.1 607.9,574.9 608.2,568.6 608.4,558.3 608.7,560 609,565.9 609.3,570.6 609.6,568.4 609.8,571.1 610.1,567.7 610.4,569.5 610.7,570.4 610.9,571.5 611.2,571.3 611.5,563.2 611.8,550.4 612.1,554 612.3,560.1 612.6,566.2 612.9,565.4 613.2,568.6 613.4,567.4 613.7,566.4 614,563.3 614.3,565.5 614.5,564.5 614.8,554.7 615.1,544.3 615.4,549.6 615.7,557.1 615.9,564.2 616.2,562.5 616.5,563 616.8,563.2 617,563.5 617.3,566.1 617.6,566.9 617.9,566.4 618.2,556.6 618.4,542.7 618.7,550.5 619,558 619.3,562.3 619.5,563 619.8,565.1 620.1,562.7 620.4,567.5 620.7,565.6 620.9,564.8 621.2,566.8 621.5,557 621.8,548.6 622,551.9 622.3,557.4 622.6,564.9 622.9,563.9 623.1,565.1 623.4,565.2 623.7,565.1 624,566.3 624.3,565.9 624.5,567.6 624.8,556.3 625.1,547.1 625.4,555.1 625.6,560.1 625.9,563.4 626.2,562.8 626.5,566 626.8,565.6 627,567.3 627.3,564.5 627.6,566.7 627.9,568 628.1,558 628.4,553.8 628.7,554.8 629,562.3 629.3,565 629.5,566.6 629.8,567.8 630.1,566.9 630.4,567.8 630.6,564.4 630.9,568.5 631.2,565.7 631.5,559.1 631.7,550.8 632,558.1 632.3,560.2 632.6,565.7 632.9,568.9 633.1,564.1 633.4,567.3 633.7,568.3 634,566.9 634.2,567.8 634.5,569 634.8,555.6 635.1,538.3 635.4,550.6 635.6,557.6 635.9,565.8 636.2,562.2 636.5,566.1 636.7,567.7 637,568 637.3,569.8 637.6,569 637.9,571.1 638.1,562 638.4,552 638.7,558.1 639,563.8 639.2,569.6 639.5,570.9 639.8,569.8 640.1,570.6 640.3,570.9 640.6,571.1 640.9,571.1 641.2,571.9 641.5,561 641.7,545.2 642,552.1 642.3,562.6 642.6,568.2 642.8,568.8 643.1,571.1 643.4,569.7 643.7,571.6 644,569.5 644.2,573.6 644.5,572.4 644.8,566.5 645.1,556.9 645.3,559.6 645.6,565.7 645.9,569.1 646.2,570.1 646.5,574.2 646.7,570.5 647,574.5 647.3,573.7 647.6,574.9 647.8,573.7 648.1,563.2 648.4,550.3 648.7,554.2 649,565.2 649.2,571.6 649.5,573.1 649.8,569.7 650.1,573.9 650.3,573 650.6,574 650.9,574.2 651.2,574 651.4,565.7 651.7,551.5 652,556.6 652.3,566.1 652.6,569.4 652.8,571.8 653.1,570 653.4,571.9 653.7,573.2 653.9,574 654.2,570.3 654.5,572.2 654.8,565.2 655.1,548.8 655.3,559.6 655.6,565.9 655.9,568.1 656.2,570.7 656.4,568.9 656.7,571.8 657,570 657.3,571.4 657.6,571.6 657.8,571.4 658.1,566 658.4,556.2 658.7,560.3 658.9,565.4 659.2,569.5 659.5,569 659.8,570.8 660,571.3 660.3,569.4 660.6,566.9 660.9,570.2 661.2,570.4 661.4,565.6 661.7,557.9 662,559.9 662.3,562.6 662.5,569 662.8,568.1 663.1,569.9 663.4,571.1 663.7,570.7 663.9,572 664.2,570.1 664.5,571.3 664.8,558.6 665,547.1 665.3,555.4 665.6,560.7 665.9,567.3 666.2,565.4 666.4,564.4 666.7,567.7 667,569.6 667.3,570.1 667.5,569.5 667.8,569.3 668.1,563.3 668.4,555.5 668.6,559.1 668.9,563 669.2,567.4 669.5,569 669.8,568.1 670,569.9 670.3,568.4 670.6,569.4 670.9,569.5 671.1,571.7 671.4,567.3 671.7,559 672,561.2 672.3,570.3 672.5,573.8 672.8,575.9 673.1,577.3 673.4,577.8 673.6,580.8 673.9,581.1 674.2,583.5 674.5,583.8 674.8,571.2 675,554.6 675.3,562.3 675.6,571.5 675.9,580.5 676.1,582.5 676.4,580.5 676.7,584 677,582.9 677.2,584 677.5,582.8 677.8,583.8 678.1,569 678.4,555.9 678.6,562.4 678.9,573.2 679.2,578.9 679.5,577.2 679.7,581.9 680,580.5 680.3,585.6 680.6,583.3 680.9,582.2 681.1,584.9 681.4,573.3 681.7,559.2 682,565.1 682.2,573.8 682.5,580.8 682.8,581.7 683.1,580.8 683.4,580.8 683.6,582.9 683.9,582 684.2,583 684.5,582.6 684.7,570.2 685,559 685.3,566.2 685.6,573.8 685.8,580.9 686.1,582 686.4,581.1 686.7,582.1 687,580.9 687.2,582.6 687.5,581.2 687.8,582.9 688.1,574.2 688.3,561.7 688.6,570.9 688.9,571.9 689.2,580.2 689.5,582.6 689.7,580.5 690,582.7 690.3,583.1 690.6,582.6 690.8,584 691.1,582.1 691.4,572.1 691.7,558.5 692,564.1 692.2,573.4 692.5,579.9 692.8,578.4 693.1,577.5 693.3,583.5 693.6,583.6 693.9,583.3 694.2,581.8 694.5,584.3 694.7,572.6 695,562.4 695.3,567.3 695.6,575.3 695.8,582.7 696.1,581.9 696.4,580.6 696.7,581.8 696.9,581.4 697.2,582.8 697.5,585.4 697.8,583.9 698.1,575.4 698.3,563.7 698.6,569.4 698.9,575.8 699.2,581.8 699.4,580.1 699.7,584.2 700,583.9 700.3,584.7 700.6,583.7 700.8,582.5 701.1,585.7 701.4,571.6 701.7,564.3 701.9,566.6 702.2,576.1 702.5,580.3 702.8,583.2 703.1,582.2 703.3,583.5 703.6,581.4 703.9,585 704.2,583 704.4,582 704.7,573.5 705,560.2 705.3,566.1 705.5,577.7 705.8,580.9 706.1,580.9 706.4,582.1 706.7,584.3 706.9,582.9 707.2,582.8 707.5,583.2 707.8,585.6 708,577.4 708.3,567.9 708.6,574.3 708.9,578.7 709.2,583.9 709.4,583.1 709.7,583.2 710,580.4 710.3,583 710.5,583.9 710.8,585.8 711.1,583 711.4,574.3 711.7,565.6 711.9,572.1 712.2,577.3 712.5,582.8 712.8,585.2 713,583.7 713.3,584.5 713.6,583.2 713.9,584.6 714.1,585.7 714.4,584.2 714.7,574.2 715,561.8 715.3,569.7 715.5,577.1 715.8,581.4 716.1,582.3 716.4,583.7 716.6,583.5 716.9,586.4 717.2,583.4 717.5,585 717.8,584.2 718,574.3 718.3,556.2 718.6,565.9 718.9,572 719.1,578.3 719.4,582.4 719.7,582.6 720,581.8 720.3,585.9 720.5,585 720.8,586.4 721.1,586.4 721.4,577.4 721.6,564.5 721.9,571.3 722.2,576.1 722.5,582.9 722.7,582.5 723,583.4 723.3,583.5 723.6,584.7 723.9,585.6 724.1,585.6 724.4,587.3 724.7,575.9 725,563.1 725.2,565.4 725.5,578.6 725.8,582.1 726.1,582.9 726.4,584 726.6,585 726.9,586.2 727.2,588.1 727.5,587.1 727.7,587.4 728,574.8 728.3,555.4 728.6,567.2 728.9,572.7 729.1,579.7 729.4,583.9 729.7,584.1 730,582 730.2,588.4 730.5,587.2 730.8,588.7 731.1,588.6 731.4,577.3 731.6,566.5 731.9,574.3 732.2,577.9 732.5,587 732.7,586.2 733,584 733.3,583.3 733.6,585 733.8,585.9 734.1,587.7 734.4,586.4 734.7,578.9 735,564.8 735.2,572.8 735.5,578.2 735.8,587.2 736.1,585.8 736.3,585.2 736.6,588.5 736.9,586.7 737.2,586.8 737.5,588.5 737.7,589.6 738,576.8 738.3,564 738.6,570.1 738.8,574.2 739.1,586.1 739.4,585.3 739.7,588 740,583.4 740.2,587.8 740.5,587.7 740.8,587.5 741.1,589.3 741.3,572.2 741.6,559.2 741.9,568.6 742.2,579.5 742.4,584.1 742.7,586.4 743,584.7 743.3,587 743.6,588.8 743.8,586.9 744.1,588.5 744.4,589.6 744.7,578.2 744.9,563.3 745.2,571.6 745.5,577.3 745.8,587.5 746.1,586.2 746.3,587.9 746.6,586.2 746.9,587.8 747.2,587.1 747.4,590.8 747.7,592.7 748,582.5 748.3,575.9 748.6,581.7 748.8,583.4 749.1,586.4 749.4,589 749.7,588.5 749.9,590.5 750.2,590.3 750.5,589.4 750.8,590.1 751,590.6 751.3,578.6 751.6,561 751.9,569.7 752.2,575.2 752.4,586.7 752.7,587.5 753,587.3 753.3,589.1 753.5,590.2 753.8,590.6 754.1,590.6 754.4,591 754.7,579 754.9,561.8 755.2,569.5 755.5,578 755.8,586.2 756,588.1 756.3,588.4 756.6,590.5 756.9,587.6 757.2,588 757.4,588.3 757.7,592.5 758,578 758.3,571.7 758.5,580.2 758.8,585 759.1,590.4 759.4,592.1 759.6,591.2 759.9,592.7 760.2,592.6 760.5,590.9 760.8,594.5 761,595.1 761.3,590 761.6,588.1 761.9,589.8 762.1,590.5 762.4,593.8 762.7,591.7 763,594.3 763.3,594.5 763.5,592.2 763.8,594 764.1,594.3 764.4,595.6 764.6,590.7 764.9,588.1 765.2,592.5 765.5,592.6 765.8,594.3 766,595.2 766.3,597.6 766.6,594.2 766.9,595.2 767.1,598.7 767.4,598.1 767.7,594.6 768,594.4 768.2,595.3 768.5,595.4 768.8,596.4 769.1,598.3 769.4,598.6 769.6,599.2 769.9,599 770.2,597.7 770.5,600.9 770.7,597.7 771,599.2 771.3,598.6 771.6,594.7 771.9,596.7 772.1,599.4 772.4,600.7 772.7,602.4 773,602.4 773.2,602.2 773.5,603.4 773.8,606.6 774.1,606.8 774.4,606.6 774.6,606.9 774.9,605.4 775.2,603.2 775.5,608.5 775.7,609.2 776,611.5 776.3,610.5 776.6,610.6 776.9,613.1 777.1,613.8 777.4,613.8 777.7,615.1 778,608.9 778.2,599 778.5,603.9 778.8,610.3 779.1,613.5 779.3,617.3 779.6,617.6 779.9,615.9 780.2,616.1 780.5,619.1 780.7,621.8 781,621.4 781.3,612.3 781.6,602.1 781.8,607.9 782.1,613.3 782.4,621.8 782.7,621.6 783,622.5 783.2,623 783.5,621.3 783.8,623.5 784.1,626.5 784.3,626.6 784.6,620.1 784.9,603.2 785.2,611.9 785.5,617.8 785.7,624.6 786,628.5 786.3,626.3 786.6,628.7 786.8,629.5 787.1,631.6 787.4,631.2 787.7,631.1 787.9,620.5 788.2,618 788.5,644.6 788.8,659.8 789.1,669.5 789.3,671 789.6,670.8 789.9,677.8 790.2,679.6 790.4,681.3 790.7,682.6 791,684.8 791.3,672.8 791.6,655.6 791.8,663.5 792.1,673.2 792.4,677.9 792.7,678.7 792.9,679.6 793.2,677.9 793.5,677.4 793.8,680.9 794.1,678.1 794.3,680.9 794.6,667.9 794.9,651.9 795.2,660.6 795.4,667.1 795.7,673.4 796,672.9 796.3,674.1 796.5,674.2 796.8,675.2 797.1,673.9 797.4,674.1 797.7,676.6 797.9,663.8 798.2,649 798.5,657.1 798.8,663.1 799,670.1 799.3,671.2 799.6,672.1 799.9,672.2 800.2,672.4 800.4,674.4 800.7,674.3 801,671.2 801.3,667.3 801.5,657.5 801.8,662.4 802.1,665.1 802.4,670.1 802.7,669.2 802.9,671.6 803.2,668.6 803.5,671 803.8,671.8 804,669.3 804.3,669.4 804.6,659.2 804.9,650.8"/>
<polyline fill="none" stroke="#f8ae6d" stroke-width="1.1" stroke-linejoin="round" opacity="0.93" points="275.2,606.1 275.5,602.1 275.8,603.7 276.1,606.5 276.3,604.8 276.6,604.7 276.9,604.6 277.2,605.5 277.5,605 277.7,602.9 278,603.2 278.3,600.7 278.6,595.7 278.8,590 279.1,588.7 279.4,589.7 279.7,588.2 280,585.4 280.2,586 280.5,586.6 280.8,584.7 281.1,582.2 281.3,580.9 281.6,582 281.9,575.2 282.2,569.7 282.5,574.5 282.7,576.5 283,579.8 283.3,578.7 283.6,582.2 283.8,581 284.1,582.6 284.4,595.5 284.7,610.3 284.9,616.9 285.2,613.4 285.5,611.2 285.8,612.8 286.1,611 286.3,612 286.6,610.7 286.9,607.8 287.2,608 287.4,607.9 287.7,606.7 288,607.1 288.3,605.9 288.6,602.9 288.8,601.7 289.1,601.3 289.4,599.4 289.7,601.9 289.9,601.1 290.2,599.1 290.5,598.1 290.8,599.6 291.1,597.7 291.3,599.5 291.6,599.1 291.9,596.2 292.2,592.1 292.4,594.8 292.7,593.8 293,593.7 293.3,595.5 293.5,594.1 293.8,591.8 294.1,591.6 294.4,592.1 294.7,594.2 294.9,591 295.2,588.2 295.5,588.3 295.8,586.7 296,588.4 296.3,590 296.6,586.8 296.9,585.8 297.2,588 297.4,585.6 297.7,586.3 298,603.9 298.3,613.6 298.5,603.5 298.8,591.3 299.1,596.6 299.4,604.4 299.7,609.1 299.9,611 300.2,612.2 300.5,611.7 300.8,610.6 301,612.3 301.3,612.1 301.6,616.5 301.9,606.7 302.2,596.2 302.4,600.9 302.7,606.6 303,614 303.3,613.3 303.5,613 303.8,612.8 304.1,616.7 304.4,613 304.6,615.9 304.9,615 305.2,603 305.5,583.7 305.8,592.1 306,601.3 306.3,611.6 306.6,614.2 306.9,612 307.1,614.3 307.4,614.8 307.7,614.1 308,618.3 308.3,614.4 308.5,610.3 308.8,597 309.1,601.8 309.4,609.6 309.6,612.8 309.9,616.8 310.2,615.1 310.5,616.2 310.8,617.9 311,617 311.3,619.5 311.6,620.5 311.9,607 312.1,595.3 312.4,604.2 312.7,611.5 313,616.5 313.2,617.4 313.5,615.7 313.8,618.3 314.1,617.5 314.4,619.6 314.6,621.6 314.9,618 315.2,609.4 315.5,597.9 315.7,603.6 316,609.3 316.3,618.4 316.6,619.4 316.9,619.8 317.1,617.9 317.4,617.1 317.7,621.6 318,621.7 318.2,622.1 318.5,614.8 318.8,604.3 319.1,610.2 319.4,615.8 319.6,619 319.9,620.4 320.2,622.8 320.5,621.9 320.7,619.5 321,622.2 321.3,623.4 321.6,623 321.8,613.8 322.1,600.4 322.4,607.8 322.7,614.5 323,619.6 323.2,621.3 323.5,621.9 323.8,622.3 324.1,623.6 324.3,623.5 324.6,623.7 324.9,625.4 325.2,618.6 325.5,606.3 325.7,614.6 326,617.1 326.3,622.9 326.6,625 326.8,625.1 327.1,625.3 327.4,628.1 327.7,624.8 328,624.8 328.2,627.2 328.5,617.3 328.8,606.2 329.1,611.7 329.3,617 329.6,623.3 329.9,626.2 330.2,626.1 330.4,625.5 330.7,627.4 331,627.3 331.3,626.5 331.6,625.3 331.8,617.3 332.1,610.6 332.4,612.5 332.7,614.8 332.9,620.6 333.2,619.3 333.5,618.3 333.8,617 334.1,615.9 334.3,616 334.6,612 334.9,611.5 335.2,602.7 335.4,590.2 335.7,594.9 336,599 336.3,603 336.6,602.1 336.8,601.2 337.1,602.2 337.4,604.1 337.7,606 337.9,605.3 338.2,606 338.5,592.3 338.8,577.2 339,589.7 339.3,594.8 339.6,600.7 339.9,599.3 340.2,601.7 340.4,602.3 340.7,601.4 341,604.1 341.3,604.7 341.5,606 341.8,594.2 342.1,584.1 342.4,588.7 342.7,595.8 342.9,601.6 343.2,601.7 343.5,601.3 343.8,602.3 344,603.9 344.3,603.1 344.6,605 344.9,605.8 345.2,595.4 345.4,584.4 345.7,588.1 346,595.1 346.3,601.4 346.5,600.6 346.8,600.4 347.1,603.9 347.4,603.8 347.7,603.3 347.9,605.5 348.2,604.4 348.5,595.1 348.8,581.2 349,587 349.3,594 349.6,602.7 349.9,601.5 350.1,599.9 350.4,602.8 350.7,603.6 351,603.4 351.3,603.8 351.5,606.4 351.8,593.3 352.1,581.2 352.4,588 352.6,596.1 352.9,602.1 353.2,604.4 353.5,602.7 353.8,604.9 354,609.1 354.3,608.8 354.6,609.2 354.9,609.8 355.1,604.5 355.4,594.5 355.7,600 356,605.1 356.3,610.8 356.5,609.8 356.8,613.9 357.1,616.6 357.4,614.5 357.6,611.7 357.9,612.3 358.2,616.5 358.5,612.1 358.7,602.9 359,610 359.3,610.2 359.6,615.4 359.9,615.5 360.1,616.2 360.4,616.2 360.7,616.2 361,616.9 361.2,617.6 361.5,617.6 361.8,612.1 362.1,601.6 362.4,606.9 362.6,613.6 362.9,616.1 363.2,615 363.5,618.9 363.7,617.7 364,619.1 364.3,619.5 364.6,618.1 364.9,619.2 365.1,616.1 365.4,606.7 365.7,613.1 366,614.9 366.2,617.5 366.5,619.8 366.8,617.8 367.1,620.7 367.3,622 367.6,621.5 367.9,621.9 368.2,620.7 368.5,617.8 368.7,609.5 369,614.5 369.3,618.6 369.6,621.5 369.8,621.6 370.1,622.4 370.4,624.1 370.7,623.2 371,622.3 371.2,624.2 371.5,623.2 371.8,618.7 372.1,608.6 372.3,613.6 372.6,617.8 372.9,623.6 373.2,622.5 373.5,623.4 373.7,623.7 374,624.9 374.3,626.6 374.6,625.9 374.8,628.6 375.1,617.3 375.4,609.7 375.7,613.6 375.9,620.3 376.2,622.6 376.5,623.7 376.8,623.6 377.1,625.6 377.3,623.8 377.6,624.7 377.9,623.6 378.2,624.9 378.4,619.5 378.7,609.4 379,612.4 379.3,619.3 379.6,625.3 379.8,624.3 380.1,624.7 380.4,624.8 380.7,625 380.9,627.3 381.2,627.2 381.5,627.2 381.8,617.8 382.1,608.6 382.3,615 382.6,618.6 382.9,626.4 383.2,625.6 383.4,626.4 383.7,624.9 384,628.2 384.3,624.5 384.6,629.5 384.8,626.6 385.1,621.3 385.4,612.6 385.7,616.4 385.9,621.8 386.2,624.8 386.5,624.4 386.8,625 387,627.4 387.3,626.1 387.6,626.2 387.9,626.9 388.2,625.8 388.4,619.3 388.7,609.4 389,613.4 389.3,617.8 389.5,624.4 389.8,624.5 390.1,622.4 390.4,626 390.7,626.2 390.9,626.7 391.2,623.5 391.5,624.6 391.8,618.7 392,606.9 392.3,613.6 392.6,616.6 392.9,621.6 393.2,622 393.4,621 393.7,621.8 394,623.2 394.3,625 394.5,623.9 394.8,623.7 395.1,617.3 395.4,609.6 395.6,612.3 395.9,616 396.2,621.3 396.5,619.9 396.8,623 397,622.4 397.3,620.6 397.6,621.3 397.9,621.4 398.1,621.3 398.4,614.7 398.7,605.8 399,609.7 399.3,612.8 399.5,618.5 399.8,619 400.1,617.9 400.4,616.1 400.6,617.7 400.9,619.5 401.2,616.2 401.5,619.7 401.8,611.3 402,600 402.3,606.4 402.6,610.3 402.9,614.9 403.1,615.9 403.4,615 403.7,615.3 404,616.1 404.2,618.7 404.5,615.9 404.8,631.5 405.1,656.5 405.4,693.5 405.6,693.5 405.9,672.7 406.2,680 406.5,681.8 406.7,683 407,683.2 407.3,689.5 407.6,686.4 407.9,685.3 408.1,687.5 408.4,682.6 408.7,672.6 409,678.6 409.2,683.8 409.5,687.9 409.8,687.6 410.1,687.6 410.4,689.3 410.6,691.9 410.9,691 411.2,692 411.5,693 411.7,685 412,676.5 412.3,682.1 412.6,686.1 412.8,692 413.1,690.8 413.4,693.5 413.7,694 414,695.9 414.2,695.4 414.5,696.4 414.8,695.6 415.1,686.9 415.3,674.8 415.6,681.3 415.9,689.4 416.2,695.8 416.5,696.3 416.7,695.2 417,699.7 417.3,697.4 417.6,701.8 417.8,700.1 418.1,702.8 418.4,692.1 418.7,682.3 419,686.7 419.2,693 419.5,699.9 419.8,699.1 420.1,703.6 420.3,703.2 420.6,704.5 420.9,701.5 421.2,707.4 421.4,707.4 421.7,707.4 422,688.3 422.3,692.5 422.6,696.6 422.8,705.4 423.1,705.1 423.4,702.3 423.7,704.9 423.9,703.1 424.2,703.8 424.5,704.9 424.8,705.2 425.1,698.1 425.3,688.1 425.6,692.7 425.9,701 426.2,700.5 426.4,701.1 426.7,700.4 427,701.1 427.3,702 427.6,702.4 427.8,703.4 428.1,701.6 428.4,696.7 428.7,687 428.9,690.7 429.2,694.9 429.5,698 429.8,700.2 430.1,698.7 430.3,698.9 430.6,698.1 430.9,698.3 431.2,699 431.4,698.7 431.7,690.1 432,681.8 432.3,684.6 432.5,688.7 432.8,690.8 433.1,691.9 433.4,692 433.7,694 433.9,693.1 434.2,694.3 434.5,692 434.8,692 435,687.4 435.3,682.1 435.6,683.8 435.9,683.3 436.2,685.5 436.4,683.2 436.7,679.9 437,680.2 437.3,677.5 437.5,676.4 437.8,678 438.1,674.5 438.4,663.5 438.7,647.2 438.9,653.7 439.2,660.1 439.5,666.2 439.8,665.3 440,666.3 440.3,667.5 440.6,666.9 440.9,669 441.1,668.9 441.4,667.1 441.7,656.3 442,645.8 442.3,650 442.5,657.5 442.8,663.7 443.1,663.6 443.4,663.3 443.6,663.1 443.9,662.3 444.2,664.1 444.5,663.2 444.8,664.8 445,652.8 445.3,639.4 445.6,646.8 445.9,652.6 446.1,658 446.4,656.8 446.7,659.1 447,660.6 447.3,660.7 447.5,660.1 447.8,659 448.1,661.3 448.4,649.6 448.6,643.8 448.9,646.4 449.2,654.5 449.5,654.2 449.7,655.9 450,656.3 450.3,655.4 450.6,653.7 450.9,655.1 451.1,653.3 451.4,654 451.7,642.2 452,628.8 452.2,634 452.5,641.1 452.8,647.8 453.1,648.6 453.4,647.8 453.6,648 453.9,649.4 454.2,647.6 454.5,651.1 454.7,649.1 455,638.9 455.3,627.5 455.6,633.7 455.9,639.1 456.1,644.1 456.4,642.3 456.7,642.9 457,645.1 457.2,642.6 457.5,642.9 457.8,645.4 458.1,643.3 458.3,636 458.6,625.8 458.9,628.8 459.2,634.4 459.5,636.7 459.7,639.4 460,639.3 460.3,638.2 460.6,638.6 460.8,639.3 461.1,636.7 461.4,635.2 461.7,631.9 462,621.6 462.2,624.9 462.5,629.7 462.8,635.3 463.1,633 463.3,634.7 463.6,634.4 463.9,634.1 464.2,632.5 464.5,635.6 464.7,635.3 465,630.2 465.3,621.5 465.6,623.1 465.8,626.6 466.1,631.7 466.4,631.3 466.7,630.8 466.9,630.8 467.2,630.5 467.5,629.4 467.8,632.4 468.1,631.7 468.3,626.9 468.6,617.6 468.9,621.6 469.2,625.4 469.4,626.8 469.7,628.5 470,627.5 470.3,628.2 470.6,625.4 470.8,626.8 471.1,626.1 471.4,627.8 471.7,623.6 471.9,617.8 472.2,619.1 472.5,623.6 472.8,625.2 473.1,623.7 473.3,622.4 473.6,624.3 473.9,624.6 474.2,625 474.4,625.6 474.7,624.2 475,619.8 475.3,614.4 475.6,618.1 475.8,618.6 476.1,620.8 476.4,621.8 476.7,620.9 476.9,622.6 477.2,619.6 477.5,621.2 477.8,622.5 478,623.5 478.3,614.1 478.6,604.9 478.9,607 479.2,614.1 479.4,620.7 479.7,620.7 480,617.8 480.3,619.9 480.5,622.6 480.8,621.5 481.1,624.5 481.4,623.2 481.7,615.8 481.9,606.1 482.2,610.3 482.5,617.6 482.8,621.2 483,622.5 483.3,622.3 483.6,622.9 483.9,621.1 484.2,624 484.4,622.3 484.7,625.4 485,615.5 485.3,602.8 485.5,608 485.8,615.7 486.1,621.2 486.4,622.2 486.6,624.7 486.9,623.3 487.2,626.2 487.5,624.6 487.8,626.6 488,625 488.3,617.7 488.6,604.4 488.9,610.3 489.1,618.2 489.4,621.3 489.7,624.7 490,625.9 490.3,625.4 490.5,626.5 490.8,625.3 491.1,629.1 491.4,628 491.6,619.3 491.9,607.5 492.2,612.4 492.5,620.1 492.8,626.9 493,624.4 493.3,624.9 493.6,628 493.9,627.7 494.1,659.8 494.4,659.8 494.7,627.3 495,621.6 495.2,612 495.5,617.6 495.8,621.8 496.1,624.4 496.4,626.3 496.6,627.5 496.9,630.2 497.2,628.1 497.5,628.4 497.7,628.5 498,630.4 498.3,618.3 498.6,604.7 498.9,612.5 499.1,619.1 499.4,626.3 499.7,626.2 500,627.8 500.2,628.8 500.5,628.4 500.8,628 501.1,627.8 501.4,664.4 501.6,664.4 501.9,611 502.2,620.7 502.5,623.6 502.7,626.2 503,629 503.3,626.9 503.6,628.3 503.8,630.6 504.1,631.4 504.4,635.3 504.7,641.1 505,662.1 505.2,662.1 505.5,638.2 505.8,647.3 506.1,661.4 506.3,661.3 506.6,657.6 506.9,660 507.2,661.2 507.5,659 507.7,659.7 508,660.7 508.3,649.1 508.6,637.2 508.8,646.4 509.1,649.9 509.4,655.7 509.7,656.1 510,656.9 510.2,656.6 510.5,656.4 510.8,656.4 511.1,660.1 511.3,657.1 511.6,650.4 511.9,638.7 512.2,646.1 512.4,650 512.7,653.3 513,654 513.3,654.5 513.6,655.6 513.8,653.5 514.1,654.9 514.4,654.1 514.7,652.2 514.9,648.5 515.2,643.5 515.5,648.2 515.8,650.8 516.1,651.1 516.3,653.1 516.6,651.2 516.9,651.2 517.2,650.8 517.4,649.6 517.7,649.6 518,648 518.3,646.9 518.6,643.8 518.8,644.2 519.1,642.7 519.4,645.4 519.7,643.2 519.9,641.8 520.2,642 520.5,640.4 520.8,639.7 521.1,640.5 521.3,637.5 521.6,634.4 521.9,627.4 522.2,629.1 522.4,630.9 522.7,633.3 523,634 523.3,630.3 523.5,631.6 523.8,633.6 524.1,628.4 524.4,628.5 524.7,629.6 524.9,625.6 525.2,619.7 525.5,622.6 525.8,624.8 526,627.2 526.3,627.2 526.6,627.4 526.9,627 527.2,628.2 527.4,628.1 527.7,626.6 528,627.3 528.3,624.3 528.5,619.1 528.8,622.2 529.1,621.7 529.4,625.1 529.7,626.2 529.9,626.9 530.2,625.2 530.5,625.7 530.8,625.9 531,625.3 531.3,626.5 531.6,622 531.9,616.7 532.1,618.8 532.4,623.4 532.7,623.5 533,624.8 533.3,623.4 533.5,626.8 533.8,624.9 534.1,621.7 534.4,625.3 534.6,624.7 534.9,618.5 535.2,610.8 535.5,617.6 535.8,619.1 536,620.7 536.3,620.4 536.6,619.8 536.9,617.5 537.1,619.9 537.4,619.1 537.7,617.7 538,617.9 538.3,613.8 538.5,609.5 538.8,609.8 539.1,610.4 539.4,613.7 539.6,612.8 539.9,613 540.2,612.8 540.5,611.6 540.7,609.7 541,611 541.3,610.9 541.6,604.9 541.9,604.2 542.1,604.3 542.4,607 542.7,606.1 543,603.7 543.2,604.9 543.5,606.7 543.8,606.3 544.1,604.1 544.4,606.5 544.6,604.7 544.9,601.9 545.2,599.7 545.5,599.4 545.7,596.8 546,601.9 546.3,601.6 546.6,602.2 546.9,600.4 547.1,598.4 547.4,599.9 547.7,599.7 548,599.9 548.2,597.1 548.5,593.6 548.8,595.1 549.1,596.1 549.3,596.3 549.6,596.7 549.9,598.1 550.2,598 550.5,595.8 550.7,595.9 551,596.4 551.3,594.4 551.6,591.4 551.8,589.7 552.1,589.1 552.4,593.3 552.7,594.8 553,594.6 553.2,594.1 553.5,595.8 553.8,593.8 554.1,594.3 554.3,594.6 554.6,594 554.9,592.1 555.2,587.6 555.5,588.9 555.7,590 556,594.7 556.3,592.8 556.6,593.1 556.8,594.5 557.1,594.6 557.4,593.1 557.7,593.2 558,593.6 558.2,592.1 558.5,589.7 558.8,591.7 559.1,593.4 559.3,602.9 559.6,619.2 559.9,635.4 560.2,632.8 560.4,631.2 560.7,629.3 561,630 561.3,631.9 561.6,626.1 561.8,622.7 562.1,623.1 562.4,628.5 562.7,626.7 562.9,627.2 563.2,623.8 563.5,618 563.8,613.5 564.1,612.9 564.3,612.6 564.6,614.4 564.9,604.2 565.2,595.2 565.4,599.4 565.7,602.9 566,606.1 566.3,605.9 566.6,605.8 566.8,605.4 567.1,605.2 567.4,604.9 567.7,602 567.9,602.2 568.2,596.7 568.5,590.7 568.8,590.2 569,594.9 569.3,595.9 569.6,598.2 569.9,597 570.2,594.3 570.4,597.7 570.7,595.4 571,594.1 571.3,592.7 571.5,588.1 571.8,578.2 572.1,583.1 572.4,584.1 572.7,588.3 572.9,590.5 573.2,586.6 573.5,586.8 573.8,586.6 574,584 574.3,586.7 574.6,586.2 574.9,581.2 575.2,575 575.4,577.5 575.7,577.1 576,581.1 576.3,580.6 576.5,581.2 576.8,579.1 577.1,579.1 577.4,577 577.6,576.6 577.9,577.6 578.2,577.4 578.5,570.5 578.8,572.4 579,573.5 579.3,584.8 579.6,604.2 579.9,613.2 580.1,611.8 580.4,612 580.7,609.4 581,611.9 581.3,607.6 581.5,606 581.8,598.7 582.1,599.9 582.4,603 582.6,605.5 582.9,606 583.2,604.1 583.5,606.5 583.8,604.4 584,606.4 584.3,604.1 584.6,603.7 584.9,597.4 585.1,588 585.4,593.8 585.7,595.1 586,600.4 586.2,601 586.5,599.3 586.8,596.3 587.1,599.7 587.4,599.3 587.6,599.5 587.9,596.7 588.2,592.1 588.5,583 588.7,588.4 589,592.2 589.3,595 589.6,594.8 589.9,593.7 590.1,595.2 590.4,594.6 590.7,596.3 591,596.2 591.2,595.6 591.5,589.1 591.8,582.3 592.1,585.3 592.4,588.3 592.6,591.5 592.9,590 593.2,589.5 593.5,590.8 593.7,590.2 594,590.1 594.3,592.6 594.6,590.9 594.8,583 595.1,572.2 595.4,578 595.7,583.6 596,584 596.2,586 596.5,587.4 596.8,586.5 597.1,586.1 597.3,587.7 597.6,584.9 597.9,586.3 598.2,581.6 598.5,573.6 598.7,576.9 599,578.7 599.3,581.4 599.6,582 599.8,582.2 600.1,584.4 600.4,581.8 600.7,583.1 601,582.7 601.2,582.8 601.5,573.9 601.8,567.2 602.1,569.9 602.3,573.6 602.6,577 602.9,576.4 603.2,577 603.5,578.6 603.7,579.7 604,577.8 604.3,579.6 604.6,577.2 604.8,570.3 605.1,562.8 605.4,563.1 605.7,569.3 605.9,570.1 606.2,572.9 606.5,574 606.8,573.3 607.1,573.1 607.3,573.1 607.6,573.1 607.9,572.9 608.2,569.6 608.4,561.3 608.7,563.6 609,565.6 609.3,570.9 609.6,569.8 609.8,568.9 610.1,570.2 610.4,567.8 610.7,569.8 610.9,570.1 611.2,568.8 611.5,563.1 611.8,554.9 612.1,558.9 612.3,563.6 612.6,563.2 612.9,564.7 613.2,565.3 613.4,563.7 613.7,565.3 614,566.2 614.3,562.9 614.5,564.9 614.8,556.3 615.1,545.9 615.4,551.9 615.7,559.4 615.9,558.6 616.2,560.1 616.5,562.7 616.8,561.4 617,562.5 617.3,564 617.6,564.8 617.9,565.6 618.2,558.4 618.4,547.9 618.7,554.4 619,557.5 619.3,564.7 619.5,561.1 619.8,562.9 620.1,564.6 620.4,563.2 620.7,562.1 620.9,564.7 621.2,564.8 621.5,558.8 621.8,546.8 622,552.5 622.3,560.7 622.6,563.5 622.9,563 623.1,562.8 623.4,566.3 623.7,565.1 624,567.2 624.3,565.6 624.5,565.6 624.8,561 625.1,550.8 625.4,555.1 625.6,559.8 625.9,562.9 626.2,564.4 626.5,563.2 626.8,564.6 627,566 627.3,564 627.6,564.1 627.9,568 628.1,561.6 628.4,552.6 628.7,557.5 629,561.3 629.3,564.5 629.5,565 629.8,564.1 630.1,565.4 630.4,566.1 630.6,566.7 630.9,566.5 631.2,567.2 631.5,562.3 631.7,554.3 632,558.1 632.3,561.9 632.6,565.2 632.9,566.2 633.1,567.8 633.4,569.1 633.7,567.7 634,569.2 634.2,569.1 634.5,567.8 634.8,557.6 635.1,544.4 635.4,551.5 635.6,558 635.9,566.1 636.2,566.8 636.5,568.2 636.7,567.1 637,567.3 637.3,567.5 637.6,568.2 637.9,570.1 638.1,562.6 638.4,557.3 638.7,559.1 639,565.3 639.2,567.7 639.5,569 639.8,569 640.1,569 640.3,571.7 640.6,570 640.9,570.9 641.2,572.1 641.5,562.1 641.7,551.7 642,557 642.3,562.3 642.6,569.3 642.8,569 643.1,568.4 643.4,569.7 643.7,570.1 644,569.4 644.2,573.9 644.5,570.3 644.8,563.3 645.1,558.8 645.3,560.5 645.6,565.9 645.9,571.4 646.2,571.2 646.5,569.8 646.7,571.8 647,572.8 647.3,573.1 647.6,570.5 647.8,574.9 648.1,563.2 648.4,556.4 648.7,558.3 649,563.9 649.2,571.7 649.5,570.8 649.8,571.2 650.1,571.8 650.3,570.3 650.6,573.6 650.9,575.8 651.2,574.3 651.4,566.2 651.7,553.8 652,561.1 652.3,565.9 652.6,568.8 652.8,571.7 653.1,573.4 653.4,571.9 653.7,572.3 653.9,571 654.2,572.1 654.5,572.1 654.8,566.5 655.1,556.9 655.3,561.1 655.6,564.7 655.9,568.4 656.2,569.8 656.4,568.5 656.7,572.5 657,571.7 657.3,568.8 657.6,571.5 657.8,569.1 658.1,566 658.4,558.8 658.7,562.3 658.9,565.3 659.2,570.6 659.5,568.3 659.8,570 660,570.3 660.3,569.8 660.6,570.3 660.9,568.7 661.2,570.6 661.4,564 661.7,560.4 662,560.9 662.3,565.5 662.5,568.2 662.8,568.4 663.1,569.2 663.4,568.1 663.7,569.8 663.9,570.4 664.2,569.1 664.5,569.5 664.8,562.4 665,552.7 665.3,556.8 665.6,561.5 665.9,567.5 666.2,568 666.4,568.8 666.7,568.8 667,568.1 667.3,568.4 667.5,568.9 667.8,568 668.1,562.8 668.4,556.4 668.6,560.1 668.9,564.3 669.2,565.8 669.5,565.6 669.8,567.8 670,565.8 670.3,567.8 670.6,568.8 670.9,569.9 671.1,571.3 671.4,565.5 671.7,560.5 672,563.5 672.3,569.9 672.5,573.4 672.8,576.1 673.1,577.7 673.4,577 673.6,578.8 673.9,579.7 674.2,585.4 674.5,585.6 674.8,573.6 675,557.5 675.3,566.2 675.6,574.4 675.9,580.6 676.1,580.4 676.4,580.5 676.7,581.9 677,582.5 677.2,584.5 677.5,583.2 677.8,581.6 678.1,573.8 678.4,558.8 678.6,567.8 678.9,571.8 679.2,579.2 679.5,580.7 679.7,578.2 680,582.2 680.3,583 680.6,582.3 680.9,582 681.1,581.3 681.4,574 681.7,563.8 682,569.5 682.2,572.8 682.5,580.7 682.8,579.5 683.1,581.6 683.4,580.2 683.6,581.2 683.9,583.5 684.2,582.8 684.5,583.5 684.7,574.4 685,562.8 685.3,570.2 685.6,574 685.8,581.2 686.1,578.7 686.4,581.3 686.7,580.5 687,581.3 687.2,582.1 687.5,584.1 687.8,582.6 688.1,574.2 688.3,563.5 688.6,569.1 688.9,573.2 689.2,580.7 689.5,580.5 689.7,581.6 690,580.4 690.3,580.5 690.6,580.3 690.8,580.4 691.1,581.1 691.4,574.4 691.7,559.9 692,569.6 692.2,573.5 692.5,578.7 692.8,580 693.1,579.6 693.3,578.1 693.6,581.6 693.9,580.2 694.2,580.2 694.5,581.3 694.7,573.4 695,564.2 695.3,569.1 695.6,575.4 695.8,580.7 696.1,578.6 696.4,580.2 696.7,580.4 696.9,581.3 697.2,581.7 697.5,581.7 697.8,583.3 698.1,575.1 698.3,568.7 698.6,572.1 698.9,577.4 699.2,580.4 699.4,582.1 699.7,580.9 700,580.6 700.3,582.3 700.6,583.4 700.8,582.1 701.1,582.6 701.4,575.1 701.7,565.8 701.9,570.4 702.2,574.7 702.5,581.9 702.8,579.4 703.1,583.2 703.3,582.9 703.6,583.1 703.9,583.3 704.2,583 704.4,582.9 704.7,574 705,564.7 705.3,571.3 705.5,574.7 705.8,580.2 706.1,579.8 706.4,582.4 706.7,580.4 706.9,582.8 707.2,583.2 707.5,584.4 707.8,586.1 708,578.6 708.3,570.8 708.6,572.5 708.9,578.5 709.2,581.1 709.4,581.9 709.7,583 710,583.6 710.3,584.6 710.5,583.8 710.8,585.6 711.1,583.5 711.4,578.3 711.7,569.2 711.9,576 712.2,578.7 712.5,580.3 712.8,582.5 713,582.8 713.3,583.1 713.6,582.6 713.9,585.5 714.1,584 714.4,583.4 714.7,576.7 715,564.3 715.3,571.7 715.5,575.6 715.8,582.3 716.1,582.8 716.4,582.4 716.6,584.6 716.9,583.3 717.2,585 717.5,582.7 717.8,586.2 718,575.8 718.3,559.5 718.6,567.3 718.9,575.1 719.1,579.7 719.4,582.8 719.7,581.4 720,582.8 720.3,582.1 720.5,584 720.8,584.6 721.1,588.1 721.4,578.6 721.6,568.3 721.9,574.3 722.2,579.5 722.5,581.8 722.7,585.4 723,584.9 723.3,584.5 723.6,584.1 723.9,584.2 724.1,584.6 724.4,587.2 724.7,577.4 725,567.8 725.2,572.1 725.5,579 725.8,582.7 726.1,585 726.4,585.6 726.6,583.9 726.9,584.9 727.2,584.4 727.5,586.5 727.7,583.7 728,576.2 728.3,563.9 728.6,568.8 728.9,574.5 729.1,582.7 729.4,582.1 729.7,584 730,586.2 730.2,586.2 730.5,585.5 730.8,584.3 731.1,587.1 731.4,579.4 731.6,572.4 731.9,575.9 732.2,579.1 732.5,584 732.7,582.1 733,584.9 733.3,584.6 733.6,584 733.8,586 734.1,585.9 734.4,584.7 734.7,579.7 735,569.5 735.2,576 735.5,580.7 735.8,585.8 736.1,586.6 736.3,586.7 736.6,586.6 736.9,585 737.2,588.3 737.5,587.9 737.7,587.7 738,577 738.3,564.8 738.6,571.1 738.8,577.1 739.1,582.5 739.4,584.8 739.7,584.4 740,585.7 740.2,584.5 740.5,589.1 740.8,587 741.1,586.6 741.3,578.2 741.6,563.7 741.9,571.4 742.2,578.1 742.4,584.6 742.7,583.8 743,584.4 743.3,585.7 743.6,587.8 743.8,587.2 744.1,586.6 744.4,587.4 744.7,580.2 744.9,568.3 745.2,573 745.5,579.4 745.8,586.2 746.1,584.8 746.3,583.7 746.6,587.1 746.9,588.8 747.2,586.8 747.4,588.8 747.7,588.7 748,583.5 748.3,579 748.6,582 748.8,582 749.1,588.2 749.4,584.7 749.7,588.2 749.9,586.2 750.2,587.6 750.5,588.3 750.8,589.4 751,588.1 751.3,578.6 751.6,566.8 751.9,570.8 752.2,581.4 752.4,584.7 752.7,586.6 753,585.6 753.3,586.8 753.5,587 753.8,589.6 754.1,588.3 754.4,588.5 754.7,578.2 754.9,569 755.2,572.7 755.5,580.8 755.8,587.2 756,587.1 756.3,588.1 756.6,588.4 756.9,586.1 757.2,588.1 757.4,588.4 757.7,589.8 758,582.4 758.3,575.2 758.5,581.8 758.8,587.4 759.1,590 759.4,592.4 759.6,591.6 759.9,590.3 760.2,593.4 760.5,593.4 760.8,593.6 761,591.3 761.3,591 761.6,589.6 761.9,591.8 762.1,592 762.4,592.1 762.7,593.2 763,594 763.3,594.2 763.5,593.1 763.8,591.5 764.1,595.4 764.4,596.9 764.6,590.6 764.9,589.8 765.2,592.9 765.5,593.7 765.8,596.3 766,594.6 766.3,595.1 766.6,594.2 766.9,596.5 767.1,596.9 767.4,597.2 767.7,597 768,593.8 768.2,595.2 768.5,595.5 768.8,595.7 769.1,597.5 769.4,599.2 769.6,597.6 769.9,598.6 770.2,598.6 770.5,598.9 770.7,600.7 771,598.2 771.3,597.3 771.6,597.6 771.9,597.7 772.1,598.5 772.4,601.1 772.7,604.2 773,603.9 773.2,602 773.5,605 773.8,605.5 774.1,603.8 774.4,605.3 774.6,607.2 774.9,605.2 775.2,607.1 775.5,606.4 775.7,609.4 776,610 776.3,609 776.6,610.1 776.9,614.5 777.1,614.2 777.4,613.8 777.7,614.2 778,605.8 778.2,605 778.5,605.7 778.8,610.5 779.1,613 779.3,615.9 779.6,617 779.9,616.9 780.2,616.4 780.5,618.6 780.7,620.4 781,618.3 781.3,612.3 781.6,605.5 781.8,613 782.1,615 782.4,621.5 782.7,621.5 783,620.6 783.2,622.8 783.5,621.2 783.8,622.1 784.1,623.7 784.3,624.8 784.6,618.7 784.9,607.3 785.2,613.7 785.5,618.8 785.7,623.9 786,626.7 786.3,627.2 786.6,626.7 786.8,626.8 787.1,628.8 787.4,631.9 787.7,631.7 787.9,623 788.2,623.4 788.5,648.2 788.8,662.6 789.1,667.7 789.3,671.9 789.6,672.8 789.9,675 790.2,680.4 790.4,679.5 790.7,682.8 791,681.4 791.3,674.2 791.6,663.9 791.8,666.7 792.1,673.4 792.4,679.9 792.7,678.8 792.9,678.4 793.2,680.8 793.5,677.5 793.8,677.8 794.1,678.7 794.3,680.3 794.6,670.9 794.9,658.1 795.2,664.2 795.4,670.8 795.7,671.5 796,675.3 796.3,673.6 796.5,673.6 796.8,673.6 797.1,673.3 797.4,674 797.7,673.2 797.9,664.7 798.2,655.8 798.5,661.4 798.8,666.8 799,670.5 799.3,669.8 799.6,669.6 799.9,670.4 800.2,670.3 800.4,671.5 800.7,671.5 801,669.3 801.3,666.8 801.5,658 801.8,661 802.1,665.2 802.4,668.8 802.7,669.5 802.9,669.1 803.2,669.2 803.5,669.8 803.8,671.4 804,667.6 804.3,669.2 804.6,662.1 804.9,652.2"/>
</g>
<rect x="275.1" y="524.9" width="530.2" height="232.5" fill="none" stroke="#707070" stroke-width="1.1"/>
<line x1="273.1" x2="275.1" y1="757.4" y2="757.4" stroke="#707070" stroke-width="0.8"/>
<text x="271.3" y="760.5" text-anchor="end" font-family="'Liberation Sans','DejaVu Sans',sans-serif" font-size="9.4" letter-spacing="0" fill="#333">10</text>
<line x1="273.1" x2="275.1" y1="699.3" y2="699.3" stroke="#707070" stroke-width="0.8"/>
<text x="271.3" y="702.4" text-anchor="end" font-family="'Liberation Sans','DejaVu Sans',sans-serif" font-size="9.4" letter-spacing="0" fill="#333">15</text>
<line x1="273.1" x2="275.1" y1="641.1" y2="641.1" stroke="#707070" stroke-width="0.8"/>
<text x="271.3" y="644.3" text-anchor="end" font-family="'Liberation Sans','DejaVu Sans',sans-serif" font-size="9.4" letter-spacing="0" fill="#333">20</text>
<line x1="273.1" x2="275.1" y1="583" y2="583" stroke="#707070" stroke-width="0.8"/>
<text x="271.3" y="586.1" text-anchor="end" font-family="'Liberation Sans','DejaVu Sans',sans-serif" font-size="9.4" letter-spacing="0" fill="#333">25</text>
<line x1="273.1" x2="275.1" y1="524.9" y2="524.9" stroke="#707070" stroke-width="0.8"/>
<text x="271.3" y="528" text-anchor="end" font-family="'Liberation Sans','DejaVu Sans',sans-serif" font-size="9.4" letter-spacing="0" fill="#333">30</text>
<line x1="302.8" x2="302.8" y1="757.4" y2="759.4" stroke="#707070" stroke-width="0.8"/>
<text transform="translate(302 767.6) rotate(-33)" text-anchor="end" font-family="'Liberation Sans','DejaVu Sans',sans-serif" font-size="8.3" fill="#2a2a2a" stroke="#2a2a2a" stroke-width="0.2">200</text>
<line x1="330.6" x2="330.6" y1="757.4" y2="759.4" stroke="#707070" stroke-width="0.8"/>
<text transform="translate(329.8 767.6) rotate(-33)" text-anchor="end" font-family="'Liberation Sans','DejaVu Sans',sans-serif" font-size="8.3" fill="#2a2a2a" stroke="#2a2a2a" stroke-width="0.2">400</text>
<line x1="358.3" x2="358.3" y1="757.4" y2="759.4" stroke="#707070" stroke-width="0.8"/>
<text transform="translate(357.5 767.6) rotate(-33)" text-anchor="end" font-family="'Liberation Sans','DejaVu Sans',sans-serif" font-size="8.3" fill="#2a2a2a" stroke="#2a2a2a" stroke-width="0.2">600</text>
<line x1="386.1" x2="386.1" y1="757.4" y2="759.4" stroke="#707070" stroke-width="0.8"/>
<text transform="translate(385.3 767.6) rotate(-33)" text-anchor="end" font-family="'Liberation Sans','DejaVu Sans',sans-serif" font-size="8.3" fill="#2a2a2a" stroke="#2a2a2a" stroke-width="0.2">800</text>
<line x1="413.8" x2="413.8" y1="757.4" y2="759.4" stroke="#707070" stroke-width="0.8"/>
<text transform="translate(413 767.6) rotate(-33)" text-anchor="end" font-family="'Liberation Sans','DejaVu Sans',sans-serif" font-size="8.3" fill="#2a2a2a" stroke="#2a2a2a" stroke-width="0.2">1000</text>
<line x1="441.6" x2="441.6" y1="757.4" y2="759.4" stroke="#707070" stroke-width="0.8"/>
<text transform="translate(440.8 767.6) rotate(-33)" text-anchor="end" font-family="'Liberation Sans','DejaVu Sans',sans-serif" font-size="8.3" fill="#2a2a2a" stroke="#2a2a2a" stroke-width="0.2">1200</text>
<line x1="469.3" x2="469.3" y1="757.4" y2="759.4" stroke="#707070" stroke-width="0.8"/>
<text transform="translate(468.5 767.6) rotate(-33)" text-anchor="end" font-family="'Liberation Sans','DejaVu Sans',sans-serif" font-size="8.3" fill="#2a2a2a" stroke="#2a2a2a" stroke-width="0.2">1400</text>
<line x1="497.1" x2="497.1" y1="757.4" y2="759.4" stroke="#707070" stroke-width="0.8"/>
<text transform="translate(496.3 767.6) rotate(-33)" text-anchor="end" font-family="'Liberation Sans','DejaVu Sans',sans-serif" font-size="8.3" fill="#2a2a2a" stroke="#2a2a2a" stroke-width="0.2">1600</text>
<line x1="524.8" x2="524.8" y1="757.4" y2="759.4" stroke="#707070" stroke-width="0.8"/>
<text transform="translate(524 767.6) rotate(-33)" text-anchor="end" font-family="'Liberation Sans','DejaVu Sans',sans-serif" font-size="8.3" fill="#2a2a2a" stroke="#2a2a2a" stroke-width="0.2">1800</text>
<line x1="552.5" x2="552.5" y1="757.4" y2="759.4" stroke="#707070" stroke-width="0.8"/>
<text transform="translate(551.7 767.6) rotate(-33)" text-anchor="end" font-family="'Liberation Sans','DejaVu Sans',sans-serif" font-size="8.3" fill="#2a2a2a" stroke="#2a2a2a" stroke-width="0.2">2000</text>
<line x1="580.3" x2="580.3" y1="757.4" y2="759.4" stroke="#707070" stroke-width="0.8"/>
<text transform="translate(579.5 767.6) rotate(-33)" text-anchor="end" font-family="'Liberation Sans','DejaVu Sans',sans-serif" font-size="8.3" fill="#2a2a2a" stroke="#2a2a2a" stroke-width="0.2">2200</text>
<line x1="608" x2="608" y1="757.4" y2="759.4" stroke="#707070" stroke-width="0.8"/>
<text transform="translate(607.2 767.6) rotate(-33)" text-anchor="end" font-family="'Liberation Sans','DejaVu Sans',sans-serif" font-size="8.3" fill="#2a2a2a" stroke="#2a2a2a" stroke-width="0.2">2400</text>
<line x1="635.8" x2="635.8" y1="757.4" y2="759.4" stroke="#707070" stroke-width="0.8"/>
<text transform="translate(635 767.6) rotate(-33)" text-anchor="end" font-family="'Liberation Sans','DejaVu Sans',sans-serif" font-size="8.3" fill="#2a2a2a" stroke="#2a2a2a" stroke-width="0.2">2600</text>
<line x1="663.5" x2="663.5" y1="757.4" y2="759.4" stroke="#707070" stroke-width="0.8"/>
<text transform="translate(662.7 767.6) rotate(-33)" text-anchor="end" font-family="'Liberation Sans','DejaVu Sans',sans-serif" font-size="8.3" fill="#2a2a2a" stroke="#2a2a2a" stroke-width="0.2">2800</text>
<line x1="691.3" x2="691.3" y1="757.4" y2="759.4" stroke="#707070" stroke-width="0.8"/>
<text transform="translate(690.5 767.6) rotate(-33)" text-anchor="end" font-family="'Liberation Sans','DejaVu Sans',sans-serif" font-size="8.3" fill="#2a2a2a" stroke="#2a2a2a" stroke-width="0.2">3000</text>
<line x1="719" x2="719" y1="757.4" y2="759.4" stroke="#707070" stroke-width="0.8"/>
<text transform="translate(718.2 767.6) rotate(-33)" text-anchor="end" font-family="'Liberation Sans','DejaVu Sans',sans-serif" font-size="8.3" fill="#2a2a2a" stroke="#2a2a2a" stroke-width="0.2">3200</text>
<line x1="746.7" x2="746.7" y1="757.4" y2="759.4" stroke="#707070" stroke-width="0.8"/>
<text transform="translate(745.9 767.6) rotate(-33)" text-anchor="end" font-family="'Liberation Sans','DejaVu Sans',sans-serif" font-size="8.3" fill="#2a2a2a" stroke="#2a2a2a" stroke-width="0.2">3400</text>
<line x1="774.5" x2="774.5" y1="757.4" y2="759.4" stroke="#707070" stroke-width="0.8"/>
<text transform="translate(773.7 767.6) rotate(-33)" text-anchor="end" font-family="'Liberation Sans','DejaVu Sans',sans-serif" font-size="8.3" fill="#2a2a2a" stroke="#2a2a2a" stroke-width="0.2">3600</text>
<line x1="802.2" x2="802.2" y1="757.4" y2="759.4" stroke="#707070" stroke-width="0.8"/>
<text transform="translate(801.4 767.6) rotate(-33)" text-anchor="end" font-family="'Liberation Sans','DejaVu Sans',sans-serif" font-size="8.3" fill="#2a2a2a" stroke="#2a2a2a" stroke-width="0.2">3800</text>
<text x="539.5" y="788.7" text-anchor="middle" font-family="'Liberation Sans','DejaVu Sans',sans-serif" font-size="11.3" letter-spacing="0.4" fill="#222">hour</text>
<text transform="translate(258 641) rotate(-90) scale(0.86,1)" text-anchor="middle" font-family="'Liberation Mono','DejaVu Sans Mono',monospace" font-size="11.7" letter-spacing="0" fill="#1e1e1e" stroke="#1e1e1e" stroke-width="0.15">temperature/<tspan font-family="'Liberation Sans','DejaVu Sans',sans-serif" font-size="12" dx="-0.5">°C</tspan></text>
<rect x="698" y="528.8" width="101.7" height="26.9" rx="1.5" fill="#fff" fill-opacity="0.8" stroke="#dcdcdc" stroke-width="0.8"/>
<line x1="701.2" x2="720.5" y1="536.1" y2="536.1" stroke="#2a93b5" stroke-width="1.1"/>
<text transform="translate(726.3 538.6) scale(0.9,1)" font-family="'Liberation Mono','DejaVu Sans Mono',monospace" font-size="8.6" letter-spacing="0" fill="#1e1e1e" stroke="#1e1e1e" stroke-width="0.12">measured value</text>
<line x1="701.2" x2="720.5" y1="547.9" y2="547.9" stroke="#f8ae6d" stroke-width="1.1"/>
<text transform="translate(726.3 550.4) scale(0.9,1)" font-family="'Liberation Mono','DejaVu Sans Mono',monospace" font-size="8.6" letter-spacing="0" fill="#1e1e1e" stroke="#1e1e1e" stroke-width="0.12">predicted value</text>
<text x="526.5" y="815.3" text-anchor="middle" font-family="'DejaVu Serif','Liberation Serif',serif" font-size="10.4px" fill="#1a1a1a" letter-spacing="0"><tspan font-weight="bold">Fig. 18.</tspan><tspan dx="4">Temperature prediction of master bedroom of Strategy 2.</tspan></text>
</g>
<g>
<clipPath id="c4"><rect x="915.8" y="529.5" width="475.7" height="208.8"/></clipPath>
<g clip-path="url(#c4)">
<polyline fill="none" stroke="#2a93b5" stroke-width="0.95" stroke-linejoin="round" opacity="0.92" points="915.9,630 916.2,627.4 916.4,625 916.7,620.9 916.9,618.3 917.2,618.4 917.4,617.1 917.7,615.6 917.9,615.5 918.2,614 918.4,611.5 918.7,612.7 918.9,609.5 919.2,606.9 919.4,608.6 919.7,605.8 919.9,606.5 920.2,606.4 920.4,604.2 920.7,604.3 920.9,603.9 921.2,603.6 921.4,603.2 921.7,602.2 921.9,600.7 922.1,598.5 922.4,599.5 922.6,598.7 922.9,599.3 923.1,598 923.4,598.2 923.6,596.4 923.9,597 924.1,599 924.4,606.9 924.6,626 924.9,622.9 925.1,622.2 925.4,620.6 925.6,619.9 925.9,620.6 926.1,619.1 926.4,617.7 926.6,617.8 926.9,612 927.1,614 927.4,614.8 927.6,614 927.9,610.7 928.1,609.4 928.4,610 928.6,609.5 928.9,607 929.1,606.5 929.4,604.6 929.6,604.4 929.9,602.8 930.1,605.5 930.4,602.5 930.6,603.6 930.9,602.8 931.1,599.8 931.4,602.7 931.6,600.7 931.9,600.9 932.1,599 932.4,601.8 932.6,599.8 932.9,599.7 933.1,600.1 933.4,600 933.6,600.2 933.8,600.9 934.1,599 934.3,600.8 934.6,598.2 934.8,598.5 935.1,600.9 935.3,598.1 935.6,599.5 935.8,601.2 936.1,601 936.3,610.2 936.6,621.4 936.8,619.8 937.1,614.7 937.3,617.5 937.6,619.7 937.8,622.3 938.1,620.7 938.3,620.6 938.6,622.9 938.8,622.4 939.1,622.6 939.3,622.4 939.6,624 939.8,617.6 940.1,615.6 940.3,617.1 940.6,620.6 940.8,620.1 941.1,622.2 941.3,624.8 941.6,622.1 941.8,623.5 942.1,624.9 942.3,624.1 942.6,625.3 942.8,622.4 943.1,621 943.3,624 943.6,622.9 943.8,623.4 944.1,627.3 944.3,623.5 944.6,624.4 944.8,624.4 945.1,624 945.3,625.7 945.5,626.8 945.8,624.1 946,622.8 946.3,623.3 946.5,627.3 946.8,626.4 947,623.5 947.3,626.1 947.5,625.7 947.8,626.6 948,627.6 948.3,626.6 948.5,627 948.8,627.1 949,625.7 949.3,625.7 949.5,628.2 949.8,629.1 950,627.3 950.3,627.5 950.5,629.2 950.8,627.6 951,628.6 951.3,629.3 951.5,630.5 951.8,626.7 952,625.1 952.3,626.5 952.5,628.9 952.8,628.7 953,630.1 953.3,630.5 953.5,630.2 953.8,628.6 954,630.4 954.3,633.4 954.5,632.1 954.8,630.2 955,628.7 955.3,630.6 955.5,629.2 955.8,631.6 956,631.7 956.3,632.5 956.5,632.3 956.8,632.9 957,633.5 957.2,634.2 957.5,635.2 957.7,632.3 958,628.3 958.2,631.1 958.5,631.8 958.7,634.9 959,633.5 959.2,636 959.5,634.5 959.7,633.8 960,634.5 960.2,636.3 960.5,634.6 960.7,633.8 961,630.6 961.2,632.7 961.5,636.2 961.7,635.3 962,635.8 962.2,635.7 962.5,637.8 962.7,636.2 963,637.9 963.2,638.8 963.5,638.9 963.7,635.5 964,633.5 964.2,633.1 964.5,635.5 964.7,636.6 965,638.2 965.2,639.4 965.5,640.2 965.7,638.9 966,637.2 966.2,637.1 966.5,640.1 966.7,634.1 967,628.8 967.2,632.7 967.5,633.9 967.7,636.7 968,635.8 968.2,635.7 968.5,636.2 968.7,636 968.9,636.6 969.2,635.7 969.4,639.1 969.7,632.5 969.9,628.5 970.2,632.4 970.4,632.7 970.7,633.3 970.9,634.5 971.2,634.4 971.4,633.7 971.7,632.8 971.9,634.9 972.2,633.2 972.4,632.9 972.7,632.5 972.9,628.1 973.2,628 973.4,630.7 973.7,632 973.9,630.3 974.2,632.3 974.4,631.8 974.7,630.2 974.9,629.7 975.2,632.6 975.4,631.6 975.7,629.3 975.9,626.6 976.2,628.2 976.4,630 976.7,629.3 976.9,632.4 977.2,629.8 977.4,629.1 977.7,628.6 977.9,629.2 978.2,631.2 978.4,628.8 978.7,627.3 978.9,623.4 979.2,623.8 979.4,629.2 979.7,626.8 979.9,628.4 980.2,628.7 980.4,630 980.6,629.3 980.9,629.7 981.1,630.3 981.4,632.4 981.6,627.4 981.9,624 982.1,625.3 982.4,627.8 982.6,629.9 982.9,630.2 983.1,632.2 983.4,632.8 983.6,631.2 983.9,632.1 984.1,631.1 984.4,633.1 984.6,631.1 984.9,628.1 985.1,629.8 985.4,631.7 985.6,631.2 985.9,631.6 986.1,633.1 986.4,632.9 986.6,632.2 986.9,632.7 987.1,632.9 987.4,633.4 987.6,633.6 987.9,627.7 988.1,629.3 988.4,631.2 988.6,634.4 988.9,633.1 989.1,632.9 989.4,633.3 989.6,633.4 989.9,635.8 990.1,633 990.4,633.2 990.6,630.6 990.9,626.6 991.1,629 991.4,629.1 991.6,633.1 991.9,630.9 992.1,631.7 992.3,629.8 992.6,631.7 992.8,631.5 993.1,631.5 993.3,630.2 993.6,630.3 993.8,627.1 994.1,627.6 994.3,628.9 994.6,629.6 994.8,630.7 995.1,628.4 995.3,629.8 995.6,632.1 995.8,630.2 996.1,632.6 996.3,631.5 996.6,629.3 996.8,627.9 997.1,629.8 997.3,630.4 997.6,631.7 997.8,632.4 998.1,632.6 998.3,634.7 998.6,633.7 998.8,635 999.1,634.2 999.3,635.8 999.6,632.2 999.8,628.3 1000.1,630.3 1000.3,632.6 1000.6,634.8 1000.8,634.5 1001.1,636.5 1001.3,634.3 1001.6,636.7 1001.8,637.6 1002.1,636.9 1002.3,638 1002.6,637.4 1002.8,635.6 1003.1,638 1003.3,636.3 1003.6,639.4 1003.8,638.8 1004,637.1 1004.3,637.1 1004.5,638 1004.8,640 1005,639 1005.3,639.3 1005.5,636.5 1005.8,632.8 1006,633.9 1006.3,635.2 1006.5,637.6 1006.8,638.9 1007,638.2 1007.3,638.1 1007.5,637.7 1007.8,639.4 1008,639.4 1008.3,639.8 1008.5,636.3 1008.8,629.8 1009,633.4 1009.3,634.5 1009.5,637 1009.8,638.1 1010,638.1 1010.3,639 1010.5,638.6 1010.8,638.9 1011,638.1 1011.3,640 1011.5,636.6 1011.8,634.7 1012,636.3 1012.3,639.1 1012.5,640.1 1012.8,639.3 1013,639.2 1013.3,640.8 1013.5,637.8 1013.8,639.6 1014,640 1014.3,639.5 1014.5,638.8 1014.8,637.7 1015,637 1015.3,639 1015.5,639.4 1015.7,639.2 1016,640.9 1016.2,640 1016.5,638.2 1016.7,637.6 1017,639.1 1017.2,638.8 1017.5,635.8 1017.7,632.4 1018,631.5 1018.2,634 1018.5,637.9 1018.7,637.5 1019,636 1019.2,636.5 1019.5,636.1 1019.7,636.4 1020,637.9 1020.2,638.3 1020.5,635.5 1020.7,630.9 1021,631.4 1021.2,634.2 1021.5,633.1 1021.7,636.9 1022,635.5 1022.2,634.1 1022.5,633.2 1022.7,636.1 1023,634.8 1023.2,634.4 1023.5,634.2 1023.7,627.6 1024,630 1024.2,632.2 1024.5,632.4 1024.7,633.3 1025,634.1 1025.2,631.9 1025.5,633.9 1025.7,631.9 1026,635.6 1026.2,632.1 1026.5,632 1026.7,629.7 1027,630.3 1027.2,630 1027.4,632.4 1027.7,631.5 1027.9,631.5 1028.2,630.5 1028.4,630.8 1028.7,630.4 1028.9,630.1 1029.2,632.1 1029.4,628.5 1029.7,625.6 1029.9,626.4 1030.2,625 1030.4,627.7 1030.7,627 1030.9,628.7 1031.2,627.2 1031.4,626.1 1031.7,628.3 1031.9,628.3 1032.2,629.1 1032.4,656.7 1032.7,709.1 1032.9,709.1 1033.2,709.1 1033.4,688.2 1033.7,689.5 1033.9,690.1 1034.2,691 1034.4,690.2 1034.7,693 1034.9,692.2 1035.2,692.2 1035.4,692.6 1035.7,689.7 1035.9,690.9 1036.2,690.9 1036.4,694.9 1036.7,693.7 1036.9,696.3 1037.2,694.5 1037.4,697.3 1037.7,696.5 1037.9,695.2 1038.2,697.9 1038.4,694.9 1038.7,694.5 1038.9,695.2 1039.1,697.6 1039.4,700.9 1039.6,701.2 1039.9,703.3 1040.1,703.4 1040.4,704.6 1040.6,705.2 1040.9,703.1 1041.1,704.9 1041.4,701.9 1041.6,698.1 1041.9,700.2 1042.1,703.3 1042.4,704.1 1042.6,704.7 1042.9,704.2 1043.1,702.6 1043.4,702.9 1043.6,705.3 1043.9,706.3 1044.1,704 1044.4,705.7 1044.6,700.5 1044.9,704.8 1045.1,703.2 1045.4,704.6 1045.6,705.5 1045.9,706.4 1046.1,704.8 1046.4,705.1 1046.6,705.5 1046.9,703.3 1047.1,725.8 1047.4,725.8 1047.6,696.5 1047.9,697 1048.1,703.2 1048.4,704.8 1048.6,705.3 1048.9,704.7 1049.1,704.3 1049.4,706.1 1049.6,705.7 1049.9,706.6 1050.1,705.6 1050.4,704.1 1050.6,700.8 1050.8,702.8 1051.1,703.7 1051.3,706.9 1051.6,705.9 1051.8,705.8 1052.1,705.3 1052.3,706.7 1052.6,706.2 1052.8,704.6 1053.1,705 1053.3,704.5 1053.6,701.9 1053.8,702.8 1054.1,702.9 1054.3,704 1054.6,704.5 1054.8,703.2 1055.1,704.7 1055.3,708 1055.6,708 1055.8,701.6 1056.1,703.8 1056.3,700.1 1056.6,696.2 1056.8,697.9 1057.1,699 1057.3,700.2 1057.6,699.3 1057.8,703.8 1058.1,703.8 1058.3,696.4 1058.6,693 1058.8,693.2 1059.1,691.9 1059.3,686.9 1059.6,685.2 1059.8,685.2 1060.1,684.6 1060.3,684.2 1060.6,682.1 1060.8,682.2 1061.1,682.8 1061.3,680.5 1061.6,681.1 1061.8,680.4 1062.1,680.3 1062.3,676.6 1062.6,670.5 1062.8,672.9 1063,675.6 1063.3,675.8 1063.5,672.9 1063.8,674 1064,674.6 1064.3,672.3 1064.5,669.4 1064.8,671.4 1065,668.1 1065.3,666.1 1065.5,664.3 1065.8,663.6 1066,663.5 1066.3,666.9 1066.5,668.5 1066.8,666.6 1067,665.4 1067.3,668.2 1067.5,666.2 1067.8,665.8 1068,664.8 1068.3,663.4 1068.5,660.4 1068.8,660.1 1069,661.7 1069.3,663.3 1069.5,663.5 1069.8,661.8 1070,663 1070.3,659.9 1070.5,662.3 1070.8,660.4 1071,660.3 1071.3,658.1 1071.5,655.3 1071.8,655.2 1072,657.5 1072.3,659.7 1072.5,658.4 1072.8,657.8 1073,659.8 1073.3,656.6 1073.5,659.5 1073.8,657 1074,657.1 1074.3,656.1 1074.5,651.3 1074.7,653.3 1075,652.9 1075.2,655 1075.5,653.8 1075.7,653.4 1076,652.4 1076.2,654.2 1076.5,651.2 1076.7,654.9 1077,653.7 1077.2,648.5 1077.5,644.3 1077.7,646.7 1078,646.8 1078.2,651.1 1078.5,649.9 1078.7,648 1079,647.5 1079.2,648.9 1079.5,647.6 1079.7,647.3 1080,647.4 1080.2,643.2 1080.5,637.7 1080.7,640.9 1081,640.5 1081.2,644 1081.5,644.5 1081.7,644.3 1082,643.2 1082.2,643 1082.5,643.8 1082.7,644.8 1083,642.7 1083.2,640.9 1083.5,638.4 1083.7,636.7 1084,637.5 1084.2,640.4 1084.5,640.6 1084.7,640.4 1085,640.4 1085.2,640.3 1085.5,640.5 1085.7,640.3 1086,639.8 1086.2,635.7 1086.4,631.1 1086.7,632.5 1086.9,635.8 1087.2,635.7 1087.4,637.1 1087.7,637 1087.9,635.2 1088.2,637.3 1088.4,635.4 1088.7,637.2 1088.9,635.4 1089.2,630.9 1089.4,626.6 1089.7,630.2 1089.9,631.7 1090.2,630.5 1090.4,631.4 1090.7,630.2 1090.9,633.1 1091.2,629.7 1091.4,630.6 1091.7,632.1 1091.9,630.5 1092.2,626.5 1092.4,624.4 1092.7,627.4 1092.9,628.9 1093.2,627 1093.4,628.3 1093.7,628.7 1093.9,628.2 1094.2,628.2 1094.4,628.8 1094.7,627.3 1094.9,626.6 1095.2,626 1095.4,620.4 1095.7,623.4 1095.9,623.3 1096.2,623.7 1096.4,623.5 1096.7,622.6 1096.9,625.8 1097.2,625.9 1097.4,625.3 1097.7,624 1097.9,622.8 1098.1,622 1098.4,619 1098.6,619.4 1098.9,620.6 1099.1,618.7 1099.4,621.9 1099.6,619.5 1099.9,619.6 1100.1,622.7 1100.4,623.4 1100.6,623.9 1100.9,625.1 1101.1,624.6 1101.4,624.7 1101.6,624 1101.9,624.6 1102.1,627.4 1102.4,626.3 1102.6,628.3 1102.9,629.4 1103.1,629.3 1103.4,630.6 1103.6,629.3 1103.9,630.4 1104.1,628.7 1104.4,626.8 1104.6,631.4 1104.9,633 1105.1,634.9 1105.4,633.8 1105.6,637.4 1105.9,636.1 1106.1,640.4 1106.4,639.3 1106.6,639.3 1106.9,637.9 1107.1,633.4 1107.4,628.8 1107.6,631.3 1107.9,636 1108.1,639.2 1108.4,636.3 1108.6,634.7 1108.9,636.7 1109.1,638.5 1109.4,650.6 1109.6,650.6 1109.8,650.6 1110.1,633.7 1110.3,625.4 1110.6,629.8 1110.8,632.4 1111.1,638 1111.3,637.1 1111.6,637.9 1111.8,636.4 1112.1,671.5 1112.3,671.5 1112.6,671.5 1112.8,636.3 1113.1,634.8 1113.3,629.8 1113.6,629.5 1113.8,632.9 1114.1,636.6 1114.3,636.2 1114.6,638.5 1114.8,638.1 1115.1,676.7 1115.3,676.7 1115.6,676.7 1115.8,639.6 1116.1,635.3 1116.3,630.9 1116.6,633.1 1116.8,633 1117.1,637.3 1117.3,637.2 1117.6,636.4 1117.8,638.1 1118.1,637.3 1118.3,681.9 1118.6,681.9 1118.8,681.9 1119.1,634.3 1119.3,626.7 1119.6,630.9 1119.8,633.2 1120.1,635.9 1120.3,637.6 1120.6,638.8 1120.8,639 1121.1,638.1 1121.3,643.8 1121.5,656.1 1121.8,664.1 1122,657.7 1122.3,652.4 1122.5,655.5 1122.8,658.5 1123,662.5 1123.3,661.4 1123.5,660.9 1123.8,661.3 1124,662.4 1124.3,662.5 1124.5,661.5 1124.8,661.4 1125,659.2 1125.3,657.9 1125.5,656.9 1125.8,658 1126,658.4 1126.3,659.4 1126.5,657.2 1126.8,657.5 1127,656.3 1127.3,657.7 1127.5,655.7 1127.8,655.5 1128,653.4 1128.3,649.5 1128.5,651.2 1128.8,651 1129,651.5 1129.3,650.9 1129.5,649.9 1129.8,648.9 1130,650.2 1130.3,648.3 1130.5,650.7 1130.8,649.1 1131,642.9 1131.3,640.9 1131.5,642.8 1131.8,641.1 1132,645.8 1132.3,644.7 1132.5,645.3 1132.8,643.3 1133,644.2 1133.2,645.1 1133.5,644.2 1133.7,643.1 1134,637.9 1134.2,633.6 1134.5,634.9 1134.7,637 1135,639.5 1135.2,636.6 1135.5,638.9 1135.7,637.5 1136,638.3 1136.2,637.7 1136.5,637.3 1136.7,637.7 1137,633.4 1137.2,631.6 1137.5,631.2 1137.7,631.7 1138,633 1138.2,633.1 1138.5,632.4 1138.7,633.2 1139,631.8 1139.2,634 1139.5,632.4 1139.7,630.3 1140,629.3 1140.2,623.3 1140.5,624.6 1140.7,627.2 1141,629.8 1141.2,627.8 1141.5,626.5 1141.7,627.2 1142,630.2 1142.2,626.6 1142.5,629.1 1142.7,626.8 1143,626.2 1143.2,622.9 1143.5,623.1 1143.7,626.7 1144,625.2 1144.2,626.5 1144.5,625.7 1144.7,626.4 1144.9,626.5 1145.2,627.5 1145.4,626.2 1145.7,625 1145.9,623.5 1146.2,617.6 1146.4,621.1 1146.7,626 1146.9,627.1 1147.2,627.5 1147.4,628.9 1147.7,629.3 1147.9,629.5 1148.2,631.8 1148.4,631.8 1148.7,632.7 1148.9,630.7 1149.2,625.8 1149.4,627.7 1149.7,628.2 1149.9,627.8 1150.2,630.3 1150.4,627 1150.7,626.7 1150.9,626.5 1151.2,625.5 1151.4,625.2 1151.7,624.6 1151.9,624 1152.2,619.6 1152.4,619.6 1152.7,620.7 1152.9,621.1 1153.2,621.6 1153.4,618.3 1153.7,619.6 1153.9,618.3 1154.2,617.6 1154.4,618.6 1154.7,618.1 1154.9,614.9 1155.2,608.9 1155.4,609.3 1155.7,611.3 1155.9,614.7 1156.2,611.7 1156.4,611.1 1156.6,611.6 1156.9,613.1 1157.1,612.9 1157.4,611.2 1157.6,611.6 1157.9,607.6 1158.1,604.3 1158.4,604.5 1158.6,605.2 1158.9,605.3 1159.1,604.7 1159.4,605.1 1159.6,605.6 1159.9,602.3 1160.1,602.1 1160.4,606 1160.6,602.2 1160.9,601.2 1161.1,599.7 1161.4,598.3 1161.6,601.5 1161.9,601.6 1162.1,601.1 1162.4,599.5 1162.6,601.3 1162.9,600.2 1163.1,600.7 1163.4,599.5 1163.6,598.1 1163.9,595.2 1164.1,592.6 1164.4,594.1 1164.6,597.2 1164.9,595.8 1165.1,597.1 1165.4,595.9 1165.6,597.1 1165.9,597.4 1166.1,597.7 1166.4,599.4 1166.6,597 1166.9,594.2 1167.1,592.2 1167.4,592.8 1167.6,594.9 1167.9,597.3 1168.1,597.6 1168.3,598.3 1168.6,598 1168.8,595.9 1169.1,596.3 1169.3,597.2 1169.6,596.2 1169.8,594.9 1170.1,592.6 1170.3,593.1 1170.6,595.3 1170.8,596.7 1171.1,605.4 1171.3,626 1171.6,632.7 1171.8,633.1 1172.1,633.7 1172.3,631.8 1172.6,633.3 1172.8,632.6 1173.1,630.3 1173.3,629.3 1173.6,630 1173.8,630.2 1174.1,626.3 1174.3,626.4 1174.6,626.2 1174.8,624.1 1175.1,621.8 1175.3,621.8 1175.6,622 1175.8,614.7 1176.1,611.5 1176.3,615.2 1176.6,613.3 1176.8,613.9 1177.1,614.5 1177.3,613.1 1177.6,612.7 1177.8,610.7 1178.1,608.6 1178.3,609.5 1178.6,609.2 1178.8,604.2 1179.1,602.3 1179.3,603.6 1179.6,603.9 1179.8,604.1 1180,602.1 1180.3,601 1180.5,600.1 1180.8,599.4 1181,601.4 1181.3,598.5 1181.5,599.8 1181.8,595.9 1182,593.2 1182.3,594.5 1182.5,594.7 1182.8,595 1183,593.5 1183.3,593 1183.5,590.8 1183.8,591.7 1184,590.8 1184.3,590.4 1184.5,590.3 1184.8,588.1 1185,588.9 1185.3,588 1185.5,589.1 1185.8,588.7 1186,590.1 1186.3,589.5 1186.5,587 1186.8,587.3 1187,586.7 1187.3,587.5 1187.5,588.1 1187.8,584 1188,580.3 1188.3,584 1188.5,586.8 1188.8,586.5 1189,615.4 1189.3,631.3 1189.5,630.2 1189.8,627.6 1190,626.1 1190.3,625 1190.5,626.3 1190.8,621.5 1191,617.4 1191.3,619.4 1191.5,620.1 1191.7,619.8 1192,620.9 1192.2,619.8 1192.5,618.5 1192.7,618.5 1193,618.2 1193.2,616.7 1193.5,614.6 1193.7,613 1194,611.2 1194.2,611 1194.5,612.9 1194.7,613 1195,613.3 1195.2,614.4 1195.5,613.5 1195.7,612.4 1196,612.2 1196.2,612.6 1196.5,611.6 1196.7,609.9 1197,605.6 1197.2,606.9 1197.5,610.3 1197.7,608.9 1198,610 1198.2,609.1 1198.5,609.9 1198.7,607.9 1199,608.7 1199.2,608.8 1199.5,606.9 1199.7,606.9 1200,605.9 1200.2,603.4 1200.5,605.9 1200.7,607 1201,606 1201.2,604.1 1201.5,604.7 1201.7,605.8 1202,604.6 1202.2,601.8 1202.5,603.2 1202.7,600.5 1203,599.3 1203.2,600 1203.5,598.7 1203.7,602.1 1203.9,601 1204.2,600.3 1204.4,600.2 1204.7,600.9 1204.9,599.5 1205.2,600.7 1205.4,601.2 1205.7,597.8 1205.9,596 1206.2,597.3 1206.4,597.4 1206.7,599.2 1206.9,597.2 1207.2,596.2 1207.4,599 1207.7,597.8 1207.9,597.2 1208.2,597.6 1208.4,595.8 1208.7,593.1 1208.9,592.7 1209.2,591.8 1209.4,593.5 1209.7,593.6 1209.9,594.2 1210.2,593.1 1210.4,594.2 1210.7,591.5 1210.9,593.7 1211.2,593.3 1211.4,591.8 1211.7,590.9 1211.9,587 1212.2,587.8 1212.4,589 1212.7,591.7 1212.9,589.7 1213.2,589.2 1213.4,589.1 1213.7,589 1213.9,589.3 1214.2,588.8 1214.4,587.6 1214.7,586.1 1214.9,585.1 1215.2,584.4 1215.4,584.4 1215.6,584.8 1215.9,585.8 1216.1,583.1 1216.4,586.7 1216.6,584.3 1216.9,584.4 1217.1,584.4 1217.4,584.2 1217.6,583 1217.9,580.1 1218.1,581.1 1218.4,581.8 1218.6,582.2 1218.9,582.1 1219.1,580.7 1219.4,579.8 1219.6,581 1219.9,580.2 1220.1,578.6 1220.4,581 1220.6,577.7 1220.9,576.8 1221.1,576.8 1221.4,577.3 1221.6,577.3 1221.9,579.5 1222.1,578 1222.4,579.1 1222.6,577.6 1222.9,580 1223.1,577.7 1223.4,577.1 1223.6,575 1223.9,573.8 1224.1,576 1224.4,577.7 1224.6,577 1224.9,577.4 1225.1,579.7 1225.4,579.3 1225.6,577.4 1225.9,578.1 1226.1,579.6 1226.4,579.2 1226.6,577 1226.9,573.4 1227.1,574.4 1227.3,575.5 1227.6,577.1 1227.8,577.1 1228.1,577.4 1228.3,575.4 1228.6,578.6 1228.8,576.4 1229.1,576.3 1229.3,576.9 1229.6,577.5 1229.8,572.7 1230.1,574 1230.3,576 1230.6,576.9 1230.8,576.7 1231.1,575.8 1231.3,577.1 1231.6,576 1231.8,577.6 1232.1,574.5 1232.3,578.2 1232.6,575.6 1232.8,575.2 1233.1,575.8 1233.3,575 1233.6,574.6 1233.8,576.7 1234.1,575.5 1234.3,576.4 1234.6,575.1 1234.8,578.6 1235.1,575.3 1235.3,576.3 1235.6,573.9 1235.8,571.4 1236.1,574 1236.3,572.7 1236.6,574.4 1236.8,575.7 1237.1,575.5 1237.3,575.7 1237.6,577.6 1237.8,575.9 1238.1,575.5 1238.3,576.4 1238.6,576 1238.8,577 1239,576.6 1239.3,578.2 1239.5,577.8 1239.8,577.1 1240,574.5 1240.3,578 1240.5,578 1240.8,578.7 1241,578.8 1241.3,577.5 1241.5,577.4 1241.8,574.5 1242,575.3 1242.3,578.4 1242.5,576.4 1242.8,579.5 1243,579.1 1243.3,578.2 1243.5,580.3 1243.8,583.2 1244,580.2 1244.3,579.9 1244.5,578.8 1244.8,575.5 1245,577.8 1245.3,577.6 1245.5,579 1245.8,580.9 1246,580.1 1246.3,582.1 1246.5,581.3 1246.8,581.2 1247,583.6 1247.3,582.5 1247.5,584.8 1247.8,583.6 1248,584.3 1248.3,582.4 1248.5,584.7 1248.8,582.2 1249,585.1 1249.3,584.9 1249.5,585.8 1249.8,584.6 1250,585.4 1250.3,585.3 1250.5,583.1 1250.7,581.6 1251,583.6 1251.2,585.4 1251.5,585.3 1251.7,583.8 1252,584.7 1252.2,586.1 1252.5,587.1 1252.7,585.8 1253,586.8 1253.2,587.9 1253.5,585.1 1253.7,582 1254,584.5 1254.2,585.5 1254.5,587.8 1254.7,587.4 1255,588.3 1255.2,589.8 1255.5,588.3 1255.7,587 1256,590.5 1256.2,589.1 1256.5,588.2 1256.7,584.3 1257,583.3 1257.2,586.2 1257.5,589.2 1257.7,589.2 1258,588.9 1258.2,587.6 1258.5,588.5 1258.7,589.1 1259,587.6 1259.2,590 1259.5,586.6 1259.7,582 1260,584.8 1260.2,585.4 1260.5,587.1 1260.7,586.9 1261,587.1 1261.2,586.7 1261.5,587 1261.7,588.4 1262,585.3 1262.2,586.1 1262.4,582.1 1262.7,580.2 1262.9,581 1263.2,581.3 1263.4,581.9 1263.7,583.6 1263.9,581.6 1264.2,580.8 1264.4,582 1264.7,583.8 1264.9,582.6 1265.2,582.1 1265.4,580.3 1265.7,577.5 1265.9,576.3 1266.2,579.3 1266.4,580.5 1266.7,579.4 1266.9,580.9 1267.2,577.8 1267.4,579.6 1267.7,579.3 1267.9,581 1268.2,580.4 1268.4,577.1 1268.7,575.4 1268.9,577.5 1269.2,579.7 1269.4,580.9 1269.7,583.9 1269.9,580.9 1270.2,582.1 1270.4,582.7 1270.7,586.2 1270.9,584.6 1271.2,583.9 1271.4,582.9 1271.7,579.6 1271.9,583.4 1272.2,585.5 1272.4,587.4 1272.7,591 1272.9,591.6 1273.2,590.6 1273.4,593.8 1273.7,593.7 1273.9,594.9 1274.1,595.2 1274.4,594.6 1274.6,590.4 1274.9,594.5 1275.1,595.3 1275.4,600.1 1275.6,598.5 1275.9,601.2 1276.1,600.7 1276.4,599.2 1276.6,600.4 1276.9,600.2 1277.1,601.3 1277.4,596.6 1277.6,591.4 1277.9,593.6 1278.1,595.5 1278.4,597.8 1278.6,598.6 1278.9,601.2 1279.1,598.4 1279.4,598.8 1279.6,600 1279.9,600.2 1280.1,602.5 1280.4,597.3 1280.6,590.7 1280.9,592.2 1281.1,596.2 1281.4,599.4 1281.6,598.9 1281.9,598.4 1282.1,600 1282.4,599 1282.6,598.6 1282.9,598.1 1283.1,599.8 1283.4,597.8 1283.6,593.5 1283.9,595.3 1284.1,596.5 1284.4,598 1284.6,597.3 1284.9,597.9 1285.1,596.6 1285.4,597.3 1285.6,597.7 1285.8,595.1 1286.1,596.2 1286.3,594.4 1286.6,592.3 1286.8,594.9 1287.1,593.4 1287.3,594.3 1287.6,595.7 1287.8,594.5 1288.1,595.4 1288.3,594.5 1288.6,594.2 1288.8,595.1 1289.1,594.8 1289.3,590.8 1289.6,588.7 1289.8,591.1 1290.1,592.9 1290.3,592.5 1290.6,590.6 1290.8,592.4 1291.1,592.1 1291.3,591.9 1291.6,592.9 1291.8,591.7 1292.1,595.2 1292.3,589.8 1292.6,583.8 1292.8,587.3 1293.1,588.7 1293.3,590.8 1293.6,592.3 1293.8,594.2 1294.1,593.8 1294.3,592.6 1294.6,590.9 1294.8,593.2 1295.1,595.9 1295.3,591.7 1295.6,589 1295.8,590.3 1296.1,591.2 1296.3,596.7 1296.6,590.5 1296.8,592.3 1297.1,592.8 1297.3,593.2 1297.5,594.9 1297.8,594.2 1298,591.9 1298.3,589.3 1298.5,584.3 1298.8,587.7 1299,590.6 1299.3,592.6 1299.5,591.8 1299.8,592 1300,592.4 1300.3,594.9 1300.5,594.2 1300.8,594.2 1301,595.4 1301.3,592.4 1301.5,592.3 1301.8,589.8 1302,592.9 1302.3,594.1 1302.5,595.2 1302.8,594.6 1303,592.9 1303.3,596.3 1303.5,595.2 1303.8,593.6 1304,597.8 1304.3,592.2 1304.5,590 1304.8,589.7 1305,593.6 1305.3,595.8 1305.5,594.6 1305.8,592.7 1306,595.1 1306.3,594.7 1306.5,594.8 1306.8,596 1307,595.6 1307.3,593.5 1307.5,590.4 1307.8,592.3 1308,593.8 1308.3,596.6 1308.5,592.9 1308.8,595.2 1309,595.4 1309.2,594.5 1309.5,593.7 1309.7,595.4 1310,595.3 1310.2,593.5 1310.5,588.3 1310.7,590.2 1311,593.4 1311.2,594.1 1311.5,596.2 1311.7,593.4 1312,596.8 1312.2,594.5 1312.5,596.6 1312.7,595.3 1313,594.6 1313.2,594.8 1313.5,589.5 1313.7,591.4 1314,594.7 1314.2,595.8 1314.5,594.2 1314.7,596.9 1315,596.3 1315.2,597.6 1315.5,597.5 1315.7,596 1316,595.5 1316.2,595.5 1316.5,590.1 1316.7,592 1317,596.4 1317.2,595.6 1317.5,597.5 1317.7,597.8 1318,597.9 1318.2,597.8 1318.5,597.1 1318.7,596.6 1319,596.2 1319.2,597.3 1319.5,592.1 1319.7,596 1320,598.1 1320.2,596.5 1320.5,596.7 1320.7,596.2 1320.9,596.5 1321.2,596.4 1321.4,598.6 1321.7,598.2 1321.9,598.6 1322.2,595.8 1322.4,594.4 1322.7,593.6 1322.9,595.8 1323.2,596.9 1323.4,598.2 1323.7,598.4 1323.9,598.4 1324.2,598.1 1324.4,600.7 1324.7,599.5 1324.9,597.9 1325.2,596.4 1325.4,593.4 1325.7,595.6 1325.9,597.5 1326.2,598 1326.4,598.9 1326.7,597.8 1326.9,598.6 1327.2,598.5 1327.4,598.3 1327.7,599.8 1327.9,600 1328.2,596.2 1328.4,591.5 1328.7,592.2 1328.9,596.4 1329.2,598.6 1329.4,597.5 1329.7,597.2 1329.9,598.4 1330.2,598 1330.4,599.3 1330.7,599.4 1330.9,599.7 1331.2,596.9 1331.4,595.3 1331.7,596.7 1331.9,599.1 1332.2,600.4 1332.4,599.6 1332.7,600 1332.9,598.8 1333.1,600.3 1333.4,599.5 1333.6,600.4 1333.9,601.6 1334.1,598.7 1334.4,594.1 1334.6,595.6 1334.9,599 1335.1,598.6 1335.4,599.2 1335.6,599.1 1335.9,600.1 1336.1,599.7 1336.4,600.1 1336.6,602.7 1336.9,601.7 1337.1,595.9 1337.4,594.4 1337.6,595.3 1337.9,597.3 1338.1,599.9 1338.4,599.8 1338.6,598.1 1338.9,602.6 1339.1,602.3 1339.4,599.4 1339.6,600.3 1339.9,602.1 1340.1,598.1 1340.4,598.6 1340.6,599.8 1340.9,600.2 1341.1,601.8 1341.4,601.4 1341.6,602.3 1341.9,602.6 1342.1,602.2 1342.4,601 1342.6,603 1342.9,603.2 1343.1,599.5 1343.4,598.1 1343.6,597 1343.9,598.4 1344.1,602.5 1344.4,604 1344.6,603.2 1344.8,601.8 1345.1,603 1345.3,601.3 1345.6,603.8 1345.8,603.3 1346.1,602.1 1346.3,600 1346.6,603 1346.8,601.9 1347.1,602.7 1347.3,602.6 1347.6,603.3 1347.8,603.3 1348.1,603 1348.3,602.9 1348.6,604.4 1348.8,603.3 1349.1,601 1349.3,597.7 1349.6,600.5 1349.8,599.7 1350.1,604.6 1350.3,604.5 1350.6,603.8 1350.8,603.2 1351.1,602 1351.3,602.9 1351.6,603.1 1351.8,603.8 1352.1,602.2 1352.3,595.8 1352.6,598.9 1352.8,602.6 1353.1,604 1353.3,604.3 1353.6,603.7 1353.8,604.1 1354.1,604.4 1354.3,606 1354.6,605.3 1354.8,606.1 1355.1,605.6 1355.3,602.9 1355.6,604.7 1355.8,605.8 1356.1,606.4 1356.3,607.9 1356.5,605.1 1356.8,607 1357,607.7 1357.3,607.2 1357.5,608.7 1357.8,607.8 1358,609.7 1358.3,604.1 1358.5,607.6 1358.8,611.2 1359,610.8 1359.3,611.8 1359.5,614.2 1359.8,613.3 1360,613.5 1360.3,617 1360.5,616.9 1360.8,617.9 1361,616.9 1361.3,613.5 1361.5,614.5 1361.8,619.6 1362,620.6 1362.3,620.4 1362.5,620.8 1362.8,622.4 1363,622.3 1363.3,621.8 1363.5,622.8 1363.8,622.6 1364,620.3 1364.3,617.2 1364.5,621 1364.8,622.6 1365,624.8 1365.3,624.3 1365.5,626.2 1365.8,627.4 1366,627 1366.3,628.8 1366.5,627.9 1366.8,626 1367,627.6 1367.3,621.6 1367.5,626.4 1367.8,627.5 1368,628.4 1368.2,628.9 1368.5,629.2 1368.7,628.9 1369,628.6 1369.2,628.4 1369.5,631 1369.7,632 1370,630 1370.2,624.7 1370.5,627.7 1370.7,629.2 1371,633.3 1371.2,630.3 1371.5,630.6 1371.7,631.7 1372,631.8 1372.2,634.4 1372.5,632.9 1372.7,633.5 1373,632.6 1373.2,627.9 1373.5,631.8 1373.7,632.9 1374,633.2 1374.2,634.7 1374.5,634 1374.7,635.3 1375,636.6 1375.2,636.5 1375.5,637.7 1375.7,637.9 1376,635.4 1376.2,643.3 1376.5,667.5 1376.7,683.1 1377,683.8 1377.2,684.2 1377.5,683.6 1377.7,684.3 1378,685.4 1378.2,686.9 1378.5,686.5 1378.7,688.1 1379,682.9 1379.2,673.7 1379.5,678.1 1379.7,681.6 1379.9,682.8 1380.2,683.7 1380.4,680.7 1380.7,681.7 1380.9,682.5 1381.2,683.6 1381.4,684 1381.7,681 1381.9,680.9 1382.2,679.5 1382.4,678.7 1382.7,679.7 1382.9,680.6 1383.2,682.8 1383.4,678.4 1383.7,680.2 1383.9,679.6 1384.2,679.2 1384.4,679.4 1384.7,678.5 1384.9,676.8 1385.2,672.2 1385.4,675.6 1385.7,677.1 1385.9,678.1 1386.2,676.3 1386.4,676 1386.7,677.5 1386.9,677.4 1387.2,676.5 1387.4,675.9 1387.7,676.2 1387.9,670.8 1388.2,668.8 1388.4,670 1388.7,672.3 1388.9,673.2 1389.2,672.7 1389.4,673 1389.7,672.7 1389.9,673.8 1390.2,671.6 1390.4,672.6 1390.7,672.3 1390.9,668.9 1391.2,663.3"/>
<polyline fill="none" stroke="#f8ae6d" stroke-width="0.98" stroke-linejoin="round" opacity="0.93" points="915.9,627.8 916.2,625.6 916.4,624.7 916.7,620.7 916.9,620 917.2,617.8 917.4,617.8 917.7,616.2 917.9,612.9 918.2,613.5 918.4,613 918.7,609.8 918.9,610 919.2,607.6 919.4,609.2 919.7,608.9 919.9,608.6 920.2,605.6 920.4,607.4 920.7,603.7 920.9,602 921.2,602.8 921.4,602.5 921.7,600.8 921.9,601.3 922.1,597.5 922.4,598.9 922.6,598.1 922.9,599.1 923.1,596.6 923.4,596.7 923.6,597.8 923.9,596 924.1,596.8 924.4,606.9 924.6,626.7 924.9,624 925.1,624.1 925.4,619.7 925.6,621.5 925.9,617.3 926.1,620.8 926.4,620.1 926.6,618.8 926.9,614.1 927.1,616 927.4,612.2 927.6,612.6 927.9,611.7 928.1,609 928.4,607.6 928.6,606.4 928.9,605.2 929.1,606.8 929.4,603.5 929.6,603.8 929.9,603.1 930.1,601.7 930.4,602.9 930.6,601.8 930.9,600 931.1,602.9 931.4,601.6 931.6,602.2 931.9,603.1 932.1,600.4 932.4,598.6 932.6,599.5 932.9,600.6 933.1,598.4 933.4,598.5 933.6,597.6 933.8,596.9 934.1,598.3 934.3,599.2 934.6,599.2 934.8,598.2 935.1,602.1 935.3,599.8 935.6,598.2 935.8,600.1 936.1,600.8 936.3,610.7 936.6,621.8 936.8,620.5 937.1,616.2 937.3,617.2 937.6,617.6 937.8,618.7 938.1,620.9 938.3,622 938.6,624.1 938.8,620.1 939.1,622.1 939.3,621.7 939.6,621.7 939.8,619.4 940.1,616.5 940.3,618.4 940.6,619.3 940.8,624.2 941.1,622.2 941.3,622.3 941.6,620.3 941.8,623.9 942.1,624.4 942.3,623.8 942.6,623.2 942.8,624.6 943.1,620.6 943.3,621.9 943.6,625.6 943.8,626.5 944.1,623 944.3,624.6 944.6,622.8 944.8,625.4 945.1,627.6 945.3,626 945.5,626.6 945.8,623.6 946,623.2 946.3,626.1 946.5,627 946.8,626.1 947,624 947.3,626.1 947.5,625.2 947.8,629.5 948,626.7 948.3,627.1 948.5,626.7 948.8,626.9 949,628.7 949.3,627.1 949.5,627.6 949.8,627.1 950,628.3 950.3,628 950.5,629.5 950.8,628.3 951,629 951.3,629.2 951.5,630.1 951.8,627.5 952,624.5 952.3,626.3 952.5,632.3 952.8,630.2 953,629.1 953.3,629.6 953.5,631.6 953.8,630.4 954,632 954.3,631 954.5,632.8 954.8,630.1 955,629.7 955.3,629.8 955.5,630.8 955.8,632 956,632.1 956.3,630.7 956.5,633.5 956.8,632.6 957,634 957.2,632.8 957.5,633.4 957.7,632.7 958,627.9 958.2,630.1 958.5,632.5 958.7,634.2 959,632.6 959.2,634.3 959.5,634.8 959.7,634.1 960,634.8 960.2,634.8 960.5,634.8 960.7,635.6 961,631.2 961.2,631.5 961.5,633.8 961.7,634.6 962,635.1 962.2,634.2 962.5,636.5 962.7,636.8 963,640.8 963.2,636.1 963.5,635.7 963.7,635.9 964,633.8 964.2,633.6 964.5,637.9 964.7,638.3 965,639.6 965.2,635.8 965.5,637.7 965.7,639.7 966,637.3 966.2,638.1 966.5,637.6 966.7,631.9 967,631 967.2,629.5 967.5,635.8 967.7,636.3 968,635.8 968.2,636.7 968.5,636.5 968.7,634.3 968.9,636.2 969.2,635 969.4,635.7 969.7,632.5 969.9,629.9 970.2,632.2 970.4,632.2 970.7,632.8 970.9,633.3 971.2,631.6 971.4,631.9 971.7,635.3 971.9,635 972.2,636.7 972.4,634.8 972.7,631 972.9,630.3 973.2,631.9 973.4,631.9 973.7,630.5 973.9,632.6 974.2,631.8 974.4,630.4 974.7,632.5 974.9,632.6 975.2,632.6 975.4,629.9 975.7,628.9 975.9,627.4 976.2,629.3 976.4,628.6 976.7,629.6 976.9,630.9 977.2,626.3 977.4,629.2 977.7,629 977.9,628.3 978.2,628.7 978.4,628 978.7,627.4 978.9,622.7 979.2,626.9 979.4,627.1 979.7,626.5 979.9,628.1 980.2,626.8 980.4,630.3 980.6,630.8 980.9,629.6 981.1,632.1 981.4,630.1 981.6,627 981.9,625 982.1,626.2 982.4,629.2 982.6,629.6 982.9,630 983.1,629.8 983.4,632.3 983.6,633.1 983.9,633 984.1,631.6 984.4,631.7 984.6,629.2 984.9,629.3 985.1,630.4 985.4,628.4 985.6,633 985.9,632.2 986.1,631.5 986.4,631.3 986.6,631.1 986.9,631.7 987.1,632.6 987.4,633.4 987.6,628.8 987.9,628.7 988.1,628.5 988.4,632.6 988.6,633.3 988.9,632.6 989.1,629.9 989.4,631.1 989.6,631.7 989.9,635.5 990.1,632 990.4,633.5 990.6,630.8 990.9,627.2 991.1,630.6 991.4,630.5 991.6,632.1 991.9,632.8 992.1,631.5 992.3,630.8 992.6,632.6 992.8,631.5 993.1,629.5 993.3,630.7 993.6,628.5 993.8,627.2 994.1,628 994.3,628.4 994.6,629.2 994.8,629.9 995.1,629 995.3,630.2 995.6,632 995.8,631.6 996.1,633.4 996.3,631.7 996.6,630.9 996.8,627.4 997.1,631.3 997.3,629.3 997.6,632.6 997.8,634.8 998.1,630.8 998.3,633.3 998.6,634.4 998.8,633.8 999.1,636.9 999.3,635 999.6,632.5 999.8,628.7 1000.1,628.4 1000.3,630.5 1000.6,631.4 1000.8,635.4 1001.1,635.5 1001.3,636.4 1001.6,635.8 1001.8,635.7 1002.1,637.7 1002.3,634.5 1002.6,636.6 1002.8,635.2 1003.1,638.1 1003.3,636.5 1003.6,637.1 1003.8,638.6 1004,636 1004.3,638 1004.5,639.9 1004.8,639.8 1005,638 1005.3,637.9 1005.5,635.8 1005.8,631.4 1006,633.2 1006.3,634.1 1006.5,638.6 1006.8,638.3 1007,635.2 1007.3,637.8 1007.5,639.2 1007.8,638.5 1008,636.8 1008.3,639.6 1008.5,634.4 1008.8,632.9 1009,633.3 1009.3,636.5 1009.5,638.1 1009.8,638.7 1010,638 1010.3,639.8 1010.5,638.5 1010.8,639.2 1011,638.4 1011.3,637.7 1011.5,634.6 1011.8,636.7 1012,637 1012.3,639.5 1012.5,639.1 1012.8,639.4 1013,640.5 1013.3,638.6 1013.5,638.6 1013.8,641 1014,638.9 1014.3,637.5 1014.5,638.2 1014.8,637.5 1015,638.5 1015.3,637.6 1015.5,637.9 1015.7,638.8 1016,638.7 1016.2,638.6 1016.5,638.4 1016.7,639.9 1017,637 1017.2,634.9 1017.5,635.1 1017.7,633.6 1018,633.8 1018.2,636.7 1018.5,637.2 1018.7,635.7 1019,636.7 1019.2,636.2 1019.5,639.5 1019.7,638.6 1020,635.6 1020.2,636.6 1020.5,637.6 1020.7,628.7 1021,632.2 1021.2,634.4 1021.5,633.2 1021.7,633.6 1022,636.2 1022.2,636.7 1022.5,633.3 1022.7,634 1023,633.7 1023.2,634.9 1023.5,633.2 1023.7,630.7 1024,631.4 1024.2,630.6 1024.5,631.6 1024.7,633.4 1025,634.6 1025.2,634.8 1025.5,630.2 1025.7,632.8 1026,634.9 1026.2,632.3 1026.5,630 1026.7,630.9 1027,631.7 1027.2,630.9 1027.4,629.6 1027.7,630.9 1027.9,632.7 1028.2,630.6 1028.4,631.2 1028.7,630.4 1028.9,630 1029.2,628.7 1029.4,626.7 1029.7,622.5 1029.9,626.5 1030.2,627.1 1030.4,627.8 1030.7,628.3 1030.9,625.2 1031.2,626.2 1031.4,629 1031.7,626.6 1031.9,627.7 1032.2,625.4 1032.4,654.9 1032.7,703.8 1032.9,703.8 1033.2,703.8 1033.4,689.1 1033.7,692 1033.9,688.1 1034.2,691.7 1034.4,689.6 1034.7,691.4 1034.9,692.8 1035.2,692.3 1035.4,692.1 1035.7,689.6 1035.9,690.3 1036.2,693.9 1036.4,692.5 1036.7,692.5 1036.9,697 1037.2,694.7 1037.4,696.8 1037.7,698.9 1037.9,698.2 1038.2,698.5 1038.4,697.8 1038.7,694.4 1038.9,696.5 1039.1,697.1 1039.4,700.9 1039.6,701 1039.9,701.4 1040.1,702 1040.4,704 1040.6,705.1 1040.9,703.6 1041.1,704.7 1041.4,701.9 1041.6,702 1041.9,701.7 1042.1,703 1042.4,702.7 1042.6,703.6 1042.9,703.9 1043.1,703.1 1043.4,704.8 1043.6,704.9 1043.9,704.6 1044.1,703.6 1044.4,702.1 1044.6,700.7 1044.9,702.7 1045.1,702 1045.4,706.3 1045.6,706.5 1045.9,705.4 1046.1,703.3 1046.4,703.3 1046.6,705.4 1046.9,708.1 1047.1,720.6 1047.4,720.6 1047.6,700.6 1047.9,701.8 1048.1,700.8 1048.4,705.2 1048.6,703.6 1048.9,706.3 1049.1,706.1 1049.4,705.5 1049.6,704.5 1049.9,705.7 1050.1,706 1050.4,704.8 1050.6,700.5 1050.8,704.5 1051.1,703.6 1051.3,706.8 1051.6,703.6 1051.8,707 1052.1,705.8 1052.3,707 1052.6,705 1052.8,703.4 1053.1,705.7 1053.3,702.1 1053.6,702.6 1053.8,699.1 1054.1,702.6 1054.3,703.4 1054.6,703.4 1054.8,702.6 1055.1,700.9 1055.3,704.9 1055.6,704.9 1055.8,703.8 1056.1,704.6 1056.3,699.1 1056.6,698.4 1056.8,700.9 1057.1,699.9 1057.3,698.4 1057.6,701.4 1057.8,701.8 1058.1,701.8 1058.3,695.3 1058.6,695.4 1058.8,693.2 1059.1,693.4 1059.3,689.8 1059.6,684.7 1059.8,686.7 1060.1,681.5 1060.3,682.2 1060.6,683.3 1060.8,683.8 1061.1,681.6 1061.3,680.6 1061.6,682.2 1061.8,681.5 1062.1,680.1 1062.3,676 1062.6,672 1062.8,672 1063,672.5 1063.3,673.4 1063.5,673.6 1063.8,672.2 1064,673.7 1064.3,673 1064.5,671.6 1064.8,672.4 1065,672.8 1065.3,665.1 1065.5,664.2 1065.8,667.4 1066,666.4 1066.3,667.4 1066.5,667.7 1066.8,667.8 1067,667.2 1067.3,666.5 1067.5,665.7 1067.8,666 1068,666.1 1068.3,662.9 1068.5,660.6 1068.8,662.2 1069,661.7 1069.3,664.7 1069.5,663.3 1069.8,664 1070,662.8 1070.3,659.7 1070.5,662.4 1070.8,661.4 1071,660.1 1071.3,659.4 1071.5,654.4 1071.8,657.2 1072,657.6 1072.3,661.4 1072.5,658.1 1072.8,658.2 1073,656.9 1073.3,658.8 1073.5,658.6 1073.8,656.4 1074,654.6 1074.3,655.6 1074.5,652.1 1074.7,650.4 1075,653.6 1075.2,654.2 1075.5,652.9 1075.7,653.3 1076,652.9 1076.2,655.1 1076.5,652.5 1076.7,652.4 1077,653.7 1077.2,651.6 1077.5,640.9 1077.7,644.3 1078,649.5 1078.2,649.5 1078.5,648.9 1078.7,649.8 1079,649.2 1079.2,646.9 1079.5,648.2 1079.7,649.3 1080,649.1 1080.2,643.4 1080.5,636.5 1080.7,639.6 1081,642 1081.2,645.5 1081.5,644.6 1081.7,642.8 1082,643.5 1082.2,642.1 1082.5,642.6 1082.7,643.3 1083,643 1083.2,637.7 1083.5,638.3 1083.7,636.3 1084,639.6 1084.2,640.2 1084.5,640.1 1084.7,639.1 1085,639.7 1085.2,636.7 1085.5,639.2 1085.7,639.1 1086,639 1086.2,636.2 1086.4,631.7 1086.7,632.3 1086.9,634 1087.2,637.9 1087.4,635.6 1087.7,634.5 1087.9,636.8 1088.2,635.4 1088.4,635.6 1088.7,636.8 1088.9,636.6 1089.2,629.8 1089.4,626.9 1089.7,627.4 1089.9,632.1 1090.2,631.7 1090.4,631.7 1090.7,632.6 1090.9,632.3 1091.2,629.3 1091.4,632.2 1091.7,631 1091.9,630.7 1092.2,628.8 1092.4,623.9 1092.7,626.1 1092.9,630.1 1093.2,626.5 1093.4,628.3 1093.7,629.8 1093.9,628.6 1094.2,623.4 1094.4,627.1 1094.7,629.1 1094.9,622.1 1095.2,625.3 1095.4,623.6 1095.7,624.1 1095.9,623.9 1096.2,623 1096.4,623.8 1096.7,625.3 1096.9,625.8 1097.2,626.1 1097.4,623.7 1097.7,621.6 1097.9,622.3 1098.1,619.2 1098.4,618.2 1098.6,621 1098.9,620.7 1099.1,621.1 1099.4,621.5 1099.6,620.8 1099.9,621.6 1100.1,622.4 1100.4,624.1 1100.6,623.5 1100.9,621.9 1101.1,624.1 1101.4,624 1101.6,622.8 1101.9,626.5 1102.1,626 1102.4,627.3 1102.6,627 1102.9,628.7 1103.1,629.8 1103.4,630.1 1103.6,632.9 1103.9,630 1104.1,630.2 1104.4,626.3 1104.6,630.7 1104.9,632.7 1105.1,633.2 1105.4,634.3 1105.6,635.6 1105.9,634.7 1106.1,638 1106.4,637.7 1106.6,638.7 1106.9,639.8 1107.1,633.3 1107.4,629.9 1107.6,631.3 1107.9,634.7 1108.1,636.3 1108.4,637.2 1108.6,636.9 1108.9,637.5 1109.1,637.7 1109.4,645.4 1109.6,645.4 1109.8,645.4 1110.1,634.4 1110.3,628.2 1110.6,632.8 1110.8,634.5 1111.1,637.4 1111.3,636.6 1111.6,635.5 1111.8,635.6 1112.1,652.7 1112.3,652.7 1112.6,652.7 1112.8,637.8 1113.1,635.1 1113.3,629.9 1113.6,633.1 1113.8,633.6 1114.1,637.6 1114.3,638.7 1114.6,635.5 1114.8,638.7 1115.1,654.8 1115.3,654.8 1115.6,654.8 1115.8,635.3 1116.1,634.4 1116.3,631.2 1116.6,633.5 1116.8,635.8 1117.1,634.9 1117.3,636.7 1117.6,637.2 1117.8,637.1 1118.1,638.8 1118.3,659 1118.6,659 1118.8,659 1119.1,633.1 1119.3,627 1119.6,629.1 1119.8,634.7 1120.1,637.8 1120.3,638 1120.6,638.1 1120.8,634.8 1121.1,637.9 1121.3,644.6 1121.5,654.6 1121.8,662.5 1122,660.2 1122.3,653.3 1122.5,656.6 1122.8,659.6 1123,660.6 1123.3,660.3 1123.5,660.5 1123.8,660.8 1124,662.3 1124.3,661.4 1124.5,660.4 1124.8,661.1 1125,658.9 1125.3,656.2 1125.5,657.8 1125.8,656.7 1126,656.1 1126.3,656 1126.5,657 1126.8,656.5 1127,657.4 1127.3,659.3 1127.5,655.6 1127.8,654.6 1128,651 1128.3,650.2 1128.5,650 1128.8,650.2 1129,651.3 1129.3,651.2 1129.5,649.2 1129.8,650.8 1130,649.3 1130.3,648.9 1130.5,649.2 1130.8,649.6 1131,646.3 1131.3,643.7 1131.5,642.1 1131.8,642.7 1132,644 1132.3,644.1 1132.5,645.8 1132.8,645.4 1133,643.1 1133.2,643.4 1133.5,645.4 1133.7,641.6 1134,640.7 1134.2,636.6 1134.5,638.7 1134.7,633.8 1135,639.8 1135.2,637.5 1135.5,639.8 1135.7,634.6 1136,636.7 1136.2,635.9 1136.5,635.9 1136.7,636.3 1137,634.9 1137.2,636.1 1137.5,631.9 1137.7,630.7 1138,634 1138.2,634.9 1138.5,633.6 1138.7,632.3 1139,632.2 1139.2,632.9 1139.5,631.3 1139.7,629.8 1140,629.8 1140.2,624.3 1140.5,626.9 1140.7,627.7 1141,627.9 1141.2,627.3 1141.5,630.7 1141.7,628 1142,629.1 1142.2,628 1142.5,626.2 1142.7,630.6 1143,629.1 1143.2,623.2 1143.5,625.6 1143.7,626 1144,625.9 1144.2,626.8 1144.5,627.2 1144.7,623.2 1144.9,626.9 1145.2,626.7 1145.4,625.8 1145.7,625.9 1145.9,623.8 1146.2,618.2 1146.4,621.1 1146.7,624.1 1146.9,628.3 1147.2,628 1147.4,629.4 1147.7,631.6 1147.9,631 1148.2,629.9 1148.4,631.9 1148.7,634 1148.9,631.5 1149.2,625.7 1149.4,628.6 1149.7,627.9 1149.9,629.1 1150.2,626.7 1150.4,626.3 1150.7,626.5 1150.9,625.8 1151.2,626.3 1151.4,625.2 1151.7,624.2 1151.9,622.2 1152.2,618.2 1152.4,619.2 1152.7,620.5 1152.9,620.8 1153.2,619.2 1153.4,617.7 1153.7,619.6 1153.9,618 1154.2,618.7 1154.4,618.4 1154.7,617.1 1154.9,614.5 1155.2,610.9 1155.4,611 1155.7,611.7 1155.9,612.6 1156.2,612.3 1156.4,613.4 1156.6,614.9 1156.9,610.5 1157.1,608.9 1157.4,610.5 1157.6,609.8 1157.9,606.5 1158.1,606.7 1158.4,605.9 1158.6,604.8 1158.9,603.9 1159.1,606.1 1159.4,606.6 1159.6,603.6 1159.9,602 1160.1,602.9 1160.4,604 1160.6,602.4 1160.9,602.9 1161.1,599.9 1161.4,597.9 1161.6,600.9 1161.9,600.2 1162.1,599.2 1162.4,603.9 1162.6,601 1162.9,602.2 1163.1,599.9 1163.4,600.3 1163.6,596.9 1163.9,596.7 1164.1,592.5 1164.4,595.7 1164.6,598.4 1164.9,598.2 1165.1,596 1165.4,598.7 1165.6,597.8 1165.9,595.5 1166.1,597.1 1166.4,597.5 1166.6,599.4 1166.9,595.6 1167.1,594.4 1167.4,592.8 1167.6,594.6 1167.9,597.3 1168.1,594.7 1168.3,597.3 1168.6,597.6 1168.8,597.3 1169.1,596.5 1169.3,596.4 1169.6,597.1 1169.8,596.8 1170.1,593.5 1170.3,595.3 1170.6,597.3 1170.8,596.4 1171.1,605.2 1171.3,623.6 1171.6,640.2 1171.8,631.9 1172.1,634.9 1172.3,631.8 1172.6,634.9 1172.8,630.6 1173.1,628.8 1173.3,630.2 1173.6,631.4 1173.8,627.9 1174.1,627.7 1174.3,629.9 1174.6,623.3 1174.8,622.2 1175.1,622 1175.3,620.7 1175.6,620.6 1175.8,617 1176.1,613.5 1176.3,612.4 1176.6,613.5 1176.8,612.5 1177.1,614.3 1177.3,612.8 1177.6,611 1177.8,611.9 1178.1,608.1 1178.3,611.1 1178.6,608.5 1178.8,606.5 1179.1,603.6 1179.3,603.8 1179.6,603.9 1179.8,605.2 1180,602.6 1180.3,600.2 1180.5,600 1180.8,602.3 1181,600.8 1181.3,599 1181.5,597.2 1181.8,595.4 1182,594 1182.3,591.4 1182.5,592.8 1182.8,593.5 1183,593.3 1183.3,592.9 1183.5,592.2 1183.8,593.6 1184,591.2 1184.3,591.2 1184.5,591 1184.8,589.1 1185,588.1 1185.3,586.8 1185.5,586.6 1185.8,589.4 1186,589 1186.3,590.4 1186.5,587.7 1186.8,587.7 1187,588.8 1187.3,589.7 1187.5,584.1 1187.8,584 1188,581.3 1188.3,585 1188.5,585.8 1188.8,586.6 1189,614.6 1189.3,633.9 1189.5,629.6 1189.8,624.8 1190,625.2 1190.3,627.7 1190.5,624.6 1190.8,622.9 1191,617.4 1191.3,619.2 1191.5,619.9 1191.7,619.7 1192,620.1 1192.2,619 1192.5,618.6 1192.7,616.1 1193,615.5 1193.2,617.2 1193.5,615.5 1193.7,613.2 1194,613.6 1194.2,611.5 1194.5,610.3 1194.7,613.7 1195,613.7 1195.2,612.4 1195.5,611.5 1195.7,612.2 1196,613.4 1196.2,612.7 1196.5,612.9 1196.7,606.5 1197,606 1197.2,607.9 1197.5,608.5 1197.7,607.2 1198,609.5 1198.2,609.4 1198.5,608.5 1198.7,608 1199,608.9 1199.2,608.6 1199.5,609.1 1199.7,607.1 1200,602.2 1200.2,606.3 1200.5,605.9 1200.7,604.7 1201,607.4 1201.2,605.4 1201.5,604.1 1201.7,603.1 1202,603 1202.2,606.6 1202.5,603.2 1202.7,602.8 1203,598.3 1203.2,601.5 1203.5,601.9 1203.7,602.8 1203.9,601.9 1204.2,602.1 1204.4,602.2 1204.7,599.7 1204.9,599.4 1205.2,602.1 1205.4,600.5 1205.7,597.8 1205.9,595.2 1206.2,593.5 1206.4,595 1206.7,597.8 1206.9,597.8 1207.2,596.2 1207.4,596 1207.7,598.3 1207.9,595.6 1208.2,594.2 1208.4,595.7 1208.7,595.6 1208.9,594.7 1209.2,593.7 1209.4,591.9 1209.7,594.7 1209.9,594.4 1210.2,592.9 1210.4,591.9 1210.7,593.8 1210.9,593.8 1211.2,593.4 1211.4,593.3 1211.7,590.4 1211.9,589.3 1212.2,587.5 1212.4,590.6 1212.7,590.2 1212.9,590.3 1213.2,589.5 1213.4,587.3 1213.7,590.9 1213.9,586.4 1214.2,589.6 1214.4,586.4 1214.7,588.8 1214.9,583.8 1215.2,588.4 1215.4,586.5 1215.6,585.9 1215.9,586.8 1216.1,586.4 1216.4,583.7 1216.6,584.6 1216.9,585.4 1217.1,584.8 1217.4,584.3 1217.6,583.1 1217.9,580.4 1218.1,583.1 1218.4,583 1218.6,580.9 1218.9,582.7 1219.1,581.9 1219.4,582.7 1219.6,582.9 1219.9,578.9 1220.1,580.3 1220.4,579.7 1220.6,576.5 1220.9,577.6 1221.1,578.3 1221.4,579.2 1221.6,577.8 1221.9,578.3 1222.1,580.3 1222.4,579.4 1222.6,577.9 1222.9,582 1223.1,579.6 1223.4,577 1223.6,576.3 1223.9,575 1224.1,577.4 1224.4,576.8 1224.6,578 1224.9,579.8 1225.1,577.5 1225.4,577.6 1225.6,577.7 1225.9,578.3 1226.1,576.2 1226.4,577.6 1226.6,576.9 1226.9,575.1 1227.1,573.8 1227.3,577.7 1227.6,575 1227.8,577.5 1228.1,576.3 1228.3,576.6 1228.6,578.3 1228.8,578.6 1229.1,577.1 1229.3,576.4 1229.6,573.3 1229.8,572.7 1230.1,574.5 1230.3,572.9 1230.6,576 1230.8,575.9 1231.1,575.3 1231.3,574.9 1231.6,575.4 1231.8,576.5 1232.1,575.8 1232.3,576.4 1232.6,575.7 1232.8,574 1233.1,575.2 1233.3,576.7 1233.6,573.7 1233.8,575.1 1234.1,575.6 1234.3,574.6 1234.6,575.6 1234.8,576.9 1235.1,576.1 1235.3,573.6 1235.6,572.9 1235.8,572.2 1236.1,572.7 1236.3,575.1 1236.6,574.7 1236.8,575 1237.1,576.6 1237.3,576.1 1237.6,575.3 1237.8,575.9 1238.1,573.4 1238.3,577.7 1238.6,575.1 1238.8,574.8 1239,577.4 1239.3,576.8 1239.5,577.3 1239.8,578.5 1240,576.2 1240.3,577.6 1240.5,577.5 1240.8,576.7 1241,578.6 1241.3,576.9 1241.5,578.1 1241.8,575.1 1242,576 1242.3,578.6 1242.5,579.9 1242.8,578.7 1243,580.8 1243.3,580 1243.5,581.5 1243.8,578.7 1244,578.9 1244.3,580.6 1244.5,579.6 1244.8,578.4 1245,577.4 1245.3,578.6 1245.5,584.4 1245.8,582.9 1246,581.1 1246.3,579.6 1246.5,583.6 1246.8,580.7 1247,580.3 1247.3,579.8 1247.5,582.6 1247.8,580.5 1248,584.3 1248.3,582.7 1248.5,584.5 1248.8,584.1 1249,583.4 1249.3,585 1249.5,583.1 1249.8,584.2 1250,584 1250.3,585 1250.5,583.1 1250.7,579.8 1251,582.8 1251.2,585 1251.5,583.7 1251.7,586.7 1252,585.5 1252.2,585.1 1252.5,585.6 1252.7,586 1253,587.2 1253.2,586.7 1253.5,585.2 1253.7,582.4 1254,582.4 1254.2,586.8 1254.5,585.5 1254.7,587.3 1255,585.6 1255.2,590.2 1255.5,590.2 1255.7,588.8 1256,588.4 1256.2,590.2 1256.5,588.1 1256.7,585.9 1257,584.9 1257.2,588.6 1257.5,591.7 1257.7,589 1258,588.5 1258.2,587.4 1258.5,587.9 1258.7,588 1259,588.4 1259.2,587.3 1259.5,586.3 1259.7,585.3 1260,584.9 1260.2,585.5 1260.5,583.5 1260.7,584.6 1261,585.1 1261.2,585.9 1261.5,584.3 1261.7,584.5 1262,586 1262.2,585.2 1262.4,582 1262.7,582.6 1262.9,583.6 1263.2,584.6 1263.4,581.5 1263.7,584 1263.9,583.1 1264.2,583 1264.4,581.2 1264.7,582.7 1264.9,581.8 1265.2,579.8 1265.4,579.4 1265.7,574.3 1265.9,577 1266.2,580 1266.4,580.9 1266.7,579.7 1266.9,581.7 1267.2,581.5 1267.4,578.6 1267.7,579.8 1267.9,579.4 1268.2,578.6 1268.4,577.7 1268.7,575.1 1268.9,575 1269.2,580.3 1269.4,578.5 1269.7,581.4 1269.9,582.3 1270.2,583.3 1270.4,582.6 1270.7,585.6 1270.9,582.9 1271.2,584 1271.4,584.6 1271.7,580.3 1271.9,581.8 1272.2,585 1272.4,586.4 1272.7,588.6 1272.9,587.1 1273.2,591.4 1273.4,592.9 1273.7,593.5 1273.9,594.6 1274.1,596.2 1274.4,595.3 1274.6,593 1274.9,593.1 1275.1,596.5 1275.4,601.2 1275.6,600 1275.9,597 1276.1,598.1 1276.4,601 1276.6,599.9 1276.9,600.6 1277.1,600.6 1277.4,598 1277.6,592.3 1277.9,592 1278.1,595.1 1278.4,600.6 1278.6,597.5 1278.9,599.2 1279.1,599.1 1279.4,599.5 1279.6,602.1 1279.9,599.4 1280.1,599 1280.4,595.7 1280.6,594.5 1280.9,593 1281.1,597.5 1281.4,598.3 1281.6,599.6 1281.9,599.4 1282.1,599.7 1282.4,598.1 1282.6,598.3 1282.9,600.4 1283.1,600 1283.4,595.9 1283.6,595.6 1283.9,595.8 1284.1,596.1 1284.4,596.8 1284.6,597.9 1284.9,596.8 1285.1,596.9 1285.4,595.2 1285.6,595.4 1285.8,596.3 1286.1,597.1 1286.3,594.7 1286.6,592.4 1286.8,593.5 1287.1,592.2 1287.3,594.4 1287.6,594 1287.8,592.8 1288.1,595.1 1288.3,594.2 1288.6,595.2 1288.8,592.9 1289.1,595.1 1289.3,591 1289.6,589.2 1289.8,590.5 1290.1,590.6 1290.3,590.9 1290.6,590.6 1290.8,592.3 1291.1,591.4 1291.3,594.6 1291.6,591.9 1291.8,592.9 1292.1,593.2 1292.3,589.4 1292.6,587.6 1292.8,588.1 1293.1,592.6 1293.3,592.4 1293.6,594.1 1293.8,592 1294.1,592.8 1294.3,595 1294.6,593.9 1294.8,593.7 1295.1,593.6 1295.3,591.4 1295.6,589.7 1295.8,589.9 1296.1,591 1296.3,592.5 1296.6,592.6 1296.8,593.6 1297.1,594.4 1297.3,594.4 1297.5,595.2 1297.8,595.3 1298,592 1298.3,588.9 1298.5,586.5 1298.8,587.9 1299,591.6 1299.3,591.8 1299.5,593.2 1299.8,595.4 1300,594.4 1300.3,593.2 1300.5,595.6 1300.8,594 1301,594 1301.3,592.9 1301.5,591.5 1301.8,594.2 1302,593.4 1302.3,594.7 1302.5,592.5 1302.8,591.9 1303,593.6 1303.3,594.9 1303.5,594 1303.8,594 1304,595 1304.3,591.5 1304.5,587 1304.8,590.1 1305,590.8 1305.3,593 1305.5,594.4 1305.8,591.3 1306,595.7 1306.3,593.7 1306.5,594.9 1306.8,595.8 1307,596.6 1307.3,595.5 1307.5,590.7 1307.8,592.2 1308,594.9 1308.3,593.1 1308.5,595.1 1308.8,594.6 1309,594.6 1309.2,595.4 1309.5,595.9 1309.7,594.5 1310,592.9 1310.2,592.5 1310.5,588 1310.7,591 1311,594 1311.2,593.3 1311.5,594.4 1311.7,594.6 1312,594 1312.2,596 1312.5,595.6 1312.7,596.1 1313,595 1313.2,593.8 1313.5,592.2 1313.7,592.1 1314,595.7 1314.2,596 1314.5,595.6 1314.7,596.7 1315,594.6 1315.2,597.8 1315.5,596.3 1315.7,596.1 1316,595.9 1316.2,594.3 1316.5,589 1316.7,593.4 1317,593.1 1317.2,596.9 1317.5,595.3 1317.7,595.8 1318,595.3 1318.2,596.4 1318.5,597.4 1318.7,596.7 1319,597.4 1319.2,595.7 1319.5,594.1 1319.7,594.9 1320,594.9 1320.2,597.3 1320.5,598.2 1320.7,597.6 1320.9,595.5 1321.2,597.2 1321.4,598.8 1321.7,598.1 1321.9,597.4 1322.2,594.7 1322.4,593.7 1322.7,594 1322.9,595.1 1323.2,598.2 1323.4,596.7 1323.7,599.8 1323.9,598.9 1324.2,598.7 1324.4,598.2 1324.7,597.7 1324.9,594.2 1325.2,596.4 1325.4,595.5 1325.7,594.6 1325.9,597 1326.2,596.4 1326.4,598.5 1326.7,597.5 1326.9,598.3 1327.2,597.5 1327.4,598.1 1327.7,599.6 1327.9,596.8 1328.2,597.8 1328.4,590 1328.7,593.5 1328.9,595.3 1329.2,598.7 1329.4,597.6 1329.7,598.7 1329.9,597.5 1330.2,598.4 1330.4,600 1330.7,600.1 1330.9,600.9 1331.2,596.3 1331.4,595.8 1331.7,596.8 1331.9,596.3 1332.2,598.8 1332.4,600.6 1332.7,599.5 1332.9,598.1 1333.1,599.4 1333.4,599.6 1333.6,600.3 1333.9,599.8 1334.1,598.2 1334.4,594.8 1334.6,592.5 1334.9,598.3 1335.1,599.9 1335.4,599.3 1335.6,599.9 1335.9,599.4 1336.1,600.6 1336.4,600.7 1336.6,600 1336.9,598.8 1337.1,599.2 1337.4,594.4 1337.6,596.6 1337.9,597.1 1338.1,599.1 1338.4,599.9 1338.6,599.3 1338.9,602.4 1339.1,602.3 1339.4,602.5 1339.6,603.3 1339.9,602 1340.1,598.9 1340.4,597.9 1340.6,598.4 1340.9,599.2 1341.1,599.2 1341.4,601.8 1341.6,600.1 1341.9,603.3 1342.1,599.1 1342.4,602.5 1342.6,603.7 1342.9,602.4 1343.1,601.2 1343.4,598.3 1343.6,599.7 1343.9,601.4 1344.1,600.9 1344.4,602.8 1344.6,601.7 1344.8,601.3 1345.1,602.3 1345.3,602 1345.6,602.7 1345.8,602.1 1346.1,601 1346.3,602.1 1346.6,599.8 1346.8,601.5 1347.1,601.6 1347.3,601.5 1347.6,601.6 1347.8,601.1 1348.1,602.7 1348.3,604.7 1348.6,602.5 1348.8,601.5 1349.1,599.1 1349.3,599.6 1349.6,596.8 1349.8,600.8 1350.1,601.8 1350.3,604.5 1350.6,600.3 1350.8,605.2 1351.1,601.6 1351.3,601.7 1351.6,602 1351.8,602.9 1352.1,605.7 1352.3,596.5 1352.6,600.9 1352.8,604 1353.1,604.4 1353.3,603.5 1353.6,605.3 1353.8,603.4 1354.1,603.2 1354.3,602.8 1354.6,606.7 1354.8,607.5 1355.1,605.1 1355.3,603.2 1355.6,602.6 1355.8,604.5 1356.1,608.5 1356.3,609.3 1356.5,607.6 1356.8,608.6 1357,608.4 1357.3,609 1357.5,609 1357.8,607.5 1358,608.2 1358.3,605.3 1358.5,608.6 1358.8,608.7 1359,612.1 1359.3,613.4 1359.5,613.1 1359.8,614 1360,616.2 1360.3,615.8 1360.5,618.9 1360.8,618.5 1361,615.5 1361.3,613.4 1361.5,613.9 1361.8,618.6 1362,621.3 1362.3,621.4 1362.5,618.6 1362.8,622.2 1363,621.8 1363.3,623.4 1363.5,625.3 1363.8,625.2 1364,621.7 1364.3,619.6 1364.5,619.1 1364.8,621.8 1365,621.8 1365.3,623.9 1365.5,626 1365.8,625.3 1366,628.7 1366.3,626.4 1366.5,627.8 1366.8,627.6 1367,626.3 1367.3,625.3 1367.5,623.1 1367.8,624.8 1368,624.8 1368.2,627.4 1368.5,630.1 1368.7,629.3 1369,631.4 1369.2,630.4 1369.5,630 1369.7,631 1370,627.7 1370.2,627 1370.5,626.3 1370.7,629.1 1371,629.8 1371.2,632.7 1371.5,634.7 1371.7,631.5 1372,632.3 1372.2,635.5 1372.5,632.8 1372.7,633.6 1373,630.3 1373.2,628.9 1373.5,629.8 1373.7,631.1 1374,632.7 1374.2,634.1 1374.5,632.9 1374.7,634.4 1375,634.1 1375.2,634.7 1375.5,635.7 1375.7,635.8 1376,636.8 1376.2,690.3 1376.5,668.6 1376.7,682.6 1377,686.7 1377.2,687.1 1377.5,683 1377.7,684.6 1378,683.3 1378.2,688.3 1378.5,686.5 1378.7,686.1 1379,681.1 1379.2,674.9 1379.5,678.5 1379.7,680.5 1379.9,683.3 1380.2,683 1380.4,681.2 1380.7,682.2 1380.9,681.8 1381.2,684.6 1381.4,682.8 1381.7,683.3 1381.9,680.3 1382.2,680 1382.4,679.1 1382.7,679.1 1382.9,680.5 1383.2,679.6 1383.4,679 1383.7,680.3 1383.9,679.8 1384.2,679.7 1384.4,679.3 1384.7,676 1384.9,677.5 1385.2,675.4 1385.4,675.2 1385.7,676.9 1385.9,677.2 1386.2,677.5 1386.4,676.9 1386.7,676.4 1386.9,676.5 1387.2,676.7 1387.4,676.3 1387.7,674.8 1387.9,673.8 1388.2,670.1 1388.4,669.6 1388.7,672 1388.9,674.7 1389.2,673.9 1389.4,670.6 1389.7,674.5 1389.9,674.1 1390.2,670.7 1390.4,673.1 1390.7,672.6 1390.9,668.9 1391.2,665.3"/>
</g>
<rect x="915.8" y="529.5" width="475.7" height="208.8" fill="none" stroke="#707070" stroke-width="1.1"/>
<line x1="913.8" x2="915.8" y1="738.3" y2="738.3" stroke="#707070" stroke-width="0.8"/>
<text x="912" y="741.2" text-anchor="end" font-family="'Liberation Sans','DejaVu Sans',sans-serif" font-size="8.6" letter-spacing="0" fill="#333">10</text>
<line x1="913.8" x2="915.8" y1="686.1" y2="686.1" stroke="#707070" stroke-width="0.8"/>
<text x="912" y="689" text-anchor="end" font-family="'Liberation Sans','DejaVu Sans',sans-serif" font-size="8.6" letter-spacing="0" fill="#333">15</text>
<line x1="913.8" x2="915.8" y1="633.9" y2="633.9" stroke="#707070" stroke-width="0.8"/>
<text x="912" y="636.8" text-anchor="end" font-family="'Liberation Sans','DejaVu Sans',sans-serif" font-size="8.6" letter-spacing="0" fill="#333">20</text>
<line x1="913.8" x2="915.8" y1="581.7" y2="581.7" stroke="#707070" stroke-width="0.8"/>
<text x="912" y="584.6" text-anchor="end" font-family="'Liberation Sans','DejaVu Sans',sans-serif" font-size="8.6" letter-spacing="0" fill="#333">25</text>
<line x1="913.8" x2="915.8" y1="529.5" y2="529.5" stroke="#707070" stroke-width="0.8"/>
<text x="912" y="532.4" text-anchor="end" font-family="'Liberation Sans','DejaVu Sans',sans-serif" font-size="8.6" letter-spacing="0" fill="#333">30</text>
<line x1="940.7" x2="940.7" y1="738.3" y2="740.3" stroke="#707070" stroke-width="0.8"/>
<text transform="translate(939.9 746.8) rotate(-33)" text-anchor="end" font-family="'Liberation Sans','DejaVu Sans',sans-serif" font-size="7.6" fill="#2a2a2a" stroke="#2a2a2a" stroke-width="0.2">200</text>
<line x1="965.6" x2="965.6" y1="738.3" y2="740.3" stroke="#707070" stroke-width="0.8"/>
<text transform="translate(964.8 746.8) rotate(-33)" text-anchor="end" font-family="'Liberation Sans','DejaVu Sans',sans-serif" font-size="7.6" fill="#2a2a2a" stroke="#2a2a2a" stroke-width="0.2">400</text>
<line x1="990.5" x2="990.5" y1="738.3" y2="740.3" stroke="#707070" stroke-width="0.8"/>
<text transform="translate(989.7 746.8) rotate(-33)" text-anchor="end" font-family="'Liberation Sans','DejaVu Sans',sans-serif" font-size="7.6" fill="#2a2a2a" stroke="#2a2a2a" stroke-width="0.2">600</text>
<line x1="1015.4" x2="1015.4" y1="738.3" y2="740.3" stroke="#707070" stroke-width="0.8"/>
<text transform="translate(1014.6 746.8) rotate(-33)" text-anchor="end" font-family="'Liberation Sans','DejaVu Sans',sans-serif" font-size="7.6" fill="#2a2a2a" stroke="#2a2a2a" stroke-width="0.2">800</text>
<line x1="1040.3" x2="1040.3" y1="738.3" y2="740.3" stroke="#707070" stroke-width="0.8"/>
<text transform="translate(1039.5 746.8) rotate(-33)" text-anchor="end" font-family="'Liberation Sans','DejaVu Sans',sans-serif" font-size="7.6" fill="#2a2a2a" stroke="#2a2a2a" stroke-width="0.2">1000</text>
<line x1="1065.2" x2="1065.2" y1="738.3" y2="740.3" stroke="#707070" stroke-width="0.8"/>
<text transform="translate(1064.4 746.8) rotate(-33)" text-anchor="end" font-family="'Liberation Sans','DejaVu Sans',sans-serif" font-size="7.6" fill="#2a2a2a" stroke="#2a2a2a" stroke-width="0.2">1200</text>
<line x1="1090.1" x2="1090.1" y1="738.3" y2="740.3" stroke="#707070" stroke-width="0.8"/>
<text transform="translate(1089.3 746.8) rotate(-33)" text-anchor="end" font-family="'Liberation Sans','DejaVu Sans',sans-serif" font-size="7.6" fill="#2a2a2a" stroke="#2a2a2a" stroke-width="0.2">1400</text>
<line x1="1115" x2="1115" y1="738.3" y2="740.3" stroke="#707070" stroke-width="0.8"/>
<text transform="translate(1114.2 746.8) rotate(-33)" text-anchor="end" font-family="'Liberation Sans','DejaVu Sans',sans-serif" font-size="7.6" fill="#2a2a2a" stroke="#2a2a2a" stroke-width="0.2">1600</text>
<line x1="1139.8" x2="1139.8" y1="738.3" y2="740.3" stroke="#707070" stroke-width="0.8"/>
<text transform="translate(1139 746.8) rotate(-33)" text-anchor="end" font-family="'Liberation Sans','DejaVu Sans',sans-serif" font-size="7.6" fill="#2a2a2a" stroke="#2a2a2a" stroke-width="0.2">1800</text>
<line x1="1164.7" x2="1164.7" y1="738.3" y2="740.3" stroke="#707070" stroke-width="0.8"/>
<text transform="translate(1163.9 746.8) rotate(-33)" text-anchor="end" font-family="'Liberation Sans','DejaVu Sans',sans-serif" font-size="7.6" fill="#2a2a2a" stroke="#2a2a2a" stroke-width="0.2">2000</text>
<line x1="1189.6" x2="1189.6" y1="738.3" y2="740.3" stroke="#707070" stroke-width="0.8"/>
<text transform="translate(1188.8 746.8) rotate(-33)" text-anchor="end" font-family="'Liberation Sans','DejaVu Sans',sans-serif" font-size="7.6" fill="#2a2a2a" stroke="#2a2a2a" stroke-width="0.2">2200</text>
<line x1="1214.5" x2="1214.5" y1="738.3" y2="740.3" stroke="#707070" stroke-width="0.8"/>
<text transform="translate(1213.7 746.8) rotate(-33)" text-anchor="end" font-family="'Liberation Sans','DejaVu Sans',sans-serif" font-size="7.6" fill="#2a2a2a" stroke="#2a2a2a" stroke-width="0.2">2400</text>
<line x1="1239.4" x2="1239.4" y1="738.3" y2="740.3" stroke="#707070" stroke-width="0.8"/>
<text transform="translate(1238.6 746.8) rotate(-33)" text-anchor="end" font-family="'Liberation Sans','DejaVu Sans',sans-serif" font-size="7.6" fill="#2a2a2a" stroke="#2a2a2a" stroke-width="0.2">2600</text>
<line x1="1264.3" x2="1264.3" y1="738.3" y2="740.3" stroke="#707070" stroke-width="0.8"/>
<text transform="translate(1263.5 746.8) rotate(-33)" text-anchor="end" font-family="'Liberation Sans','DejaVu Sans',sans-serif" font-size="7.6" fill="#2a2a2a" stroke="#2a2a2a" stroke-width="0.2">2800</text>
<line x1="1289.2" x2="1289.2" y1="738.3" y2="740.3" stroke="#707070" stroke-width="0.8"/>
<text transform="translate(1288.4 746.8) rotate(-33)" text-anchor="end" font-family="'Liberation Sans','DejaVu Sans',sans-serif" font-size="7.6" fill="#2a2a2a" stroke="#2a2a2a" stroke-width="0.2">3000</text>
<line x1="1314.1" x2="1314.1" y1="738.3" y2="740.3" stroke="#707070" stroke-width="0.8"/>
<text transform="translate(1313.3 746.8) rotate(-33)" text-anchor="end" font-family="'Liberation Sans','DejaVu Sans',sans-serif" font-size="7.6" fill="#2a2a2a" stroke="#2a2a2a" stroke-width="0.2">3200</text>
<line x1="1339" x2="1339" y1="738.3" y2="740.3" stroke="#707070" stroke-width="0.8"/>
<text transform="translate(1338.2 746.8) rotate(-33)" text-anchor="end" font-family="'Liberation Sans','DejaVu Sans',sans-serif" font-size="7.6" fill="#2a2a2a" stroke="#2a2a2a" stroke-width="0.2">3400</text>
<line x1="1363.9" x2="1363.9" y1="738.3" y2="740.3" stroke="#707070" stroke-width="0.8"/>
<text transform="translate(1363.1 746.8) rotate(-33)" text-anchor="end" font-family="'Liberation Sans','DejaVu Sans',sans-serif" font-size="7.6" fill="#2a2a2a" stroke="#2a2a2a" stroke-width="0.2">3600</text>
<line x1="1388.8" x2="1388.8" y1="738.3" y2="740.3" stroke="#707070" stroke-width="0.8"/>
<text transform="translate(1388 746.8) rotate(-33)" text-anchor="end" font-family="'Liberation Sans','DejaVu Sans',sans-serif" font-size="7.6" fill="#2a2a2a" stroke="#2a2a2a" stroke-width="0.2">3800</text>
<text x="1152.5" y="765.5" text-anchor="middle" font-family="'Liberation Sans','DejaVu Sans',sans-serif" font-size="10.2" letter-spacing="0.4" fill="#222">hour</text>
<text transform="translate(900 634) rotate(-90) scale(0.86,1)" text-anchor="middle" font-family="'Liberation Mono','DejaVu Sans Mono',monospace" font-size="10.5" letter-spacing="0" fill="#1e1e1e" stroke="#1e1e1e" stroke-width="0.15">temperature/<tspan font-family="'Liberation Sans','DejaVu Sans',sans-serif" font-size="10.8" dx="-0.5">°C</tspan></text>
<rect x="1294.9" y="533.4" width="92.3" height="25" rx="1.5" fill="#fff" fill-opacity="0.8" stroke="#dcdcdc" stroke-width="0.8"/>
<line x1="1297.8" x2="1315.3" y1="540.1" y2="540.1" stroke="#2a93b5" stroke-width="1.1"/>
<text transform="translate(1320.6 542.4) scale(0.9,1)" font-family="'Liberation Mono','DejaVu Sans Mono',monospace" font-size="7.7" letter-spacing="0" fill="#1e1e1e" stroke="#1e1e1e" stroke-width="0.12">measured value</text>
<line x1="1297.8" x2="1315.3" y1="551.1" y2="551.1" stroke="#f8ae6d" stroke-width="1.1"/>
<text transform="translate(1320.6 553.4) scale(0.9,1)" font-family="'Liberation Mono','DejaVu Sans Mono',monospace" font-size="7.7" letter-spacing="0" fill="#1e1e1e" stroke="#1e1e1e" stroke-width="0.12">predicted value</text>
<text x="1141.5" y="789.3" text-anchor="middle" font-family="'DejaVu Serif','Liberation Serif',serif" font-size="9.35px" fill="#1a1a1a" letter-spacing="0"><tspan font-weight="bold">Fig. 20.</tspan><tspan dx="4">Temperature prediction of secondary bedroom 2 of Strategy 2.</tspan></text>
</g>
</svg>
 <div id="pg">20</div>
</div>
</body>
</html>
